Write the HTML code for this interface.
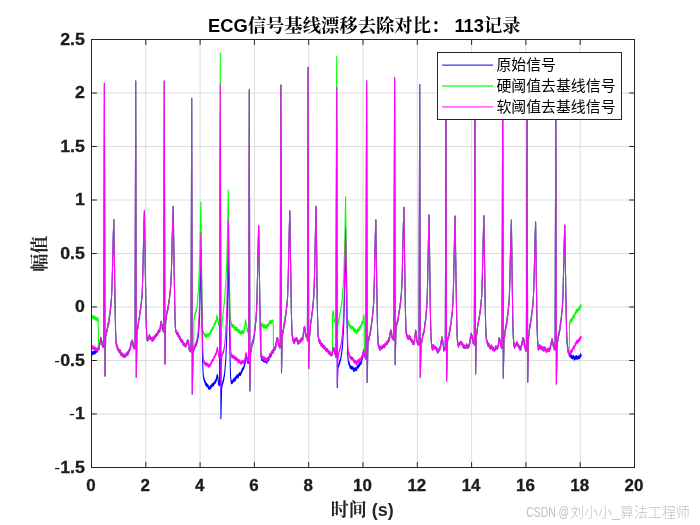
<!DOCTYPE html>
<html lang="zh"><head><meta charset="utf-8"><title>ECG信号基线漂移去除对比</title>
<style>
html,body{margin:0;padding:0;background:#fff;}
body{width:700px;height:525px;overflow:hidden;}
svg{display:block;}
.tick{font-family:"Liberation Sans",sans-serif;font-weight:bold;font-size:15.7px;fill:#1c1c1c;stroke:#1c1c1c;stroke-width:0.3px;}
.mn{font-weight:normal;stroke:none;}
.ttl{font-family:"Liberation Sans","Noto Serif CJK SC",serif;font-weight:bold;font-size:18.33px;fill:#000;}
.lab{font-family:"Liberation Sans","Noto Serif CJK SC",serif;font-weight:bold;font-size:18px;fill:#262626;}
.leg{font-family:"Liberation Sans","Noto Sans CJK SC",sans-serif;font-size:14.9px;fill:#000;}
.wm{font-family:"Liberation Sans","Noto Sans CJK SC",sans-serif;font-size:14px;fill:#c0c0c0;stroke:#fff;stroke-width:2px;paint-order:stroke fill;stroke-linejoin:round;}
.wmc{font-size:13.9px;font-weight:300;letter-spacing:0.08px;}
</style></head>
<body>
<svg width="700" height="525" viewBox="0 0 700 525">
<rect x="0" y="0" width="700" height="525" fill="#ffffff"/>
<g id="grid">
<line x1="145.80" y1="39.5" x2="145.80" y2="467.5" stroke="#dcdcdc" stroke-width="1" shape-rendering="auto"/>
<line x1="200.10" y1="39.5" x2="200.10" y2="467.5" stroke="#dcdcdc" stroke-width="1" shape-rendering="auto"/>
<line x1="254.40" y1="39.5" x2="254.40" y2="467.5" stroke="#dcdcdc" stroke-width="1" shape-rendering="auto"/>
<line x1="308.70" y1="39.5" x2="308.70" y2="467.5" stroke="#dcdcdc" stroke-width="1" shape-rendering="auto"/>
<line x1="363.00" y1="39.5" x2="363.00" y2="467.5" stroke="#dcdcdc" stroke-width="1" shape-rendering="auto"/>
<line x1="417.30" y1="39.5" x2="417.30" y2="467.5" stroke="#dcdcdc" stroke-width="1" shape-rendering="auto"/>
<line x1="471.60" y1="39.5" x2="471.60" y2="467.5" stroke="#dcdcdc" stroke-width="1" shape-rendering="auto"/>
<line x1="525.90" y1="39.5" x2="525.90" y2="467.5" stroke="#dcdcdc" stroke-width="1" shape-rendering="auto"/>
<line x1="580.20" y1="39.5" x2="580.20" y2="467.5" stroke="#dcdcdc" stroke-width="1" shape-rendering="auto"/>
<line x1="91.5" y1="93.00" x2="634.5" y2="93.00" stroke="#dcdcdc" stroke-width="1"/>
<line x1="91.5" y1="146.50" x2="634.5" y2="146.50" stroke="#dcdcdc" stroke-width="1"/>
<line x1="91.5" y1="200.00" x2="634.5" y2="200.00" stroke="#dcdcdc" stroke-width="1"/>
<line x1="91.5" y1="253.50" x2="634.5" y2="253.50" stroke="#dcdcdc" stroke-width="1"/>
<line x1="91.5" y1="307.00" x2="634.5" y2="307.00" stroke="#dcdcdc" stroke-width="1"/>
<line x1="91.5" y1="360.50" x2="634.5" y2="360.50" stroke="#dcdcdc" stroke-width="1"/>
<line x1="91.5" y1="414.00" x2="634.5" y2="414.00" stroke="#dcdcdc" stroke-width="1"/>
</g>
<clipPath id="axclip"><rect x="91.5" y="39.5" width="543.0" height="428.0"/></clipPath>
<g id="curves" clip-path="url(#axclip)">
<polyline points="91.00,355.5 91.08,353.0 91.16,355.5 91.24,353.3 91.32,354.2 91.40,352.0 91.48,353.6 91.56,352.0 91.64,354.9 91.72,352.8 91.80,354.5 91.88,353.0 91.96,354.5 92.04,353.3 92.12,354.8 92.20,352.8 92.28,355.3 92.36,352.5 92.44,354.5 92.52,351.9 92.60,354.1 92.68,352.8 92.76,354.0 92.84,352.1 92.92,353.1 93.00,351.9 93.08,353.5 93.16,351.3 93.24,353.9 93.32,351.6 93.40,353.2 93.48,351.5 93.56,352.9 93.64,352.2 93.72,354.1 93.80,352.4 93.88,353.7 93.96,352.2 94.04,354.3 94.12,352.3 94.20,353.8 94.28,352.1 94.36,353.9 94.44,351.1 94.52,353.3 94.60,351.0 94.68,352.7 94.76,351.1 94.84,352.7 94.92,350.6 95.00,352.5 95.08,350.4 95.16,352.4 95.24,351.2 95.32,353.2 95.40,351.6 95.48,353.3 95.56,351.3 95.64,353.5 95.72,350.5 95.80,352.6 95.88,350.2 95.96,352.0 96.04,350.6 96.12,351.5 96.20,350.0 96.28,351.5 96.36,350.4 96.44,352.2 96.52,350.2 96.60,351.7 96.68,349.9 96.76,352.0 96.84,349.4 96.92,351.3 97.00,349.4 97.08,352.2 97.16,349.0 97.24,351.3 97.32,350.0 97.40,351.4 97.48,349.6 97.56,351.8 97.64,349.9 97.72,351.4 97.80,348.8 97.88,350.3 97.96,348.2 98.04,349.8 98.12,348.1 98.20,348.7 98.28,346.9 98.36,349.4 98.44,347.6 98.52,349.5 98.60,347.5 98.68,349.2 98.76,348.3 98.84,349.1 98.92,348.0 99.00,349.7 99.08,346.6 99.16,347.8 99.24,345.7 99.32,347.7 99.40,345.0 99.48,346.6 99.56,343.8 99.64,345.3 99.72,343.3 99.80,345.1 99.88,342.0 99.96,343.6 100.04,341.1 100.12,342.2 100.20,339.9 100.28,341.9 100.36,339.4 100.44,340.6 100.52,337.7 100.60,339.1 100.68,337.4 100.76,339.7 100.84,337.5 100.92,339.8 101.00,338.3 101.08,339.9 101.16,338.6 101.24,339.8 101.32,339.1 101.40,341.6 101.48,339.5 101.56,341.5 101.64,340.6 101.72,342.9 101.80,341.1 101.88,343.7 101.96,341.6 102.04,344.1 102.12,342.1 102.20,345.2 102.28,343.5 102.36,346.0 102.44,343.8 102.52,346.4 102.60,344.1 102.68,346.2 102.76,345.0 102.84,347.0 102.92,344.9 103.00,346.6 103.08,344.6 103.16,346.9 103.24,344.7 103.32,346.8 103.40,344.3 103.48,346.8 103.56,345.5 103.64,347.5 103.72,338.8 103.80,309.9 103.88,277.7 103.96,250.0 104.04,218.0 104.12,189.4 104.20,157.3 104.28,129.2 104.36,97.1 104.40,83.3 104.44,100.8 104.52,142.0 104.60,178.9 104.68,220.3 104.76,257.7 104.84,297.6 104.92,335.2 105.00,375.9 105.00,374.8 105.08,371.1 105.16,365.0 105.24,362.5 105.32,355.1 105.40,353.3 105.48,346.3 105.56,344.1 105.64,338.3 105.72,336.1 105.80,335.2 105.88,336.1 105.96,334.3 106.04,335.6 106.12,333.6 106.20,334.2 106.28,332.5 106.36,333.8 106.44,331.5 106.52,332.4 106.60,330.8 106.68,332.5 106.76,329.9 106.84,331.7 106.92,329.2 107.00,331.7 107.08,329.6 107.16,331.0 107.24,329.1 107.32,330.6 107.40,327.6 107.48,329.9 107.56,327.5 107.64,328.0 107.72,326.0 107.80,326.1 107.88,324.3 107.96,326.0 108.04,323.9 108.12,325.9 108.20,323.2 108.28,324.7 108.36,322.5 108.44,325.2 108.52,323.0 108.60,324.5 108.68,321.8 108.76,324.0 108.84,321.5 108.92,322.3 109.00,319.1 109.08,320.9 109.16,318.0 109.24,319.2 109.32,316.6 109.40,318.6 109.48,315.4 109.56,316.8 109.64,315.0 109.72,316.0 109.80,314.1 109.88,314.9 109.96,311.6 110.04,313.4 110.12,311.2 110.20,311.9 110.28,309.3 110.36,310.0 110.44,308.5 110.52,308.9 110.60,306.5 110.68,308.7 110.76,306.1 110.84,306.4 110.92,304.1 111.00,305.0 111.08,302.5 111.16,303.3 111.24,300.2 111.32,301.0 111.40,298.0 111.48,299.0 111.56,295.8 111.64,295.6 111.72,292.1 111.80,292.0 111.88,289.2 111.96,288.0 112.04,284.7 112.12,283.7 112.20,279.1 112.28,277.2 112.36,272.0 112.44,271.2 112.52,266.3 112.60,264.3 112.68,258.1 112.76,256.5 112.84,251.7 112.92,249.9 113.00,245.0 113.08,244.4 113.16,238.7 113.24,238.3 113.32,233.3 113.40,232.1 113.48,228.7 113.56,228.6 113.64,224.2 113.72,223.4 113.80,219.6 113.80,219.9 113.88,225.1 113.96,232.0 114.04,236.4 114.12,243.4 114.20,246.1 114.28,253.8 114.36,256.6 114.44,265.0 114.52,267.7 114.60,275.5 114.68,278.5 114.76,285.5 114.84,288.7 114.92,295.8 115.00,298.8 115.08,306.2 115.16,308.5 115.24,314.6 115.32,316.9 115.40,322.3 115.48,324.6 115.56,330.7 115.64,331.8 115.72,335.8 115.80,335.6 115.88,339.4 115.96,338.9 116.04,342.8 116.12,341.8 116.20,343.7 116.28,342.4 116.36,345.3 116.44,343.8 116.52,345.8 116.60,343.5 116.68,346.4 116.76,344.9 116.84,346.0 116.92,344.5 117.00,347.0 117.08,345.9 117.16,347.5 117.24,345.7 117.32,348.4 117.40,347.3 117.48,349.4 117.56,347.3 117.64,349.5 117.72,347.8 117.80,349.3 117.88,348.3 117.96,349.7 118.04,348.5 118.12,350.6 118.20,348.4 118.28,350.0 118.36,348.3 118.44,351.3 118.52,348.8 118.60,351.1 118.68,349.6 118.76,351.5 118.84,350.7 118.92,351.4 119.00,349.7 119.08,351.3 119.16,350.5 119.24,352.6 119.32,350.2 119.40,351.6 119.48,350.1 119.56,351.7 119.64,349.8 119.72,351.6 119.80,350.2 119.88,352.5 119.96,350.2 120.04,351.9 120.12,349.8 120.20,352.9 120.28,351.2 120.36,352.6 120.44,351.9 120.52,354.1 120.60,351.3 120.68,353.6 120.76,351.9 120.84,354.4 120.92,353.3 121.00,355.1 121.08,352.9 121.16,354.7 121.24,353.6 121.32,355.5 121.40,354.3 121.48,355.2 121.56,353.5 121.64,355.4 121.72,352.8 121.80,355.5 121.88,353.0 121.96,355.8 122.04,353.5 122.12,355.9 122.20,353.5 122.28,355.3 122.36,354.5 122.44,356.6 122.52,354.7 122.60,356.2 122.68,353.9 122.76,355.9 122.84,353.5 122.92,355.7 123.00,354.4 123.08,355.9 123.16,353.9 123.24,356.5 123.32,354.2 123.40,356.4 123.48,354.5 123.56,356.8 123.64,354.6 123.72,357.3 123.80,354.9 123.88,356.6 123.96,354.5 124.04,356.9 124.12,355.1 124.20,357.3 124.28,355.3 124.36,357.1 124.44,355.0 124.52,356.6 124.60,354.9 124.68,356.8 124.76,355.3 124.84,357.4 124.92,355.5 125.00,357.2 125.08,355.1 125.16,357.2 125.24,355.5 125.32,356.7 125.40,354.5 125.48,356.8 125.56,354.3 125.64,355.9 125.72,353.8 125.80,355.8 125.88,354.4 125.96,356.0 126.04,354.1 126.12,355.4 126.20,353.8 126.28,355.5 126.36,354.1 126.44,355.8 126.52,353.6 126.60,355.7 126.68,353.4 126.76,355.2 126.84,353.2 126.92,355.4 127.00,352.4 127.08,354.8 127.16,352.9 127.24,355.2 127.32,353.0 127.40,354.9 127.48,352.5 127.56,354.4 127.64,352.0 127.72,354.4 127.80,353.1 127.88,355.0 127.96,352.9 128.04,354.3 128.12,351.7 128.20,353.6 128.28,351.6 128.36,352.9 128.44,351.6 128.52,353.7 128.60,351.0 128.68,352.8 128.76,350.3 128.84,352.5 128.92,350.2 129.00,352.6 129.08,350.8 129.16,351.9 129.24,350.3 129.32,351.7 129.40,349.1 129.48,351.2 129.56,349.1 129.64,350.7 129.72,348.9 129.80,350.8 129.88,348.0 129.96,349.8 130.04,347.8 130.12,349.6 130.20,347.0 130.28,348.8 130.36,347.2 130.44,348.8 130.52,346.2 130.60,347.6 130.68,345.6 130.76,346.4 130.84,344.1 130.92,346.2 131.00,343.4 131.08,345.3 131.16,342.7 131.24,344.0 131.32,342.1 131.40,343.2 131.48,341.2 131.56,343.1 131.64,340.5 131.72,342.0 131.80,340.2 131.88,342.4 131.96,340.4 132.04,341.7 132.12,340.0 132.20,341.8 132.28,340.4 132.36,342.6 132.44,340.8 132.52,342.5 132.60,341.3 132.68,343.2 132.76,341.6 132.84,343.8 132.92,342.3 133.00,345.0 133.08,343.8 133.16,345.7 133.24,344.8 133.32,346.9 133.40,344.9 133.48,347.7 133.56,346.0 133.64,347.4 133.72,345.9 133.80,348.3 133.88,346.8 133.96,348.8 134.04,346.3 134.12,348.2 134.20,346.0 134.28,348.5 134.36,346.4 134.44,347.8 134.52,346.7 134.60,348.1 134.68,346.2 134.76,347.9 134.84,346.3 134.92,348.8 135.00,348.4 135.08,319.1 135.16,287.0 135.24,258.5 135.32,226.2 135.40,196.6 135.48,164.7 135.56,135.8 135.64,103.8 135.70,81.0 135.72,89.9 135.80,130.7 135.88,168.6 135.96,210.0 136.04,247.7 136.12,289.1 136.20,326.9 136.28,368.1 136.30,377.2 136.36,375.0 136.44,367.0 136.52,364.2 136.60,357.5 136.68,353.4 136.76,345.6 136.84,342.7 136.92,336.1 137.00,333.2 137.08,329.5 137.16,330.8 137.24,329.0 137.32,329.9 137.40,327.7 137.48,330.3 137.56,327.4 137.64,329.5 137.72,326.8 137.80,328.7 137.88,326.3 137.96,328.3 138.04,325.3 138.12,326.5 138.20,324.2 138.28,324.7 138.36,322.4 138.44,324.1 138.52,321.4 138.60,322.9 138.68,320.0 138.76,321.2 138.84,319.7 138.92,319.9 139.00,318.3 139.08,319.6 139.16,317.7 139.24,319.8 139.32,317.2 139.40,318.7 139.48,315.5 139.56,317.3 139.64,314.4 139.72,315.5 139.80,313.1 139.88,314.6 139.96,312.5 140.04,313.7 140.12,310.6 140.20,312.0 140.28,310.0 140.36,311.7 140.44,309.2 140.52,310.2 140.60,308.2 140.68,309.3 140.76,307.0 140.84,307.9 140.92,306.1 141.00,306.8 141.08,304.4 141.16,305.1 141.24,303.1 141.32,304.1 141.40,300.9 141.48,301.5 141.56,299.7 141.64,300.7 141.72,297.8 141.80,299.1 141.88,295.7 141.96,297.3 142.04,294.2 142.12,295.2 142.20,291.8 142.28,292.7 142.36,288.0 142.44,287.0 142.52,282.7 142.60,282.8 142.68,278.3 142.76,277.2 142.84,271.9 142.92,270.3 143.00,264.9 143.08,263.6 143.16,258.6 143.24,256.1 143.32,250.8 143.40,248.4 143.48,243.6 143.56,241.7 143.64,237.3 143.72,235.3 143.80,230.6 143.88,229.0 143.96,223.4 144.04,222.9 144.12,218.7 144.20,218.4 144.28,214.2 144.36,212.4 144.40,210.7 144.44,213.8 144.52,217.4 144.60,224.0 144.68,228.2 144.76,235.7 144.84,238.3 144.92,244.5 145.00,248.7 145.08,255.5 145.16,258.9 145.24,265.8 145.32,269.7 145.40,277.3 145.48,279.6 145.56,286.4 145.64,288.9 145.72,296.2 145.80,299.7 145.88,305.4 145.96,308.2 146.04,313.2 146.12,315.5 146.20,321.7 146.28,322.4 146.36,327.4 146.44,328.1 146.52,332.1 146.60,331.4 146.68,335.5 146.76,334.4 146.84,337.5 146.92,336.9 147.00,339.3 147.08,338.1 147.16,339.6 147.24,338.2 147.32,340.8 147.40,339.3 147.48,340.5 147.56,338.3 147.64,341.0 147.72,339.3 147.80,340.5 147.88,338.4 147.96,340.5 148.04,338.4 148.12,339.6 148.20,337.6 148.28,340.3 148.36,338.4 148.44,338.9 148.52,337.6 148.60,339.1 148.68,336.3 148.76,338.0 148.84,336.3 148.92,337.4 149.00,335.8 149.08,337.9 149.16,335.6 149.24,336.7 149.32,335.1 149.40,336.7 149.48,334.8 149.56,337.3 149.64,336.3 149.72,337.5 149.80,335.8 149.88,338.6 149.96,337.3 150.04,339.0 150.12,337.1 150.20,339.6 150.28,338.0 150.36,339.5 150.44,337.3 150.52,339.0 150.60,337.0 150.68,339.5 150.76,337.9 150.84,339.2 150.92,338.0 151.00,338.8 151.08,337.9 151.16,339.3 151.24,337.8 151.32,339.5 151.40,337.9 151.48,339.4 151.56,338.7 151.64,339.9 151.72,338.0 151.80,340.1 151.88,338.5 151.96,340.3 152.04,338.6 152.12,341.1 152.20,337.9 152.28,340.2 152.36,338.2 152.44,340.0 152.52,338.8 152.60,340.0 152.68,338.3 152.76,341.0 152.84,338.7 152.92,339.9 153.00,338.1 153.08,339.3 153.16,337.1 153.24,339.9 153.32,338.4 153.40,340.0 153.48,338.1 153.56,338.7 153.64,337.8 153.72,340.3 153.80,338.0 153.88,339.8 153.96,337.1 154.04,338.4 154.12,336.6 154.20,338.4 154.28,336.0 154.36,338.4 154.44,336.0 154.52,338.2 154.60,336.1 154.68,338.2 154.76,336.2 154.84,338.3 154.92,335.4 155.00,338.2 155.08,336.2 155.16,337.4 155.24,335.1 155.32,338.0 155.40,336.0 155.48,337.6 155.56,334.8 155.64,336.2 155.72,334.3 155.80,336.4 155.88,334.4 155.96,336.2 156.04,334.2 156.12,335.8 156.20,334.6 156.28,336.2 156.36,334.0 156.44,336.5 156.52,333.8 156.60,335.7 156.68,334.3 156.76,335.6 156.84,334.1 156.92,335.5 157.00,333.4 157.08,335.2 157.16,333.4 157.24,334.9 157.32,334.0 157.40,335.4 157.48,332.9 157.56,334.8 157.64,332.7 157.72,334.2 157.80,332.5 157.88,334.0 157.96,331.9 158.04,332.9 158.12,330.9 158.20,332.8 158.28,331.1 158.36,332.5 158.44,330.8 158.52,332.8 158.60,330.9 158.68,332.1 158.76,330.7 158.84,332.8 158.92,330.3 159.00,332.0 159.08,329.3 159.16,332.2 159.24,330.6 159.32,331.6 159.40,329.5 159.48,331.4 159.56,330.0 159.64,331.7 159.72,330.5 159.80,331.2 159.88,329.4 159.96,330.5 160.04,328.7 160.12,329.6 160.20,327.8 160.28,328.0 160.36,325.2 160.44,326.7 160.52,324.1 160.60,325.2 160.68,323.5 160.76,324.0 160.84,321.5 160.92,323.8 161.00,321.4 161.08,322.8 161.16,321.3 161.24,322.4 161.32,322.4 161.40,323.5 161.48,322.5 161.56,324.6 161.64,323.5 161.72,325.5 161.80,323.6 161.88,326.0 161.96,325.1 162.04,326.9 162.12,325.2 162.20,328.3 162.28,326.5 162.36,328.7 162.44,327.4 162.52,328.6 162.60,327.4 162.68,330.2 162.76,327.5 162.84,330.0 162.92,328.2 163.00,329.9 163.08,328.6 163.16,331.1 163.24,330.0 163.32,331.6 163.40,329.0 163.48,332.2 163.56,330.7 163.64,317.8 163.72,288.0 163.80,260.6 163.88,229.3 163.96,202.5 164.04,172.0 164.12,145.9 164.20,115.9 164.28,89.1 164.30,80.9 164.36,110.4 164.44,146.7 164.52,186.1 164.60,221.8 164.68,262.1 164.76,297.3 164.84,336.7 164.90,363.6 164.92,364.1 165.00,357.0 165.08,353.8 165.16,348.0 165.24,345.2 165.32,338.0 165.40,334.3 165.48,328.1 165.56,325.5 165.64,321.1 165.72,323.1 165.80,319.6 165.88,320.8 165.96,319.0 166.04,319.7 166.12,316.9 166.20,318.9 166.28,316.0 166.36,317.4 166.44,315.3 166.52,316.6 166.60,314.2 166.68,315.0 166.76,313.1 166.84,314.4 166.92,311.2 167.00,313.2 167.08,311.4 167.16,312.7 167.24,310.1 167.32,311.4 167.40,310.5 167.48,311.4 167.56,309.8 167.64,310.7 167.72,309.0 167.80,310.2 167.88,307.6 167.96,308.7 168.04,306.6 168.12,309.1 168.20,306.1 168.28,307.5 168.36,304.4 168.44,306.3 168.52,303.5 168.60,305.0 168.68,302.9 168.76,304.1 168.84,301.7 168.92,303.5 169.00,301.2 169.08,302.8 169.16,299.8 169.24,301.0 169.32,298.6 169.40,298.9 169.48,297.4 169.56,298.3 169.64,295.7 169.72,296.6 169.80,293.1 169.88,294.9 169.96,291.5 170.04,293.7 170.12,291.4 170.20,293.0 170.28,290.2 170.36,291.3 170.44,287.9 170.52,289.4 170.60,286.4 170.68,287.1 170.76,284.3 170.84,284.8 170.92,281.9 171.00,281.6 171.08,278.1 171.16,279.0 171.24,274.9 171.32,273.8 171.40,270.2 171.48,268.6 171.56,265.1 171.64,263.4 171.72,258.8 171.80,257.3 171.88,252.2 171.96,250.7 172.04,245.3 172.12,242.9 172.20,237.9 172.28,237.2 172.36,232.2 172.44,231.2 172.52,226.6 172.60,226.1 172.68,221.4 172.76,220.7 172.84,216.2 172.92,216.6 173.00,212.7 173.08,211.5 173.16,207.2 173.20,206.2 173.24,208.6 173.32,215.8 173.40,219.1 173.48,224.9 173.56,228.9 173.64,235.5 173.72,239.3 173.80,246.5 173.88,250.1 173.96,256.3 174.04,259.9 174.12,267.6 174.20,270.5 174.28,277.3 174.36,280.3 174.44,287.1 174.52,290.0 174.60,296.9 174.68,299.3 174.76,305.5 174.84,308.1 174.92,313.1 175.00,314.3 175.08,319.4 175.16,320.8 175.24,325.5 175.32,324.7 175.40,327.8 175.48,327.0 175.56,330.4 175.64,329.1 175.72,331.5 175.80,329.5 175.88,332.3 175.96,330.0 176.04,332.3 176.12,330.5 176.20,332.6 176.28,330.7 176.36,332.9 176.44,331.3 176.52,333.6 176.60,331.1 176.68,334.1 176.76,332.3 176.84,334.4 176.92,332.1 177.00,333.8 177.08,332.8 177.16,334.1 177.24,332.8 177.32,334.3 177.40,333.4 177.48,334.6 177.56,333.0 177.64,335.2 177.72,332.5 177.80,334.6 177.88,332.5 177.96,334.4 178.04,333.4 178.12,336.2 178.20,334.2 178.28,336.3 178.36,334.1 178.44,335.8 178.52,334.2 178.60,336.2 178.68,334.5 178.76,336.3 178.84,335.4 178.92,337.3 179.00,335.6 179.08,337.2 179.16,336.0 179.24,337.8 179.32,336.3 179.40,338.5 179.48,336.1 179.56,338.2 179.64,336.7 179.72,339.0 179.80,336.6 179.88,339.0 179.96,337.5 180.04,339.6 180.12,337.1 180.20,340.0 180.28,337.4 180.36,339.8 180.44,338.5 180.52,340.4 180.60,338.8 180.68,340.2 180.76,338.5 180.84,340.5 180.92,338.8 181.00,341.6 181.08,340.4 181.16,341.4 181.24,339.9 181.32,342.2 181.40,339.8 181.48,341.9 181.56,340.0 181.64,342.3 181.72,340.4 181.80,341.5 181.88,339.8 181.96,342.1 182.04,339.8 182.12,341.3 182.20,340.1 182.28,342.2 182.36,340.4 182.44,342.8 182.52,340.5 182.60,342.6 182.68,341.2 182.76,343.6 182.84,341.4 182.92,344.0 183.00,342.4 183.08,344.4 183.16,342.4 183.24,345.0 183.32,342.8 183.40,344.4 183.48,342.5 183.56,344.6 183.64,342.4 183.72,345.0 183.80,343.2 183.88,344.9 183.96,343.0 184.04,344.8 184.12,343.1 184.20,345.7 184.28,343.8 184.36,345.0 184.44,343.4 184.52,345.4 184.60,343.8 184.68,345.4 184.76,344.0 184.84,345.4 184.92,343.8 185.00,346.4 185.08,344.1 185.16,346.3 185.24,344.5 185.32,346.7 185.40,344.4 185.48,346.4 185.56,344.9 185.64,347.3 185.72,344.7 185.80,346.4 185.88,344.7 185.96,345.9 186.04,343.9 186.12,345.6 186.20,344.3 186.28,345.3 186.36,343.6 186.44,345.4 186.52,343.2 186.60,345.2 186.68,342.2 186.76,344.4 186.84,343.0 186.92,343.8 187.00,341.3 187.08,343.7 187.16,341.8 187.24,343.3 187.32,340.5 187.40,343.6 187.48,340.6 187.56,342.5 187.64,340.0 187.72,342.2 187.80,341.0 187.88,342.4 187.96,340.9 188.04,342.0 188.12,340.1 188.20,342.5 188.28,340.7 188.36,343.8 188.44,342.0 188.52,344.7 188.60,341.9 188.68,345.0 188.76,344.0 188.84,346.1 188.92,344.7 189.00,347.8 189.08,347.7 189.16,349.8 189.24,347.6 189.32,350.1 189.40,348.6 189.48,350.3 189.56,349.4 189.64,351.0 189.72,349.7 189.80,351.2 189.88,348.5 189.96,350.6 190.04,348.8 190.12,350.3 190.20,349.0 190.28,351.2 190.36,349.3 190.44,350.8 190.52,349.4 190.60,351.1 190.68,349.3 190.76,351.0 190.84,349.0 190.92,351.9 191.00,349.6 191.08,323.1 191.16,292.2 191.24,264.5 191.32,234.1 191.40,208.0 191.48,177.0 191.56,150.1 191.64,119.5 191.70,98.2 191.72,107.5 191.80,148.9 191.88,186.1 191.96,228.1 192.04,265.6 192.12,306.9 192.20,344.6 192.28,385.5 192.30,394.0 192.36,392.0 192.44,385.1 192.52,381.7 192.60,375.8 192.68,372.5 192.76,366.1 192.84,363.4 192.92,356.1 193.00,353.7 193.08,351.5 193.16,353.3 193.24,351.2 193.32,352.5 193.40,349.7 193.48,351.3 193.56,348.4 193.64,350.3 193.72,347.8 193.80,350.5 193.88,347.9 193.96,350.1 194.04,346.9 194.12,348.9 194.20,347.2 194.28,349.1 194.36,347.2 194.44,348.9 194.52,347.3 194.60,347.8 194.68,346.0 194.76,348.2 194.84,345.9 194.92,347.5 195.00,345.5 195.08,346.5 195.16,344.7 195.24,346.9 195.32,344.5 195.40,346.4 195.48,344.6 195.56,346.0 195.64,343.7 195.72,345.9 195.80,343.8 195.88,345.1 195.96,343.7 196.04,345.6 196.12,342.8 196.20,345.5 196.28,343.7 196.36,345.7 196.44,343.7 196.52,345.1 196.60,342.9 196.68,344.2 196.76,342.3 196.84,344.1 196.92,341.8 197.00,343.6 197.08,341.1 197.16,342.7 197.24,340.1 197.32,341.7 197.40,339.2 197.48,341.2 197.56,339.1 197.64,340.3 197.72,338.6 197.80,339.6 197.88,337.5 197.96,338.2 198.04,336.3 198.12,338.3 198.20,336.1 198.28,336.5 198.36,333.9 198.44,334.2 198.52,331.6 198.60,332.6 198.68,330.4 198.76,331.4 198.84,329.2 198.92,329.3 199.00,326.6 199.08,327.1 199.16,323.0 199.24,323.9 199.32,320.1 199.40,319.9 199.48,316.0 199.56,315.1 199.64,310.7 199.72,309.8 199.80,304.5 199.88,303.1 199.96,299.3 200.04,298.7 200.12,292.6 200.20,291.4 200.28,284.9 200.36,283.9 200.44,277.0 200.52,275.1 200.60,269.1 200.68,266.2 200.76,259.8 200.84,256.5 200.90,253.0 200.92,254.5 201.00,259.5 201.08,266.4 201.16,269.4 201.24,277.1 201.32,280.5 201.40,287.9 201.48,291.0 201.56,298.8 201.64,302.7 201.72,309.4 201.80,312.6 201.88,319.7 201.96,323.7 202.04,330.0 202.12,333.1 202.20,339.7 202.28,341.8 202.36,348.6 202.44,349.9 202.52,356.1 202.60,358.3 202.68,363.0 202.76,363.3 202.84,368.2 202.92,367.9 203.00,372.2 203.08,371.7 203.16,374.4 203.24,373.4 203.32,376.2 203.40,375.1 203.48,377.0 203.56,376.2 203.64,378.3 203.72,377.4 203.80,379.7 203.88,377.4 203.96,380.1 204.04,377.8 204.12,380.1 204.20,378.9 204.28,380.8 204.36,379.5 204.44,381.7 204.52,379.9 204.60,382.3 204.68,379.7 204.76,382.3 204.84,380.2 204.92,382.5 205.00,381.3 205.08,383.2 205.16,382.0 205.24,383.4 205.32,382.3 205.40,384.3 205.48,382.6 205.56,384.2 205.64,382.1 205.72,384.4 205.80,382.4 205.88,385.4 205.96,383.0 206.04,385.0 206.12,383.7 206.20,385.2 206.28,384.3 206.36,385.5 206.44,384.2 206.52,386.4 206.60,383.9 206.68,386.2 206.76,383.4 206.84,385.6 206.92,383.7 207.00,385.2 207.08,384.5 207.16,386.3 207.24,384.3 207.32,385.8 207.40,384.8 207.48,386.7 207.56,384.9 207.64,386.2 207.72,384.7 207.80,386.6 207.88,384.5 207.96,387.3 208.04,385.6 208.12,387.4 208.20,385.6 208.28,388.3 208.36,385.7 208.44,387.7 208.52,386.8 208.60,388.5 208.68,387.6 208.76,388.5 208.84,387.0 208.92,389.5 209.00,386.8 209.08,389.2 209.16,386.7 209.24,388.6 209.32,387.1 209.40,388.9 209.48,387.2 209.56,388.9 209.64,386.9 209.72,388.6 209.80,387.6 209.88,389.1 209.96,387.1 210.04,389.1 210.12,386.4 210.20,388.3 210.28,387.5 210.36,388.3 210.44,386.8 210.52,388.4 210.60,385.6 210.68,388.3 210.76,386.7 210.84,387.9 210.92,386.0 211.00,388.3 211.08,385.5 211.16,387.5 211.24,385.9 211.32,387.6 211.40,384.9 211.48,386.9 211.56,385.4 211.64,386.4 211.72,385.1 211.80,386.8 211.88,384.2 211.96,386.8 212.04,384.6 212.12,386.0 212.20,383.9 212.28,386.0 212.36,384.5 212.44,385.4 212.52,383.6 212.60,385.8 212.68,384.0 212.76,385.4 212.84,383.7 212.92,386.0 213.00,383.7 213.08,386.0 213.16,384.5 213.24,385.9 213.32,384.9 213.40,385.8 213.48,384.4 213.56,385.7 213.64,383.8 213.72,385.1 213.80,382.6 213.88,384.2 213.96,383.3 214.04,384.8 214.12,382.0 214.20,383.9 214.28,381.9 214.36,383.8 214.44,382.1 214.52,383.8 214.60,381.6 214.68,383.5 214.76,382.2 214.84,383.8 214.92,381.7 215.00,383.5 215.08,381.0 215.16,383.4 215.24,380.6 215.32,382.7 215.40,379.8 215.48,382.3 215.56,380.7 215.64,381.9 215.72,380.5 215.80,382.2 215.88,379.7 215.96,381.0 216.04,379.7 216.12,381.2 216.20,379.5 216.28,381.0 216.36,377.9 216.44,380.8 216.52,377.4 216.60,379.2 216.68,376.9 216.76,378.0 216.84,376.6 216.92,377.7 217.00,375.3 217.08,376.3 217.16,374.7 217.24,375.9 217.32,374.5 217.40,376.0 217.48,375.4 217.56,377.7 217.64,375.1 217.72,378.1 217.80,376.6 217.88,378.8 217.96,377.1 218.04,380.5 218.12,378.3 218.20,380.7 218.28,380.1 218.36,382.1 218.44,381.5 218.52,383.2 218.60,382.3 218.68,384.4 218.76,383.3 218.84,385.0 218.92,383.6 219.00,385.0 219.08,383.3 219.16,385.5 219.24,383.6 219.32,385.4 219.40,383.3 219.48,385.7 219.56,384.1 219.64,370.9 219.72,337.2 219.80,308.6 219.88,274.9 219.96,246.0 220.04,213.4 220.12,183.7 220.20,150.8 220.28,120.7 220.30,111.8 220.36,143.3 220.44,183.0 220.52,225.2 220.60,264.0 220.68,307.5 220.76,346.6 220.84,389.4 220.90,418.3 220.92,418.8 221.00,414.6 221.08,412.7 221.16,407.9 221.24,406.1 221.32,400.9 221.40,399.2 221.48,393.7 221.56,392.4 221.64,387.8 221.72,388.5 221.80,386.1 221.88,387.7 221.96,384.6 222.04,385.9 222.12,383.8 222.20,385.8 222.28,384.0 222.36,384.7 222.44,383.0 222.52,384.7 222.60,382.5 222.68,383.6 222.76,381.8 222.84,383.6 222.92,381.0 223.00,382.0 223.08,380.2 223.16,381.8 223.24,380.3 223.32,382.2 223.40,379.8 223.48,381.2 223.56,378.8 223.64,379.6 223.72,377.3 223.80,379.9 223.88,377.8 223.96,378.6 224.04,376.3 224.12,377.0 224.20,375.1 224.28,376.9 224.36,374.1 224.44,376.0 224.52,374.0 224.60,374.3 224.68,371.8 224.76,373.4 224.84,370.9 224.92,371.7 225.00,368.3 225.08,369.1 225.16,367.0 225.24,367.1 225.32,364.2 225.40,365.4 225.48,363.3 225.56,363.6 225.64,360.5 225.72,360.7 225.80,357.3 225.88,358.0 225.96,354.9 226.04,354.9 226.12,351.0 226.20,351.2 226.28,347.7 226.36,347.9 226.44,343.8 226.52,342.9 226.60,338.9 226.68,338.3 226.76,333.7 226.84,333.0 226.92,328.1 227.00,326.4 227.08,320.6 227.16,318.8 227.24,313.1 227.32,310.6 227.40,305.4 227.48,302.8 227.56,297.4 227.64,295.2 227.72,288.1 227.80,283.9 227.88,276.4 227.96,272.4 228.04,265.1 228.12,260.8 228.20,253.5 228.28,248.5 228.30,246.7 228.36,251.0 228.44,254.2 228.52,260.8 228.60,265.0 228.68,271.9 228.76,275.3 228.84,282.6 228.92,286.8 229.00,294.0 229.08,297.5 229.16,304.7 229.24,307.9 229.32,315.8 229.40,318.6 229.48,325.3 229.56,328.5 229.64,335.1 229.72,338.4 229.80,345.1 229.88,346.3 229.96,353.5 230.04,354.8 230.12,360.5 230.20,363.1 230.28,367.8 230.36,369.4 230.44,373.5 230.52,374.1 230.60,376.9 230.68,377.0 230.76,378.9 230.84,378.7 230.92,381.1 231.00,379.7 231.08,382.1 231.16,380.2 231.24,382.9 231.32,380.2 231.40,382.2 231.48,380.9 231.56,383.7 231.64,381.1 231.72,382.7 231.80,380.7 231.88,383.5 231.96,381.3 232.04,382.6 232.12,381.2 232.20,383.8 232.28,381.9 232.36,383.3 232.44,381.0 232.52,383.1 232.60,380.8 232.68,382.4 232.76,381.0 232.84,382.0 232.92,379.7 233.00,381.7 233.08,379.6 233.16,382.2 233.24,380.7 233.32,381.7 233.40,379.1 233.48,380.4 233.56,378.8 233.64,381.5 233.72,379.6 233.80,381.1 233.88,379.5 233.96,381.4 234.04,379.2 234.12,380.4 234.20,379.2 234.28,380.6 234.36,379.3 234.44,381.1 234.52,378.0 234.60,380.5 234.68,378.2 234.76,380.3 234.84,378.9 234.92,380.6 235.00,377.9 235.08,380.2 235.16,378.4 235.24,380.9 235.32,378.4 235.40,379.8 235.48,378.1 235.56,379.6 235.64,377.1 235.72,379.2 235.80,376.9 235.88,379.4 235.96,376.2 236.04,377.8 236.12,376.4 236.20,378.0 236.28,377.0 236.36,378.3 236.44,376.1 236.52,378.3 236.60,375.8 236.68,377.3 236.76,375.5 236.84,376.9 236.92,374.7 237.00,377.3 237.08,374.8 237.16,376.7 237.24,374.7 237.32,377.0 237.40,375.7 237.48,377.8 237.56,375.2 237.64,377.6 237.72,375.6 237.80,377.5 237.88,375.2 237.96,377.6 238.04,376.0 238.12,377.9 238.20,375.4 238.28,377.4 238.36,375.6 238.44,377.5 238.52,374.1 238.60,376.2 238.68,373.9 238.76,376.1 238.84,374.3 238.92,375.9 239.00,373.8 239.08,375.7 239.16,373.2 239.24,375.0 239.32,373.8 239.40,375.3 239.48,372.9 239.56,375.3 239.64,373.3 239.72,375.1 239.80,372.4 239.88,374.7 239.96,373.3 240.04,375.4 240.12,374.1 240.20,374.9 240.28,373.6 240.36,375.1 240.44,373.2 240.52,375.4 240.60,373.4 240.68,374.6 240.76,372.9 240.84,374.8 240.92,372.2 241.00,374.4 241.08,372.1 241.16,373.8 241.24,371.1 241.32,373.0 241.40,371.4 241.48,373.6 241.56,371.4 241.64,373.1 241.72,370.7 241.80,371.8 241.88,369.8 241.96,371.8 242.04,369.3 242.12,371.8 242.20,369.4 242.28,370.7 242.36,368.7 242.44,371.1 242.52,368.2 242.60,370.5 242.68,368.4 242.76,370.4 242.84,368.1 242.92,370.2 243.00,367.5 243.08,369.8 243.16,367.2 243.24,368.8 243.32,367.3 243.40,369.2 243.48,367.0 243.56,368.6 243.64,366.9 243.72,369.0 243.80,367.0 243.88,368.0 243.96,366.1 244.04,367.9 244.12,365.6 244.20,367.6 244.28,365.3 244.36,366.3 244.44,364.3 244.52,365.9 244.60,363.6 244.68,366.0 244.76,363.6 244.84,365.2 244.92,362.6 245.00,363.7 245.08,361.1 245.16,363.5 245.24,360.4 245.32,362.5 245.40,359.4 245.48,359.8 245.56,357.2 245.64,358.5 245.72,356.4 245.80,357.6 245.88,356.2 245.96,357.4 246.04,354.9 246.12,356.7 246.20,355.4 246.28,357.2 246.36,355.0 246.44,358.3 246.52,355.9 246.60,358.3 246.68,356.5 246.76,358.6 246.84,357.7 246.92,359.1 247.00,358.6 247.08,360.8 247.16,360.1 247.24,361.7 247.32,360.2 247.40,362.5 247.48,360.1 247.56,362.9 247.64,360.1 247.72,362.4 247.80,359.7 247.88,361.5 247.96,359.1 248.04,361.2 248.12,358.8 248.20,361.4 248.28,359.6 248.36,362.0 248.44,360.4 248.52,363.3 248.60,362.9 248.68,332.9 248.76,300.4 248.84,270.0 248.92,236.9 249.00,207.6 249.08,175.5 249.16,145.9 249.24,112.7 249.30,90.4 249.32,99.9 249.40,141.3 249.48,179.9 249.56,222.1 249.64,261.2 249.72,302.5 249.80,340.6 249.88,383.1 249.90,391.1 249.96,388.9 250.04,382.3 250.12,380.1 250.20,373.3 250.28,371.1 250.36,365.7 250.44,362.4 250.52,356.6 250.60,354.5 250.68,352.0 250.76,353.1 250.84,350.8 250.92,352.8 251.00,350.2 251.08,351.7 251.16,349.2 251.24,351.1 251.32,347.9 251.40,349.9 251.48,347.7 251.56,348.9 251.64,346.8 251.72,347.3 251.80,345.9 251.88,347.1 251.96,345.0 252.04,346.4 252.12,344.2 252.20,344.8 252.28,342.6 252.36,344.6 252.44,342.4 252.52,344.0 252.60,342.5 252.68,343.6 252.76,341.5 252.84,343.0 252.92,340.9 253.00,343.4 253.08,341.0 253.16,342.6 253.24,341.2 253.32,341.7 253.40,339.9 253.48,342.0 253.56,339.7 253.64,341.1 253.72,338.5 253.80,339.6 253.88,338.1 253.96,339.1 254.04,336.2 254.12,337.5 254.20,335.2 254.28,336.3 254.36,334.2 254.44,335.0 254.52,332.5 254.60,333.4 254.68,331.4 254.76,332.5 254.84,329.6 254.92,331.2 255.00,327.8 255.08,329.3 255.16,326.9 255.24,327.8 255.32,325.4 255.40,326.1 255.48,324.1 255.56,324.8 255.64,322.9 255.72,323.7 255.80,320.4 255.88,321.7 255.96,319.2 256.04,319.6 256.12,317.0 256.20,317.6 256.28,314.3 256.36,314.8 256.44,311.7 256.52,313.2 256.60,309.5 256.68,309.7 256.76,304.9 256.84,305.0 256.92,301.3 257.00,300.5 257.08,294.6 257.16,293.3 257.24,288.8 257.32,286.2 257.40,280.6 257.48,279.0 257.56,273.5 257.64,271.4 257.72,264.6 257.80,262.5 257.88,257.1 257.96,255.9 258.04,250.1 258.12,248.5 258.20,242.8 258.28,242.4 258.36,237.4 258.44,235.8 258.52,232.1 258.60,231.2 258.68,226.9 258.70,226.6 258.76,230.4 258.84,237.3 258.92,240.4 259.00,248.2 259.08,251.4 259.16,258.7 259.24,262.4 259.32,270.3 259.40,273.9 259.48,280.2 259.56,284.5 259.64,291.0 259.72,294.4 259.80,302.0 259.88,304.8 259.96,311.7 260.04,315.0 260.12,320.7 260.20,323.2 260.28,329.9 260.36,332.4 260.44,338.4 260.52,340.8 260.60,345.2 260.68,345.9 260.76,349.9 260.84,350.5 260.92,354.3 261.00,353.8 261.08,356.5 261.16,355.6 261.24,358.2 261.32,356.4 261.40,358.8 261.48,357.0 261.56,359.9 261.64,358.0 261.72,360.0 261.80,358.0 261.88,360.1 261.96,357.7 262.04,360.4 262.12,357.5 262.20,360.1 262.28,357.9 262.36,360.0 262.44,358.1 262.52,360.2 262.60,357.4 262.68,359.5 262.76,358.9 262.84,360.7 262.92,359.1 263.00,360.9 263.08,358.8 263.16,361.1 263.24,358.9 263.32,361.7 263.40,359.3 263.48,360.8 263.56,359.3 263.64,360.0 263.72,358.3 263.80,360.5 263.88,357.9 263.96,360.3 264.04,358.3 264.12,360.4 264.20,358.5 264.28,361.5 264.36,359.5 264.44,361.9 264.52,359.1 264.60,361.6 264.68,358.8 264.76,361.1 264.84,359.1 264.92,360.9 265.00,359.1 265.08,361.9 265.16,359.8 265.24,361.5 265.32,360.2 265.40,361.4 265.48,360.6 265.56,362.0 265.64,360.4 265.72,361.6 265.80,360.3 265.88,361.4 265.96,359.5 266.04,361.0 266.12,359.8 266.20,362.0 266.28,360.8 266.36,362.4 266.44,360.0 266.52,363.1 266.60,360.7 266.68,363.1 266.76,361.3 266.84,363.2 266.92,361.6 267.00,362.9 267.08,360.1 267.16,362.6 267.24,360.4 267.32,361.1 267.40,359.0 267.48,361.4 267.56,359.2 267.64,361.1 267.72,359.3 267.80,361.4 267.88,359.3 267.96,360.5 268.04,359.0 268.12,360.8 268.20,359.7 268.28,361.0 268.36,358.6 268.44,359.9 268.52,358.3 268.60,360.8 268.68,358.5 268.76,360.3 268.84,358.6 268.92,360.2 269.00,357.5 269.08,359.3 269.16,356.9 269.24,359.3 269.32,356.0 269.40,358.1 269.48,356.0 269.56,357.8 269.64,355.1 269.72,357.7 269.80,355.1 269.88,357.1 269.96,354.7 270.04,356.8 270.12,355.1 270.20,356.4 270.28,355.2 270.36,357.2 270.44,355.6 270.52,356.3 270.60,354.8 270.68,356.9 270.76,354.9 270.84,355.9 270.92,353.8 271.00,356.2 271.08,353.8 271.16,356.2 271.24,354.4 271.32,355.9 271.40,353.3 271.48,355.2 271.56,352.6 271.64,353.9 271.72,352.8 271.80,354.2 271.88,351.8 271.96,353.4 272.04,352.2 272.12,353.5 272.20,351.6 272.28,353.2 272.36,351.3 272.44,353.2 272.52,351.2 272.60,352.6 272.68,351.1 272.76,352.8 272.84,350.3 272.92,351.7 273.00,350.0 273.08,352.7 273.16,350.9 273.24,352.9 273.32,350.9 273.40,352.9 273.48,350.5 273.56,352.3 273.64,350.4 273.72,351.7 273.80,349.4 273.88,350.6 273.96,348.3 274.04,349.6 274.12,348.1 274.20,349.2 274.28,347.3 274.36,349.1 274.44,347.4 274.52,349.1 274.60,347.6 274.68,349.9 274.76,347.4 274.84,349.6 274.92,347.8 275.00,349.9 275.08,347.9 275.16,348.7 275.24,347.3 275.32,348.5 275.40,347.3 275.48,348.7 275.56,346.2 275.64,347.5 275.72,345.7 275.80,347.1 275.88,344.9 275.96,346.4 276.04,343.6 276.12,346.0 276.20,342.6 276.28,344.6 276.36,341.6 276.44,343.0 276.52,340.4 276.60,341.3 276.68,338.6 276.76,339.7 276.84,338.8 276.92,340.1 277.00,338.2 277.08,340.0 277.16,337.5 277.24,339.8 277.32,337.7 277.40,340.4 277.48,338.4 277.56,340.6 277.64,337.9 277.72,340.3 277.80,339.2 277.88,341.3 277.96,340.3 278.04,342.1 278.12,340.1 278.20,342.5 278.28,341.9 278.36,344.6 278.44,343.0 278.52,344.2 278.60,343.0 278.68,345.5 278.76,343.8 278.84,345.3 278.92,344.5 279.00,346.4 279.08,343.9 279.16,345.3 279.24,343.6 279.32,345.8 279.40,343.7 279.48,346.1 279.56,345.0 279.64,346.4 279.72,345.8 279.80,347.8 279.88,344.7 279.96,347.8 280.04,346.0 280.12,347.9 280.20,346.7 280.28,318.3 280.36,285.3 280.44,257.7 280.52,225.4 280.60,198.3 280.68,165.6 280.76,137.7 280.84,105.9 280.90,85.0 280.92,93.4 281.00,133.9 281.08,170.6 281.16,210.1 281.24,246.9 281.32,288.1 281.40,324.0 281.48,364.2 281.50,372.8 281.56,371.4 281.64,364.9 281.72,363.1 281.80,357.6 281.88,355.1 281.96,348.1 282.04,346.3 282.12,339.1 282.20,337.4 282.28,335.4 282.36,336.9 282.44,333.6 282.52,335.2 282.60,332.6 282.68,333.8 282.76,332.0 282.84,333.7 282.92,330.9 283.00,332.5 283.08,330.2 283.16,331.8 283.24,329.8 283.32,331.5 283.40,329.1 283.48,329.9 283.56,328.3 283.64,329.2 283.72,326.9 283.80,327.7 283.88,325.3 283.96,326.6 284.04,324.5 284.12,326.1 284.20,324.0 284.28,324.9 284.36,322.6 284.44,324.4 284.52,321.9 284.60,324.2 284.68,322.1 284.76,323.5 284.84,320.7 284.92,322.3 285.00,320.0 285.08,320.7 285.16,317.7 285.24,319.3 285.32,316.2 285.40,317.5 285.48,315.0 285.56,316.8 285.64,314.1 285.72,315.9 285.80,313.2 285.88,315.1 285.96,311.7 286.04,313.7 286.12,310.8 286.20,311.6 286.28,309.5 286.36,310.7 286.44,307.4 286.52,308.8 286.60,306.3 286.68,307.8 286.76,305.8 286.84,306.7 286.92,304.0 287.00,305.5 287.08,303.3 287.16,303.9 287.24,300.9 287.32,301.6 287.40,298.8 287.48,299.2 287.56,296.3 287.64,297.1 287.72,292.3 287.80,292.0 287.88,288.0 287.96,286.9 288.04,282.5 288.12,282.4 288.20,276.6 288.28,276.1 288.36,270.0 288.44,268.5 288.52,262.9 288.60,261.0 288.68,255.3 288.76,252.8 288.84,247.6 288.92,245.7 289.00,241.3 289.08,239.1 289.16,233.9 289.24,232.3 289.32,226.9 289.40,225.9 289.48,220.9 289.56,220.7 289.64,215.8 289.72,214.5 289.80,210.7 289.80,211.1 289.88,216.0 289.96,220.7 290.04,223.7 290.12,232.2 290.20,235.1 290.28,242.5 290.36,245.9 290.44,253.7 290.52,257.3 290.60,263.8 290.68,267.3 290.76,275.0 290.84,278.6 290.92,285.4 291.00,288.4 291.08,295.7 291.16,298.0 291.24,305.0 291.32,306.6 291.40,313.2 291.48,315.9 291.56,319.6 291.64,320.9 291.72,326.0 291.80,325.8 291.88,330.4 291.96,330.5 292.04,333.6 292.12,332.1 292.20,335.6 292.28,333.9 292.36,337.0 292.44,335.5 292.52,338.2 292.60,336.2 292.68,338.9 292.76,337.7 292.84,339.0 292.92,338.8 293.00,341.1 293.08,339.3 293.16,340.9 293.24,339.8 293.32,341.6 293.40,340.0 293.48,342.2 293.56,339.7 293.64,342.6 293.72,340.0 293.80,342.2 293.88,341.4 293.96,343.5 294.04,341.7 294.12,343.1 294.20,341.5 294.28,343.6 294.36,341.5 294.44,342.8 294.52,340.6 294.60,342.4 294.68,339.3 294.76,340.8 294.84,338.9 294.92,340.5 295.00,338.5 295.08,340.9 295.16,338.3 295.24,341.0 295.32,338.8 295.40,340.4 295.48,338.7 295.56,340.6 295.64,339.2 295.72,341.1 295.80,338.8 295.88,340.9 295.96,338.3 296.04,340.4 296.12,338.1 296.20,341.0 296.28,338.5 296.36,340.7 296.44,337.9 296.52,339.8 296.60,338.4 296.68,340.1 296.76,338.0 296.84,340.0 296.92,338.1 297.00,339.6 297.08,338.2 297.16,339.7 297.24,339.5 297.32,341.1 297.40,339.4 297.48,341.4 297.56,339.5 297.64,342.3 297.72,340.4 297.80,343.3 297.88,341.0 297.96,343.0 298.04,341.8 298.12,344.0 298.20,341.8 298.28,343.8 298.36,341.9 298.44,342.9 298.52,341.1 298.60,343.2 298.68,341.2 298.76,343.3 298.84,341.3 298.92,343.7 299.00,341.5 299.08,343.1 299.16,341.9 299.24,343.5 299.32,341.3 299.40,343.3 299.48,341.5 299.56,342.8 299.64,341.5 299.72,342.9 299.80,340.4 299.88,342.4 299.96,340.3 300.04,342.0 300.12,340.2 300.20,341.5 300.28,339.3 300.36,341.1 300.44,339.1 300.52,341.6 300.60,339.8 300.68,340.8 300.76,339.8 300.84,341.3 300.92,340.1 301.00,341.8 301.08,339.8 301.16,341.5 301.24,339.7 301.32,340.3 301.40,338.6 301.48,340.1 301.56,338.3 301.64,340.2 301.72,338.1 301.80,339.4 301.88,337.8 301.96,339.8 302.04,337.7 302.12,340.2 302.20,338.8 302.28,339.9 302.36,337.8 302.44,340.2 302.52,338.7 302.60,340.5 302.68,338.0 302.76,340.1 302.84,338.0 302.92,338.9 303.00,336.8 303.08,337.2 303.16,334.5 303.24,336.1 303.32,334.1 303.40,335.3 303.48,331.5 303.56,333.9 303.64,331.2 303.72,331.8 303.80,330.0 303.88,331.0 303.96,328.2 304.04,330.9 304.12,327.2 304.20,329.0 304.28,327.1 304.36,327.9 304.44,326.5 304.52,327.4 304.60,326.5 304.68,328.1 304.76,327.1 304.84,328.8 304.92,328.4 305.00,330.3 305.08,330.1 305.16,332.2 305.24,330.3 305.32,333.4 305.40,331.8 305.48,334.7 305.56,333.3 305.64,335.7 305.72,334.3 305.80,335.4 305.88,334.0 305.96,336.2 306.04,335.2 306.12,336.8 306.20,335.0 306.28,337.2 306.36,334.8 306.44,336.7 306.52,334.5 306.60,336.9 306.68,334.7 306.76,336.5 306.84,334.2 306.92,337.1 307.00,335.2 307.08,338.0 307.16,335.6 307.24,338.7 307.32,337.7 307.40,340.9 307.48,307.7 307.56,278.2 307.64,245.3 307.72,215.9 307.80,182.5 307.88,153.8 307.96,120.0 308.04,91.2 308.10,67.2 308.12,77.7 308.20,115.6 308.28,157.8 308.36,196.0 308.44,238.0 308.52,276.9 308.60,317.9 308.68,356.7 308.70,368.6 308.76,363.1 308.84,362.1 308.92,356.6 309.00,353.7 309.08,349.4 309.16,347.5 309.24,341.8 309.32,340.1 309.40,334.6 309.48,335.6 309.56,333.9 309.64,335.4 309.72,333.7 309.80,335.2 309.88,332.0 309.96,333.3 310.04,331.6 310.12,332.3 310.20,328.5 310.28,328.8 310.36,326.2 310.44,326.8 310.52,323.5 310.60,325.0 310.68,321.9 310.76,323.6 310.84,321.0 310.92,322.4 311.00,320.2 311.08,322.0 311.16,319.4 311.24,320.5 311.32,318.0 311.40,319.9 311.48,317.4 311.56,318.9 311.64,315.3 311.72,317.0 311.80,314.9 311.88,315.7 311.96,312.9 312.04,314.0 312.12,312.0 312.20,313.4 312.28,311.5 312.36,311.6 312.44,310.0 312.52,311.5 312.60,308.5 312.68,309.4 312.76,307.6 312.84,308.7 312.92,305.6 313.00,306.3 313.08,303.2 313.16,305.1 313.24,301.4 313.32,302.9 313.40,300.0 313.48,300.0 313.56,297.7 313.64,298.9 313.72,296.0 313.80,296.4 313.88,292.9 313.96,293.3 314.04,289.9 314.12,289.6 314.20,286.1 314.28,284.6 314.36,279.6 314.44,278.7 314.52,273.4 314.60,272.4 314.68,266.8 314.76,265.1 314.84,258.9 314.92,256.8 315.00,251.2 315.08,249.9 315.16,244.7 315.24,242.7 315.32,237.1 315.40,235.1 315.48,229.7 315.56,227.4 315.64,223.2 315.72,221.8 315.80,215.9 315.88,216.0 315.96,210.8 316.04,208.8 316.10,206.3 316.12,208.3 316.20,214.3 316.28,223.4 316.36,227.6 316.44,236.4 316.52,241.0 316.60,249.7 316.68,254.6 316.76,263.8 316.84,267.4 316.92,276.9 317.00,279.6 317.08,287.1 317.16,291.4 317.24,299.2 317.32,302.4 317.40,309.4 317.48,312.3 317.56,317.5 317.64,319.7 317.72,324.1 317.80,325.7 317.88,329.9 317.96,330.1 318.04,333.8 318.12,333.9 318.20,337.0 318.28,335.3 318.36,337.1 318.44,336.5 318.52,338.5 318.60,337.6 318.68,339.2 318.76,337.8 318.84,340.3 318.92,339.0 319.00,341.4 319.08,339.3 319.16,341.5 319.24,340.8 319.32,342.7 319.40,340.6 319.48,342.5 319.56,341.2 319.64,342.4 319.72,340.9 319.80,342.8 319.88,341.6 319.96,343.5 320.04,340.4 320.12,342.0 320.20,340.2 320.28,342.5 320.36,340.8 320.44,343.0 320.52,341.8 320.60,344.2 320.68,342.2 320.76,344.7 320.84,343.3 320.92,344.8 321.00,343.5 321.08,345.0 321.16,343.0 321.24,346.1 321.32,344.2 321.40,345.5 321.48,343.2 321.56,345.0 321.64,343.2 321.72,346.2 321.80,344.5 321.88,346.4 321.96,344.4 322.04,345.4 322.12,343.9 322.20,345.7 322.28,344.9 322.36,346.1 322.44,343.7 322.52,345.5 322.60,344.1 322.68,347.3 322.76,344.3 322.84,347.1 322.92,345.1 323.00,347.0 323.08,345.3 323.16,347.8 323.24,346.2 323.32,348.0 323.40,346.5 323.48,347.3 323.56,346.1 323.64,348.3 323.72,345.7 323.80,347.5 323.88,345.5 323.96,347.2 324.04,345.4 324.12,348.0 324.20,346.3 324.28,348.3 324.36,346.3 324.44,348.0 324.52,347.6 324.60,348.9 324.68,347.3 324.76,348.9 324.84,347.3 324.92,348.9 325.00,346.9 325.08,349.3 325.16,347.7 325.24,349.0 325.32,347.0 325.40,349.4 325.48,347.4 325.56,350.3 325.64,348.6 325.72,350.6 325.80,348.2 325.88,349.8 325.96,348.5 326.04,350.6 326.12,348.5 326.20,351.1 326.28,349.4 326.36,351.2 326.44,349.0 326.52,351.2 326.60,349.3 326.68,351.3 326.76,348.5 326.84,350.4 326.92,349.0 327.00,350.2 327.08,348.9 327.16,350.4 327.24,348.4 327.32,350.8 327.40,349.2 327.48,351.6 327.56,350.2 327.64,351.5 327.72,349.3 327.80,351.4 327.88,350.3 327.96,351.8 328.04,350.4 328.12,352.2 328.20,351.2 328.28,353.0 328.36,350.9 328.44,353.3 328.52,351.6 328.60,353.3 328.68,352.4 328.76,353.8 328.84,351.6 328.92,353.6 329.00,351.2 329.08,352.9 329.16,351.2 329.24,353.8 329.32,351.4 329.40,353.9 329.48,351.9 329.56,353.8 329.64,352.2 329.72,354.1 329.80,351.6 329.88,354.6 329.96,352.6 330.04,353.9 330.12,352.5 330.20,354.7 330.28,353.1 330.36,355.0 330.44,352.2 330.52,354.8 330.60,352.7 330.68,354.3 330.76,352.7 330.84,355.6 330.92,353.6 331.00,355.4 331.08,353.5 331.16,355.0 331.24,353.6 331.32,355.6 331.40,353.9 331.48,355.7 331.56,353.9 331.64,355.2 331.72,353.9 331.80,355.7 331.88,353.9 331.96,355.1 332.04,352.8 332.12,355.0 332.20,353.0 332.28,354.3 332.36,351.7 332.44,353.5 332.52,351.2 332.60,353.0 332.68,351.2 332.76,351.9 332.84,349.6 332.92,351.3 333.00,348.5 333.08,350.6 333.16,348.1 333.24,349.8 333.32,347.4 333.40,349.4 333.48,347.8 333.56,349.0 333.64,347.2 333.72,350.0 333.80,348.0 333.88,349.9 333.96,347.9 334.04,350.6 334.12,349.3 334.20,351.5 334.28,350.1 334.36,351.7 334.44,350.7 334.52,352.9 334.60,350.6 334.68,352.9 334.76,351.2 334.84,354.1 334.92,352.4 335.00,353.7 335.08,351.9 335.16,354.1 335.24,352.5 335.32,354.7 335.40,353.0 335.48,354.8 335.56,353.2 335.64,355.4 335.72,353.2 335.80,355.7 335.88,354.4 335.96,357.4 336.04,340.6 336.12,311.9 336.20,279.0 336.28,251.0 336.36,217.5 336.44,189.1 336.52,156.9 336.60,127.8 336.68,94.3 336.70,87.5 336.76,116.9 336.84,157.1 336.92,195.0 337.00,236.5 337.08,276.3 337.16,317.6 337.24,355.6 337.30,387.6 337.32,384.8 337.40,385.3 337.48,380.9 337.56,380.5 337.64,376.0 337.72,375.8 337.80,371.4 337.88,370.1 337.96,366.5 338.04,367.3 338.12,365.9 338.20,367.7 338.28,365.4 338.36,366.8 338.44,365.1 338.52,367.0 338.60,365.5 338.68,366.5 338.76,364.2 338.84,365.3 338.92,363.2 339.00,365.8 339.08,363.3 339.16,365.4 339.24,363.1 339.32,364.0 339.40,361.9 339.48,364.0 339.56,362.3 339.64,363.8 339.72,360.9 339.80,362.8 339.88,361.1 339.96,361.8 340.04,360.8 340.12,361.8 340.20,360.6 340.28,361.5 340.36,359.4 340.44,360.6 340.52,358.9 340.60,360.7 340.68,358.2 340.76,360.2 340.84,357.2 340.92,358.7 341.00,356.3 341.08,357.6 341.16,355.4 341.24,356.9 341.32,354.2 341.40,355.2 341.48,352.7 341.56,353.7 341.64,351.9 341.72,353.7 341.80,350.9 341.88,351.7 341.96,349.1 342.04,350.6 342.12,348.9 342.20,350.0 342.28,347.1 342.36,348.8 342.44,345.0 342.52,346.4 342.60,343.3 342.68,343.4 342.76,340.6 342.84,341.9 342.92,338.4 343.00,338.8 343.08,336.1 343.16,335.5 343.24,333.1 343.32,333.6 343.40,330.1 343.48,330.4 343.56,327.6 343.64,326.7 343.72,323.7 343.80,322.1 343.88,317.4 343.96,317.3 344.04,312.8 344.12,311.2 344.20,305.9 344.28,305.2 344.36,299.3 344.44,297.7 344.52,292.4 344.60,291.3 344.68,285.8 344.76,284.9 344.84,278.9 344.92,277.0 345.00,270.1 345.08,267.8 345.16,261.8 345.24,259.3 345.32,253.7 345.40,251.3 345.48,244.8 345.56,242.1 345.60,239.6 345.64,242.4 345.72,246.3 345.80,253.5 345.88,256.4 345.96,262.4 346.04,265.7 346.12,272.4 346.20,274.1 346.28,280.5 346.36,283.3 346.44,290.8 346.52,293.6 346.60,299.6 346.68,302.5 346.76,308.9 346.84,311.1 346.92,317.9 347.00,320.7 347.08,326.8 347.16,329.3 347.24,334.9 347.32,337.8 347.40,342.7 347.48,344.7 347.56,348.9 347.64,349.5 347.72,354.4 347.80,354.1 347.88,357.7 347.96,356.5 348.04,359.7 348.12,358.7 348.20,360.9 348.28,359.9 348.36,361.9 348.44,361.4 348.52,362.9 348.60,361.0 348.68,363.8 348.76,361.9 348.84,364.5 348.92,361.6 349.00,364.2 349.08,362.2 349.16,364.3 349.24,363.3 349.32,365.3 349.40,363.7 349.48,365.4 349.56,363.9 349.64,365.8 349.72,364.7 349.80,366.7 349.88,364.7 349.96,366.9 350.04,365.0 350.12,367.9 350.20,365.9 350.28,368.1 350.36,366.2 350.44,367.7 350.52,365.8 350.60,368.2 350.68,366.5 350.76,368.4 350.84,366.5 350.92,367.3 351.00,366.0 351.08,367.6 351.16,366.3 351.24,368.4 351.32,366.8 351.40,369.1 351.48,366.2 351.56,368.6 351.64,367.2 351.72,369.3 351.80,367.7 351.88,369.2 351.96,367.1 352.04,368.4 352.12,366.8 352.20,369.2 352.28,367.1 352.36,368.7 352.44,367.2 352.52,368.5 352.60,366.7 352.68,369.1 352.76,366.7 352.84,368.9 352.92,366.8 353.00,368.7 353.08,367.9 353.16,369.4 353.24,367.4 353.32,369.8 353.40,368.1 353.48,370.9 353.56,369.3 353.64,371.5 353.72,369.2 353.80,370.4 353.88,368.4 353.96,370.5 354.04,367.9 354.12,369.7 354.20,368.4 354.28,369.8 354.36,368.1 354.44,369.5 354.52,368.2 354.60,370.2 354.68,369.0 354.76,370.3 354.84,369.2 354.92,371.2 355.00,369.2 355.08,370.6 355.16,368.4 355.24,370.6 355.32,367.7 355.40,369.3 355.48,367.8 355.56,370.4 355.64,367.5 355.72,369.7 355.80,368.1 355.88,369.0 355.96,367.8 356.04,370.1 356.12,368.3 356.20,369.5 356.28,367.9 356.36,369.7 356.44,368.3 356.52,370.3 356.60,367.8 356.68,370.5 356.76,367.9 356.84,369.9 356.92,366.7 357.00,368.0 357.08,366.6 357.16,368.0 357.24,365.8 357.32,367.5 357.40,365.3 357.48,367.3 357.56,365.2 357.64,367.3 357.72,365.1 357.80,368.0 357.88,365.9 357.96,367.8 358.04,366.1 358.12,367.0 358.20,365.6 358.28,368.1 358.36,365.5 358.44,367.4 358.52,365.1 358.60,367.4 358.68,365.0 358.76,366.7 358.84,364.2 358.92,366.3 359.00,363.8 359.08,366.5 359.16,364.0 359.24,366.6 359.32,363.4 359.40,366.2 359.48,363.3 359.56,364.8 359.64,363.1 359.72,365.7 359.80,362.9 359.88,364.1 359.96,362.9 360.04,363.9 360.12,362.0 360.20,364.5 360.28,362.9 360.36,364.6 360.44,362.5 360.52,363.6 360.60,362.9 360.68,364.1 360.76,362.2 360.84,364.6 360.92,362.3 361.00,364.2 361.08,361.8 361.16,363.6 361.24,361.4 361.32,363.2 361.40,360.4 361.48,363.1 361.56,359.4 361.64,361.0 361.72,359.5 361.80,361.2 361.88,358.1 361.96,359.7 362.04,357.9 362.12,359.5 362.20,357.7 362.28,358.7 362.36,358.0 362.44,359.2 362.52,356.5 362.60,358.3 362.68,355.6 362.76,357.0 362.84,355.0 362.92,356.9 363.00,353.5 363.08,355.5 363.16,352.4 363.24,353.6 363.32,351.4 363.40,353.1 363.48,350.7 363.56,352.7 363.64,349.7 363.72,352.1 363.80,349.8 363.88,352.2 363.96,350.5 364.04,352.9 364.12,351.6 364.20,354.4 364.28,352.5 364.36,355.5 364.44,354.6 364.52,355.8 364.60,354.4 364.68,357.4 364.76,355.4 364.84,357.4 364.92,355.9 365.00,357.3 365.08,355.3 365.16,357.0 365.24,354.8 365.32,357.9 365.40,356.2 365.48,358.3 365.56,356.5 365.64,358.0 365.72,357.1 365.80,359.5 365.88,357.9 365.96,336.9 366.04,303.5 366.12,272.2 366.20,238.8 366.28,209.2 366.36,175.3 366.44,145.8 366.52,111.5 366.60,81.9 366.60,80.8 366.68,122.0 366.76,160.6 366.84,202.7 366.92,241.6 367.00,283.5 367.08,321.4 367.16,363.5 367.20,382.5 367.24,381.6 367.32,375.5 367.40,373.2 367.48,366.8 367.56,364.0 367.64,357.8 367.72,354.7 367.80,348.9 367.88,345.6 367.96,342.6 368.04,344.3 368.12,341.8 368.20,342.5 368.28,340.1 368.36,341.5 368.44,340.2 368.52,341.3 368.60,339.1 368.68,340.3 368.76,338.0 368.84,340.3 368.92,336.8 369.00,339.0 369.08,336.7 369.16,338.9 369.24,336.1 369.32,338.3 369.40,335.9 369.48,337.3 369.56,335.0 369.64,335.9 369.72,334.4 369.80,336.0 369.88,333.4 369.96,334.9 370.04,332.6 370.12,333.4 370.20,331.7 370.28,333.4 370.36,331.2 370.44,332.9 370.52,330.3 370.60,331.7 370.68,329.0 370.76,330.5 370.84,328.5 370.92,329.6 371.00,327.4 371.08,327.8 371.16,325.7 371.24,327.1 371.32,325.2 371.40,325.9 371.48,323.3 371.56,324.7 371.64,322.9 371.72,323.0 371.80,321.1 371.88,322.4 371.96,320.2 372.04,321.7 372.12,319.2 372.20,320.3 372.28,317.6 372.36,318.2 372.44,315.6 372.52,316.8 372.60,314.4 372.68,315.2 372.76,312.7 372.84,312.7 372.92,310.8 373.00,312.3 373.08,309.2 373.16,309.7 373.24,307.1 373.32,308.4 373.40,305.3 373.48,306.2 373.56,302.4 373.64,303.3 373.72,300.1 373.80,300.1 373.88,296.3 373.96,295.4 374.04,291.7 374.12,289.9 374.20,284.3 374.28,284.0 374.36,278.0 374.44,276.6 374.52,271.0 374.60,269.4 374.68,262.6 374.76,261.5 374.84,255.6 374.92,254.6 375.00,249.2 375.08,246.8 375.16,242.6 375.24,241.0 375.32,234.3 375.40,234.3 375.48,230.2 375.56,228.8 375.64,224.5 375.72,224.0 375.80,219.7 375.80,219.9 375.88,225.2 375.96,233.0 376.04,236.8 376.12,243.4 376.20,247.4 376.28,254.3 376.36,257.9 376.44,264.9 376.52,268.0 376.60,275.2 376.68,278.6 376.76,285.8 376.84,288.4 376.92,295.6 377.00,298.5 377.08,304.5 377.16,307.8 377.24,314.7 377.32,316.8 377.40,323.1 377.48,325.3 377.56,330.9 377.64,331.9 377.72,336.2 377.80,336.1 377.88,340.6 377.96,339.4 378.04,342.7 378.12,341.9 378.20,345.0 378.28,343.0 378.36,345.4 378.44,344.5 378.52,347.1 378.60,344.8 378.68,347.2 378.76,345.4 378.84,347.5 378.92,345.1 379.00,347.8 379.08,346.1 379.16,348.4 379.24,345.8 379.32,348.0 379.40,346.9 379.48,349.0 379.56,347.0 379.64,349.9 379.72,348.3 379.80,349.5 379.88,347.7 379.96,350.3 380.04,348.7 380.12,350.1 380.20,348.0 380.28,350.0 380.36,347.6 380.44,348.6 380.52,346.8 380.60,348.4 380.68,346.5 380.76,347.9 380.84,346.7 380.92,348.3 381.00,347.2 381.08,349.2 381.16,347.6 381.24,349.2 381.32,346.6 381.40,348.9 381.48,347.3 381.56,349.1 381.64,347.3 381.72,348.0 381.80,346.1 381.88,348.0 381.96,346.2 382.04,347.8 382.12,345.8 382.20,347.8 382.28,346.3 382.36,348.2 382.44,346.1 382.52,347.8 382.60,346.3 382.68,347.7 382.76,345.7 382.84,348.1 382.92,345.4 383.00,347.7 383.08,345.5 383.16,347.5 383.24,345.5 383.32,347.4 383.40,345.2 383.48,347.1 383.56,344.9 383.64,347.2 383.72,344.8 383.80,347.4 383.88,345.9 383.96,347.3 384.04,345.3 384.12,346.5 384.20,344.9 384.28,347.7 384.36,345.7 384.44,346.4 384.52,345.2 384.60,346.7 384.68,345.0 384.76,346.4 384.84,344.1 384.92,346.5 385.00,344.3 385.08,345.2 385.16,344.1 385.24,346.4 385.32,344.0 385.40,346.3 385.48,343.8 385.56,345.5 385.64,343.1 385.72,344.9 385.80,343.7 385.88,345.3 385.96,343.6 386.04,344.5 386.12,343.4 386.20,344.6 386.28,342.9 386.36,344.3 386.44,342.9 386.52,344.1 386.60,342.2 386.68,343.3 386.76,341.6 386.84,344.3 386.92,342.1 387.00,343.8 387.08,342.9 387.16,344.0 387.24,341.9 387.32,344.2 387.40,342.1 387.48,344.3 387.56,342.6 387.64,343.4 387.72,341.3 387.80,343.0 387.88,340.8 387.96,342.3 388.04,340.2 388.12,342.0 388.20,339.7 388.28,341.6 388.36,339.7 388.44,341.5 388.52,339.5 388.60,340.8 388.68,339.0 388.76,340.0 388.84,337.8 388.92,340.5 389.00,339.0 389.08,341.4 389.16,338.5 389.24,340.2 389.32,337.6 389.40,339.2 389.48,337.5 389.56,339.0 389.64,337.2 389.72,338.1 389.80,335.2 389.88,336.1 389.96,333.5 390.04,335.3 390.12,333.0 390.20,333.5 390.28,331.7 390.36,332.9 390.44,331.3 390.52,333.1 390.60,330.5 390.68,332.8 390.76,329.8 390.84,332.9 390.92,330.8 391.00,333.4 391.08,330.7 391.16,333.0 391.24,331.0 391.32,333.3 391.40,331.8 391.48,334.3 391.56,332.6 391.64,335.3 391.72,333.0 391.80,335.7 391.88,335.5 391.96,336.9 392.04,335.7 392.12,337.7 392.20,337.3 392.28,338.5 392.36,336.8 392.44,338.7 392.52,337.2 392.60,339.2 392.68,336.7 392.76,339.0 392.84,337.0 392.92,338.8 393.00,337.3 393.08,338.9 393.16,337.4 393.24,339.1 393.32,337.8 393.40,339.3 393.48,338.1 393.56,340.0 393.64,338.0 393.72,339.5 393.80,338.5 393.88,340.2 393.96,316.3 394.04,287.9 394.12,256.0 394.20,227.2 394.28,195.8 394.36,168.7 394.44,136.9 394.52,109.2 394.60,77.8 394.60,79.3 394.68,116.2 394.76,156.0 394.84,192.7 394.92,233.3 395.00,269.5 395.08,308.1 395.16,344.8 395.20,364.6 395.24,361.6 395.32,360.5 395.40,354.8 395.48,353.0 395.56,346.6 395.64,344.1 395.72,338.1 395.80,336.6 395.88,330.1 395.96,329.9 396.04,327.8 396.12,328.4 396.20,326.7 396.28,327.7 396.36,324.9 396.44,326.5 396.52,325.2 396.60,326.4 396.68,323.9 396.76,325.0 396.84,323.0 396.92,323.9 397.00,322.1 397.08,323.5 397.16,321.8 397.24,323.3 397.32,321.3 397.40,322.7 397.48,321.4 397.56,322.2 397.64,320.9 397.72,321.9 397.80,320.3 397.88,321.6 397.96,318.8 398.04,320.6 398.12,317.7 398.20,319.4 398.28,317.0 398.36,319.0 398.44,315.7 398.52,316.9 398.60,315.3 398.68,315.6 398.76,313.9 398.84,314.9 398.92,312.7 399.00,313.7 399.08,311.1 399.16,312.5 399.24,310.7 399.32,312.2 399.40,309.6 399.48,311.1 399.56,308.7 399.64,309.8 399.72,308.4 399.80,308.3 399.88,306.4 399.96,307.4 400.04,305.8 400.12,306.4 400.20,303.8 400.28,305.4 400.36,302.6 400.44,303.4 400.52,300.6 400.60,302.9 400.68,299.8 400.76,300.6 400.84,298.4 400.92,300.0 401.00,297.1 401.08,298.3 401.16,295.4 401.24,296.6 401.32,294.0 401.40,294.7 401.48,290.6 401.56,291.3 401.64,288.8 401.72,288.2 401.80,285.2 401.88,284.8 401.96,281.6 402.04,281.4 402.12,277.8 402.20,276.2 402.28,271.2 402.36,269.4 402.44,264.6 402.52,262.6 402.60,257.2 402.68,254.6 402.76,249.3 402.84,246.8 402.92,241.6 403.00,239.5 403.08,235.6 403.16,234.8 403.24,228.7 403.32,227.5 403.40,222.3 403.48,222.2 403.56,217.9 403.64,216.2 403.72,212.2 403.80,211.5 403.88,207.7 403.90,207.2 403.96,211.2 404.04,218.9 404.12,222.4 404.20,229.6 404.28,233.8 404.36,241.0 404.44,245.0 404.52,253.5 404.60,257.3 404.68,264.0 404.76,268.1 404.84,274.5 404.92,278.3 405.00,286.1 405.08,289.4 405.16,296.0 405.24,298.1 405.32,305.0 405.40,307.2 405.48,314.0 405.56,315.4 405.64,320.4 405.72,321.9 405.80,325.4 405.88,325.3 405.96,329.8 406.04,329.9 406.12,332.2 406.20,331.3 406.28,334.0 406.36,332.0 406.44,334.8 406.52,332.4 406.60,334.6 406.68,333.7 406.76,336.0 406.84,334.0 406.92,336.4 407.00,335.3 407.08,336.9 407.16,336.0 407.24,337.5 407.32,336.4 407.40,338.0 407.48,336.6 407.56,338.6 407.64,335.5 407.72,337.7 407.80,336.7 407.88,338.8 407.96,337.0 408.04,338.8 408.12,337.2 408.20,338.5 408.28,337.0 408.36,339.5 408.44,337.5 408.52,338.7 408.60,336.6 408.68,338.3 408.76,336.1 408.84,338.3 408.92,337.0 409.00,338.6 409.08,336.3 409.16,338.1 409.24,336.2 409.32,337.2 409.40,335.4 409.48,337.7 409.56,335.8 409.64,337.4 409.72,336.1 409.80,338.5 409.88,336.4 409.96,337.8 410.04,336.9 410.12,339.4 410.20,337.5 410.28,338.9 410.36,336.6 410.44,339.5 410.52,337.2 410.60,339.9 410.68,338.0 410.76,340.5 410.84,338.4 410.92,339.9 411.00,338.7 411.08,340.3 411.16,339.4 411.24,341.1 411.32,339.0 411.40,340.8 411.48,339.2 411.56,341.4 411.64,339.6 411.72,341.1 411.80,340.0 411.88,342.3 411.96,339.9 412.04,341.7 412.12,339.9 412.20,341.9 412.28,339.9 412.36,342.1 412.44,341.2 412.52,342.5 412.60,341.1 412.68,343.3 412.76,342.4 412.84,344.1 412.92,342.6 413.00,344.5 413.08,342.6 413.16,343.7 413.24,342.5 413.32,344.2 413.40,342.7 413.48,344.0 413.56,341.9 413.64,344.1 413.72,341.9 413.80,343.7 413.88,342.2 413.96,344.4 414.04,341.8 414.12,343.6 414.20,340.3 414.28,342.1 414.36,340.6 414.44,341.5 414.52,339.6 414.60,341.7 414.68,338.7 414.76,339.2 414.84,336.4 414.92,337.6 415.00,335.4 415.08,336.7 415.16,334.3 415.24,334.8 415.32,332.4 415.40,333.1 415.48,330.8 415.56,331.4 415.64,330.0 415.72,332.2 415.80,330.7 415.88,332.2 415.96,331.4 416.04,332.8 416.12,332.6 416.20,335.0 416.28,333.9 416.36,336.7 416.44,335.9 416.52,338.9 416.60,337.2 416.68,339.9 416.76,338.8 416.84,340.8 416.92,339.9 417.00,342.5 417.08,341.2 417.16,342.4 417.24,340.9 417.32,343.0 417.40,341.5 417.48,343.1 417.56,342.7 417.64,344.2 417.72,342.9 417.80,343.8 417.88,341.8 417.96,344.0 418.04,342.0 418.12,344.3 418.20,342.7 418.28,344.5 418.36,342.1 418.44,344.9 418.52,343.1 418.60,344.7 418.68,342.4 418.76,344.0 418.84,342.5 418.92,344.7 419.00,343.6 419.08,315.9 419.16,283.9 419.24,256.2 419.32,224.0 419.40,196.9 419.48,165.0 419.56,138.2 419.64,106.9 419.70,84.5 419.72,93.6 419.80,133.2 419.88,171.3 419.96,212.2 420.04,249.4 420.12,290.5 420.20,327.5 420.28,368.2 420.30,377.3 420.36,375.8 420.44,370.5 420.52,368.6 420.60,363.3 420.68,361.2 420.76,355.1 420.84,353.8 420.92,348.1 421.00,345.2 421.08,343.4 421.16,344.6 421.24,342.7 421.32,343.5 421.40,341.5 421.48,343.0 421.56,340.7 421.64,342.8 421.72,340.2 421.80,342.7 421.88,339.7 421.96,341.4 422.04,339.2 422.12,339.9 422.20,338.3 422.28,338.7 422.36,337.3 422.44,338.0 422.52,336.5 422.60,337.8 422.68,335.5 422.76,336.4 422.84,334.5 422.92,336.0 423.00,333.6 423.08,335.4 423.16,333.2 423.24,334.5 423.32,332.7 423.40,334.7 423.48,332.5 423.56,333.8 423.64,331.8 423.72,332.8 423.80,332.0 423.88,333.2 423.96,331.2 424.04,332.3 424.12,330.2 424.20,331.8 424.28,329.1 424.36,330.1 424.44,327.6 424.52,329.4 424.60,327.0 424.68,327.5 424.76,325.0 424.84,326.2 424.92,323.9 425.00,324.6 425.08,322.4 425.16,324.4 425.24,322.0 425.32,322.2 425.40,320.2 425.48,321.1 425.56,318.9 425.64,320.8 425.72,318.0 425.80,319.3 425.88,316.3 425.96,316.5 426.04,314.5 426.12,315.2 426.20,312.3 426.28,313.9 426.36,310.0 426.44,311.4 426.52,309.3 426.60,309.6 426.68,306.4 426.76,306.8 426.84,303.5 426.92,303.6 427.00,300.5 427.08,300.8 427.16,296.5 427.24,296.9 427.32,292.7 427.40,291.2 427.48,286.3 427.56,284.2 427.64,279.8 427.72,277.2 427.80,271.8 427.88,269.0 427.96,263.3 428.04,261.5 428.12,255.7 428.20,253.8 428.28,247.7 428.36,245.6 428.44,239.7 428.52,238.5 428.60,232.9 428.68,231.4 428.76,226.1 428.84,224.7 428.92,220.6 429.00,219.2 429.08,215.4 429.10,214.9 429.16,219.3 429.24,227.2 429.32,231.0 429.40,239.5 429.48,244.4 429.56,252.5 429.64,256.7 429.72,264.6 429.80,269.8 429.88,277.5 429.96,281.1 430.04,288.6 430.12,292.0 430.20,300.1 430.28,304.2 430.36,310.1 430.44,313.7 430.52,319.2 430.60,321.0 430.68,326.9 430.76,328.0 430.84,332.7 430.92,333.0 431.00,336.3 431.08,336.4 431.16,340.0 431.24,339.1 431.32,341.9 431.40,341.5 431.48,344.2 431.56,343.5 431.64,345.5 431.72,344.0 431.80,346.2 431.88,345.1 431.96,348.3 432.04,347.0 432.12,348.9 432.20,347.4 432.28,348.6 432.36,347.1 432.44,349.4 432.52,347.8 432.60,350.2 432.68,347.5 432.76,348.9 432.84,347.1 432.92,348.9 433.00,345.8 433.08,348.0 433.16,345.4 433.24,346.8 433.32,344.7 433.40,346.9 433.48,345.9 433.56,347.7 433.64,345.3 433.72,347.8 433.80,346.0 433.88,346.9 433.96,345.9 434.04,348.0 434.12,346.1 434.20,348.2 434.28,345.6 434.36,348.0 434.44,346.5 434.52,347.6 434.60,346.6 434.68,348.7 434.76,346.5 434.84,348.6 434.92,347.0 435.00,349.2 435.08,346.8 435.16,348.7 435.24,347.5 435.32,349.4 435.40,346.9 435.48,349.4 435.56,347.4 435.64,349.0 435.72,347.4 435.80,348.8 435.88,346.7 435.96,348.6 436.04,347.1 436.12,348.8 436.20,348.3 436.28,349.4 436.36,348.0 436.44,349.8 436.52,347.8 436.60,350.3 436.68,347.8 436.76,350.7 436.84,349.8 436.92,350.6 437.00,349.0 437.08,350.6 437.16,349.5 437.24,351.7 437.32,348.9 437.40,352.1 437.48,350.6 437.56,352.8 437.64,350.0 437.72,352.3 437.80,351.0 437.88,352.0 437.96,351.0 438.04,353.0 438.12,351.5 438.20,352.8 438.28,350.5 438.36,352.6 438.44,350.3 438.52,352.1 438.60,350.2 438.68,351.8 438.76,349.5 438.84,351.8 438.92,348.9 439.00,350.5 439.08,349.2 439.16,350.3 439.24,349.1 439.32,349.8 439.40,347.7 439.48,349.1 439.56,347.8 439.64,349.6 439.72,347.3 439.80,350.1 439.88,347.3 439.96,348.3 440.04,346.2 440.12,348.4 440.20,346.6 440.28,348.1 440.36,347.1 440.44,348.1 440.52,344.9 440.60,346.6 440.68,344.6 440.76,345.9 440.84,344.1 440.92,344.4 441.00,342.5 441.08,343.9 441.16,341.6 441.24,342.4 441.32,340.6 441.40,341.8 441.48,339.4 441.56,341.3 441.64,337.9 441.72,339.1 441.80,337.0 441.88,338.6 441.96,337.0 442.04,338.3 442.12,337.8 442.20,338.9 442.28,338.5 442.36,340.4 442.44,339.1 442.52,341.7 442.60,339.5 442.68,341.5 442.76,340.3 442.84,343.2 442.92,342.0 443.00,343.8 443.08,342.8 443.16,344.8 443.24,344.3 443.32,345.8 443.40,345.6 443.48,347.9 443.56,347.1 443.64,350.3 443.72,348.2 443.80,350.2 443.88,348.0 443.96,350.9 444.04,348.9 444.12,350.7 444.20,348.3 444.28,350.0 444.36,348.0 444.44,349.5 444.52,348.1 444.60,349.9 444.68,347.2 444.76,349.7 444.84,347.5 444.92,348.9 445.00,347.9 445.08,349.8 445.16,348.5 445.24,349.9 445.32,341.3 445.40,312.0 445.48,279.4 445.56,251.6 445.64,219.1 445.72,190.3 445.80,158.8 445.88,130.0 445.96,97.8 446.00,82.2 446.04,101.8 446.12,143.2 446.20,181.9 446.28,223.0 446.36,260.2 446.44,301.7 446.52,339.6 446.60,381.3 446.60,379.6 446.68,376.9 446.76,371.8 446.84,369.4 446.92,363.6 447.00,361.0 447.08,354.2 447.16,351.8 447.24,346.1 447.32,344.5 447.40,341.7 447.48,342.7 447.56,340.8 447.64,341.1 447.72,339.5 447.80,340.1 447.88,337.8 447.96,339.8 448.04,337.1 448.12,338.9 448.20,336.9 448.28,339.3 448.36,337.1 448.44,339.0 448.52,336.6 448.60,337.4 448.68,335.6 448.76,336.6 448.84,335.1 448.92,336.4 449.00,333.9 449.08,334.9 449.16,333.1 449.24,333.8 449.32,331.6 449.40,333.1 449.48,331.0 449.56,332.6 449.64,330.8 449.72,332.2 449.80,329.7 449.88,331.4 449.96,328.6 450.04,329.9 450.12,327.2 450.20,329.2 450.28,326.1 450.36,328.0 450.44,325.8 450.52,327.1 450.60,324.9 450.68,326.0 450.76,323.2 450.84,324.9 450.92,322.9 451.00,323.5 451.08,321.2 451.16,322.7 451.24,319.7 451.32,321.1 451.40,317.8 451.48,319.2 451.56,316.9 451.64,318.5 451.72,316.3 451.80,316.9 451.88,314.7 451.96,316.3 452.04,313.2 452.12,315.0 452.20,312.1 452.28,313.1 452.36,310.2 452.44,311.3 452.52,308.3 452.60,308.7 452.68,304.8 452.76,306.1 452.84,302.7 452.92,302.0 453.00,298.8 453.08,299.5 453.16,294.8 453.24,295.1 453.32,290.7 453.40,290.2 453.48,285.1 453.56,283.7 453.64,278.0 453.72,276.9 453.80,270.3 453.88,268.9 453.96,262.9 454.04,261.0 454.12,255.0 454.20,253.1 454.28,247.5 454.36,246.6 454.44,240.1 454.52,239.1 454.60,233.2 454.68,232.5 454.76,227.6 454.84,226.4 454.92,222.8 455.00,221.4 455.08,216.5 455.10,216.1 455.16,219.9 455.24,227.2 455.32,230.8 455.40,238.1 455.48,241.0 455.56,249.1 455.64,252.4 455.72,259.1 455.80,262.9 455.88,269.5 455.96,272.9 456.04,280.8 456.12,282.8 456.20,289.6 456.28,292.6 456.36,300.1 456.44,302.9 456.52,310.2 456.60,311.7 456.68,318.6 456.76,321.1 456.84,326.5 456.92,326.7 457.00,331.7 457.08,332.2 457.16,335.7 457.24,335.8 457.32,339.4 457.40,338.5 457.48,342.4 457.56,340.5 457.64,342.2 457.72,341.3 457.80,343.4 457.88,343.1 457.96,345.0 458.04,343.1 458.12,345.5 458.20,343.2 458.28,345.6 458.36,343.7 458.44,346.9 458.52,344.0 458.60,346.2 458.68,344.5 458.76,346.3 458.84,343.9 458.92,345.9 459.00,343.5 459.08,345.5 459.16,343.8 459.24,345.1 459.32,342.9 459.40,344.5 459.48,343.2 459.56,343.7 459.64,343.0 459.72,344.6 459.80,343.4 459.88,344.2 459.96,343.0 460.04,344.0 460.12,342.6 460.20,343.6 460.28,342.1 460.36,344.4 460.44,341.7 460.52,343.6 460.60,341.8 460.68,342.9 460.76,341.3 460.84,343.5 460.92,341.5 461.00,343.6 461.08,341.6 461.16,344.0 461.24,342.2 461.32,343.5 461.40,342.5 461.48,343.8 461.56,341.7 461.64,343.4 461.72,342.6 461.80,343.9 461.88,342.2 461.96,343.7 462.04,342.4 462.12,344.9 462.20,343.1 462.28,345.1 462.36,343.3 462.44,345.0 462.52,343.8 462.60,345.2 462.68,343.7 462.76,346.1 462.84,344.6 462.92,346.8 463.00,344.0 463.08,346.4 463.16,345.3 463.24,347.6 463.32,346.1 463.40,347.6 463.48,346.0 463.56,347.7 463.64,346.1 463.72,347.8 463.80,345.8 463.88,347.5 463.96,346.1 464.04,347.9 464.12,345.0 464.20,346.9 464.28,345.7 464.36,347.9 464.44,345.9 464.52,348.1 464.60,346.0 464.68,347.9 464.76,346.0 464.84,347.8 464.92,345.9 465.00,348.0 465.08,346.3 465.16,347.8 465.24,346.0 465.32,347.5 465.40,346.7 465.48,348.6 465.56,346.6 465.64,348.3 465.72,346.8 465.80,348.4 465.88,345.2 465.96,347.2 466.04,345.4 466.12,346.5 466.20,345.2 466.28,346.2 466.36,345.2 466.44,346.1 466.52,344.1 466.60,346.0 466.68,344.8 466.76,346.8 466.84,345.8 466.92,347.7 467.00,345.6 467.08,346.6 467.16,344.7 467.24,347.0 467.32,345.7 467.40,348.0 467.48,345.7 467.56,347.4 467.64,345.5 467.72,347.5 467.80,345.8 467.88,347.5 467.96,345.3 468.04,347.9 468.12,345.9 468.20,347.7 468.28,346.3 468.36,347.7 468.44,346.2 468.52,347.7 468.60,345.3 468.68,347.4 468.76,345.0 468.84,346.8 468.92,345.5 469.00,346.2 469.08,344.7 469.16,346.8 469.24,344.4 469.32,345.9 469.40,343.1 469.48,345.7 469.56,342.6 469.64,344.5 469.72,342.4 469.80,343.5 469.88,340.4 469.96,342.3 470.04,340.5 470.12,341.9 470.20,339.6 470.28,340.8 470.36,337.6 470.44,339.1 470.52,336.6 470.60,338.7 470.68,336.6 470.76,337.6 470.84,335.4 470.92,336.5 471.00,334.7 471.08,335.9 471.16,333.6 471.24,335.5 471.32,333.5 471.40,335.0 471.48,333.2 471.56,336.0 471.64,334.3 471.72,335.9 471.80,334.7 471.88,337.5 471.96,335.7 472.04,338.0 472.12,336.1 472.20,338.3 472.28,336.7 472.36,338.9 472.44,337.2 472.52,339.8 472.60,337.9 472.68,340.6 472.76,338.9 472.84,341.8 472.92,340.3 473.00,342.7 473.08,341.2 473.16,343.3 473.24,340.7 473.32,343.5 473.40,341.1 473.48,342.9 473.56,340.6 473.64,342.7 473.72,340.2 473.80,343.3 473.88,340.5 473.96,343.2 474.04,341.6 474.12,343.7 474.20,343.3 474.28,345.1 474.36,320.6 474.44,292.8 474.52,260.9 474.60,232.6 474.68,201.8 474.76,173.1 474.84,141.0 474.92,112.6 475.00,80.6 475.00,82.1 475.08,119.7 475.16,160.9 475.24,197.6 475.32,238.6 475.40,275.3 475.48,317.0 475.56,353.5 475.60,374.1 475.64,371.1 475.72,368.6 475.80,361.9 475.88,359.5 475.96,352.9 476.04,350.9 476.12,345.2 476.20,342.0 476.28,335.7 476.36,336.4 476.44,334.1 476.52,336.2 476.60,333.3 476.68,335.1 476.76,333.0 476.84,334.0 476.92,331.0 477.00,332.5 477.08,329.7 477.16,331.0 477.24,329.4 477.32,330.1 477.40,327.8 477.48,328.9 477.56,325.9 477.64,327.0 477.72,325.5 477.80,326.6 477.88,324.9 477.96,325.9 478.04,324.3 478.12,324.6 478.20,322.8 478.28,323.9 478.36,321.4 478.44,322.8 478.52,320.4 478.60,321.4 478.68,319.7 478.76,320.7 478.84,318.1 478.92,320.2 479.00,318.3 479.08,319.4 479.16,317.4 479.24,319.4 479.32,316.3 479.40,318.1 479.48,315.7 479.56,316.7 479.64,314.3 479.72,315.1 479.80,312.5 479.88,314.4 479.96,312.0 480.04,313.1 480.12,310.6 480.20,312.6 480.28,309.5 480.36,310.2 480.44,308.9 480.52,309.9 480.60,306.8 480.68,307.3 480.76,305.1 480.84,305.9 480.92,303.4 481.00,304.5 481.08,302.7 481.16,303.5 481.24,299.9 481.32,301.9 481.40,299.2 481.48,299.6 481.56,296.4 481.64,297.5 481.72,293.4 481.80,293.6 481.88,290.9 481.96,290.7 482.04,286.1 482.12,285.5 482.20,280.3 482.28,280.1 482.36,274.5 482.44,273.6 482.52,268.6 482.60,266.2 482.68,261.5 482.76,259.4 482.84,253.6 482.92,252.9 483.00,246.8 483.08,245.9 483.16,241.2 483.24,239.2 483.32,234.2 483.40,233.6 483.48,227.9 483.56,227.8 483.64,223.6 483.72,222.8 483.80,217.4 483.88,216.6 483.90,215.7 483.96,220.1 484.04,224.7 484.12,232.3 484.20,235.8 484.28,242.8 484.36,247.1 484.44,253.5 484.52,258.4 484.60,265.5 484.68,268.8 484.76,275.8 484.84,279.0 484.92,285.7 485.00,289.3 485.08,296.6 485.16,300.0 485.24,306.7 485.32,308.4 485.40,314.5 485.48,316.8 485.56,322.8 485.64,324.9 485.72,329.8 485.80,328.8 485.88,332.7 485.96,332.8 486.04,336.0 486.12,335.4 486.20,338.2 486.28,336.7 486.36,338.9 486.44,338.1 486.52,340.8 486.60,339.2 486.68,341.5 486.76,339.5 486.84,341.7 486.92,340.9 487.00,342.3 487.08,341.0 487.16,343.1 487.24,341.0 487.32,343.7 487.40,341.7 487.48,343.5 487.56,342.6 487.64,344.7 487.72,342.4 487.80,345.0 487.88,343.3 487.96,345.2 488.04,343.4 488.12,345.9 488.20,344.9 488.28,346.3 488.36,344.2 488.44,346.1 488.52,343.9 488.60,345.8 488.68,343.3 488.76,345.4 488.84,343.9 488.92,346.0 489.00,344.0 489.08,346.2 489.16,344.9 489.24,347.1 489.32,344.3 489.40,347.5 489.48,345.7 489.56,348.0 489.64,345.5 489.72,348.3 489.80,345.6 489.88,348.1 489.96,346.9 490.04,347.9 490.12,347.1 490.20,348.7 490.28,346.7 490.36,348.8 490.44,346.5 490.52,348.9 490.60,347.2 490.68,348.9 490.76,346.5 490.84,348.8 490.92,347.0 491.00,348.5 491.08,346.6 491.16,348.2 491.24,345.6 491.32,347.6 491.40,345.9 491.48,347.6 491.56,345.1 491.64,348.5 491.72,346.5 491.80,348.4 491.88,346.3 491.96,348.4 492.04,346.8 492.12,348.5 492.20,347.4 492.28,348.9 492.36,347.7 492.44,350.0 492.52,348.1 492.60,349.8 492.68,347.6 492.76,349.6 492.84,346.8 492.92,349.9 493.00,347.5 493.08,349.7 493.16,347.7 493.24,349.2 493.32,347.6 493.40,349.8 493.48,348.2 493.56,350.3 493.64,348.3 493.72,350.2 493.80,349.1 493.88,350.5 493.96,348.5 494.04,351.0 494.12,349.0 494.20,350.7 494.28,349.2 494.36,350.9 494.44,348.8 494.52,350.8 494.60,348.5 494.68,350.8 494.76,348.9 494.84,350.4 494.92,349.6 495.00,350.5 495.08,348.8 495.16,350.4 495.24,348.0 495.32,349.9 495.40,346.8 495.48,349.0 495.56,346.3 495.64,348.5 495.72,346.1 495.80,347.9 495.88,346.0 495.96,348.2 496.04,347.0 496.12,348.7 496.20,347.4 496.28,349.1 496.36,347.6 496.44,348.9 496.52,347.3 496.60,348.8 496.68,347.3 496.76,348.8 496.84,346.8 496.92,348.3 497.00,346.3 497.08,348.4 497.16,346.9 497.24,348.9 497.32,346.7 497.40,348.3 497.48,347.2 497.56,348.7 497.64,347.5 497.72,348.2 497.80,346.3 497.88,347.5 497.96,345.5 498.04,346.7 498.12,345.4 498.20,345.7 498.28,344.4 498.36,344.9 498.44,342.8 498.52,344.9 498.60,341.8 498.68,342.9 498.76,340.0 498.84,341.9 498.92,339.0 499.00,341.1 499.08,337.9 499.16,339.9 499.24,337.8 499.32,340.0 499.40,337.6 499.48,339.0 499.56,337.7 499.64,339.9 499.72,338.9 499.80,341.3 499.88,339.5 499.96,341.6 500.04,340.0 500.12,342.3 500.20,341.7 500.28,343.7 500.36,342.4 500.44,344.3 500.52,342.8 500.60,344.8 500.68,344.3 500.76,345.8 500.84,344.9 500.92,346.8 501.00,344.1 501.08,347.1 501.16,345.0 501.24,346.8 501.32,345.3 501.40,346.6 501.48,344.6 501.56,346.9 501.64,346.5 501.72,348.3 501.80,346.2 501.88,348.6 501.96,347.2 502.04,333.8 502.12,301.5 502.20,272.8 502.28,241.8 502.36,212.1 502.44,180.5 502.52,151.8 502.60,120.2 502.68,92.3 502.70,82.0 502.76,114.0 502.84,151.9 502.92,193.2 503.00,230.0 503.08,271.6 503.16,309.2 503.24,349.6 503.30,377.4 503.32,378.1 503.40,371.8 503.48,369.4 503.56,363.0 503.64,360.9 503.72,353.8 503.80,351.0 503.88,344.9 503.96,342.8 504.04,338.8 504.12,339.3 504.20,337.0 504.28,339.1 504.36,335.9 504.44,337.9 504.52,335.2 504.60,336.9 504.68,335.4 504.76,336.2 504.84,334.0 504.92,334.7 505.00,332.2 505.08,332.4 505.16,330.1 505.24,331.6 505.32,329.3 505.40,329.9 505.48,327.8 505.56,329.1 505.64,327.3 505.72,329.4 505.80,327.1 505.88,327.7 505.96,326.0 506.04,326.4 506.12,325.0 506.20,326.9 506.28,323.9 506.36,326.0 506.44,323.1 506.52,324.4 506.60,322.6 506.68,324.7 506.76,321.5 506.84,323.3 506.92,320.1 507.00,321.8 507.08,319.0 507.16,319.9 507.24,317.2 507.32,319.5 507.40,316.0 507.48,317.2 507.56,315.1 507.64,315.7 507.72,314.1 507.80,315.8 507.88,313.1 507.96,314.3 508.04,312.0 508.12,313.1 508.20,309.7 508.28,311.0 508.36,307.8 508.44,309.2 508.52,306.6 508.60,306.7 508.68,305.1 508.76,306.6 508.84,302.9 508.92,304.8 509.00,301.5 509.08,301.9 509.16,299.3 509.24,300.2 509.32,296.3 509.40,296.6 509.48,292.4 509.56,291.5 509.64,286.9 509.72,286.2 509.80,281.4 509.88,280.2 509.96,274.1 510.04,273.3 510.12,268.0 510.20,266.3 510.28,260.5 510.36,258.3 510.44,252.9 510.52,252.2 510.60,247.4 510.68,246.4 510.76,240.8 510.84,239.2 510.92,235.1 511.00,234.5 511.08,229.2 511.16,228.4 511.24,224.0 511.32,223.4 511.40,220.0 511.40,220.2 511.48,226.1 511.56,233.5 511.64,236.9 511.72,245.0 511.80,248.9 511.88,257.4 511.96,261.9 512.04,269.2 512.12,273.8 512.20,281.1 512.28,284.9 512.36,292.0 512.44,295.2 512.52,303.1 512.60,306.5 512.68,313.7 512.76,315.5 512.84,321.7 512.92,322.5 513.00,328.3 513.08,329.2 513.16,333.9 513.24,333.9 513.32,338.1 513.40,337.0 513.48,339.8 513.56,339.4 513.64,342.8 513.72,341.1 513.80,343.9 513.88,342.7 513.96,345.0 514.04,343.4 514.12,346.5 514.20,344.6 514.28,347.1 514.36,345.6 514.44,347.9 514.52,345.1 514.60,348.1 514.68,346.1 514.76,347.5 514.84,344.9 514.92,346.9 515.00,344.8 515.08,347.0 515.16,344.5 515.24,346.0 515.32,345.0 515.40,345.6 515.48,344.3 515.56,345.7 515.64,343.8 515.72,346.5 515.80,344.4 515.88,345.7 515.96,343.3 516.04,345.3 516.12,343.4 516.20,345.3 516.28,343.2 516.36,344.3 516.44,342.3 516.52,343.5 516.60,341.8 516.68,343.4 516.76,341.8 516.84,344.3 516.92,342.0 517.00,344.4 517.08,342.0 517.16,344.7 517.24,343.1 517.32,345.3 517.40,343.7 517.48,345.5 517.56,344.0 517.64,345.5 517.72,344.0 517.80,345.6 517.88,344.1 517.96,346.0 518.04,345.0 518.12,345.9 518.20,343.9 518.28,346.6 518.36,345.1 518.44,346.0 518.52,344.2 518.60,345.9 518.68,345.1 518.76,346.8 518.84,345.2 518.92,347.7 519.00,345.8 519.08,347.0 519.16,346.2 519.24,348.4 519.32,347.0 519.40,348.6 519.48,346.5 519.56,349.1 519.64,347.0 519.72,348.2 519.80,346.8 519.88,348.8 519.96,347.7 520.04,349.4 520.12,348.0 520.20,350.2 520.28,347.2 520.36,349.2 520.44,347.4 520.52,349.3 520.60,348.4 520.68,350.0 520.76,346.6 520.84,348.7 520.92,346.6 521.00,348.2 521.08,345.7 521.16,347.5 521.24,346.0 521.32,347.0 521.40,345.2 521.48,346.9 521.56,344.1 521.64,345.8 521.72,343.5 521.80,345.8 521.88,342.7 521.96,344.2 522.04,342.4 522.12,342.8 522.20,341.1 522.28,343.0 522.36,340.9 522.44,341.8 522.52,340.2 522.60,341.4 522.68,339.4 522.76,340.5 522.84,337.8 522.92,339.5 523.00,337.5 523.08,339.3 523.16,337.7 523.24,339.7 523.32,338.0 523.40,339.7 523.48,337.9 523.56,340.7 523.64,338.6 523.72,341.2 523.80,339.1 523.88,341.3 523.96,339.9 524.04,342.2 524.12,341.3 524.20,344.6 524.28,343.1 524.36,346.0 524.44,343.8 524.52,346.4 524.60,345.1 524.68,347.0 524.76,345.3 524.84,347.1 524.92,345.6 525.00,347.5 525.08,346.7 525.16,349.0 525.24,347.0 525.32,349.3 525.40,347.7 525.48,349.5 525.56,348.2 525.64,350.3 525.72,348.8 525.80,351.3 525.88,348.4 525.96,350.9 526.04,349.1 526.12,351.1 526.20,349.2 526.28,350.8 526.36,349.2 526.44,335.0 526.52,303.4 526.60,274.5 526.68,242.0 526.76,212.6 526.84,180.4 526.92,151.5 527.00,118.5 527.08,90.0 527.10,81.8 527.16,112.9 527.24,150.1 527.32,192.4 527.40,230.5 527.48,273.6 527.56,311.3 527.64,353.1 527.70,382.0 527.72,381.3 527.80,374.9 527.88,372.4 527.96,364.9 528.04,361.3 528.12,355.1 528.20,351.6 528.28,344.0 528.36,340.9 528.44,337.7 528.52,338.7 528.60,336.1 528.68,336.7 528.76,335.4 528.84,336.2 528.92,334.8 529.00,335.2 529.08,333.6 529.16,333.8 529.24,330.4 529.32,331.8 529.40,329.1 529.48,330.3 529.56,328.2 529.64,328.8 529.72,327.1 529.80,328.6 529.88,325.5 529.96,327.4 530.04,324.7 530.12,326.9 530.20,323.9 530.28,325.4 530.36,323.0 530.44,324.7 530.52,322.6 530.60,323.4 530.68,321.7 530.76,322.5 530.84,319.7 530.92,321.2 531.00,319.3 531.08,319.6 531.16,317.7 531.24,318.5 531.32,317.0 531.40,318.0 531.48,315.3 531.56,316.7 531.64,314.6 531.72,316.1 531.80,312.3 531.88,313.4 531.96,311.3 532.04,312.5 532.12,310.2 532.20,311.4 532.28,309.3 532.36,310.4 532.44,308.1 532.52,309.0 532.60,306.4 532.68,307.7 532.76,305.5 532.84,306.1 532.92,303.6 533.00,303.9 533.08,301.5 533.16,302.1 533.24,298.7 533.32,299.3 533.40,296.5 533.48,297.2 533.56,293.1 533.64,292.4 533.72,288.5 533.80,287.8 533.88,282.9 533.96,282.0 534.04,278.1 534.12,277.0 534.20,272.2 534.28,271.0 534.36,266.1 534.44,264.4 534.52,258.4 534.60,258.0 534.68,253.4 534.76,251.4 534.84,247.2 534.92,245.1 535.00,239.9 535.08,239.5 535.16,235.2 535.24,233.9 535.32,229.8 535.40,229.5 535.48,225.3 535.56,223.3 535.60,221.9 535.64,225.2 535.72,231.0 535.80,239.3 535.88,243.3 535.96,251.6 536.04,255.7 536.12,263.6 536.20,267.5 536.28,276.0 536.36,278.9 536.44,286.5 536.52,290.7 536.60,297.4 536.68,300.8 536.76,308.0 536.84,311.2 536.92,317.5 537.00,319.9 537.08,325.6 537.16,327.7 537.24,332.0 537.32,332.8 537.40,337.0 537.48,337.2 537.56,340.6 537.64,340.8 537.72,343.4 537.80,342.4 537.88,345.4 537.96,344.7 538.04,346.9 538.12,346.3 538.20,348.2 538.28,346.4 538.36,349.8 538.44,347.5 538.52,350.0 538.60,348.4 538.68,349.9 538.76,348.2 538.84,349.5 538.92,347.8 539.00,349.1 539.08,346.5 539.16,348.4 539.24,347.3 539.32,348.1 539.40,346.4 539.48,348.1 539.56,346.4 539.64,347.3 539.72,344.9 539.80,347.4 539.88,346.2 539.96,347.7 540.04,346.0 540.12,347.8 540.20,345.3 540.28,347.9 540.36,346.1 540.44,348.5 540.52,346.1 540.60,348.1 540.68,345.9 540.76,348.8 540.84,346.2 540.92,348.0 541.00,345.9 541.08,347.6 541.16,346.7 541.24,348.7 541.32,347.0 541.40,349.3 541.48,346.8 541.56,349.1 541.64,346.7 541.72,349.1 541.80,347.3 541.88,349.5 541.96,347.7 542.04,349.8 542.12,348.1 542.20,349.8 542.28,347.1 542.36,349.8 542.44,347.7 542.52,349.4 542.60,347.7 542.68,349.2 542.76,348.0 542.84,350.0 542.92,347.1 543.00,349.6 543.08,347.1 543.16,349.2 543.24,347.5 543.32,350.5 543.40,348.0 543.48,350.7 543.56,348.2 543.64,350.7 543.72,348.6 543.80,350.1 543.88,349.2 543.96,350.9 544.04,348.9 544.12,350.5 544.20,348.4 544.28,349.9 544.36,347.1 544.44,349.7 544.52,348.5 544.60,349.9 544.68,347.6 544.76,350.0 544.84,348.1 544.92,349.6 545.00,347.7 545.08,350.5 545.16,347.5 545.24,349.6 545.32,347.4 545.40,349.8 545.48,347.8 545.56,349.6 545.64,348.7 545.72,349.7 545.80,349.0 545.88,350.2 545.96,349.2 546.04,351.4 546.12,349.3 546.20,351.6 546.28,350.2 546.36,352.4 546.44,349.5 546.52,352.5 546.60,350.7 546.68,351.8 546.76,349.4 546.84,351.4 546.92,349.7 547.00,352.0 547.08,349.3 547.16,350.1 547.24,349.2 547.32,350.9 547.40,349.0 547.48,350.7 547.56,349.4 547.64,350.7 547.72,349.2 547.80,350.3 547.88,348.3 547.96,350.9 548.04,348.6 548.12,351.2 548.20,349.5 548.28,350.7 548.36,349.0 548.44,350.3 548.52,348.3 548.60,350.6 548.68,349.1 548.76,350.3 548.84,349.5 548.92,351.0 549.00,348.6 549.08,351.2 549.16,349.4 549.24,351.1 549.32,349.4 549.40,351.1 549.48,348.7 549.56,350.8 549.64,348.7 549.72,349.9 549.80,347.6 549.88,349.3 549.96,347.7 550.04,349.2 550.12,347.8 550.20,349.5 550.28,346.5 550.36,348.3 550.44,345.6 550.52,347.1 550.60,345.7 550.68,346.1 550.76,344.5 550.84,345.1 550.92,343.9 551.00,344.9 551.08,342.9 551.16,344.7 551.24,343.1 551.32,344.5 551.40,341.3 551.48,343.4 551.56,340.7 551.64,341.9 551.72,339.9 551.80,341.5 551.88,339.7 551.96,341.2 552.04,338.8 552.12,341.5 552.20,340.0 552.28,342.3 552.36,340.5 552.44,343.2 552.52,341.5 552.60,343.0 552.68,341.1 552.76,343.7 552.84,342.2 552.92,343.5 553.00,342.4 553.08,345.3 553.16,343.0 553.24,346.1 553.32,344.5 553.40,346.8 553.48,345.8 553.56,347.2 553.64,345.6 553.72,348.6 553.80,346.5 553.88,347.9 553.96,345.4 554.04,346.9 554.12,345.5 554.20,347.0 554.28,345.8 554.36,347.3 554.44,345.9 554.52,348.2 554.60,346.8 554.68,348.2 554.76,346.5 554.84,349.2 554.92,348.4 555.00,350.4 555.08,348.6 555.16,328.2 555.24,295.4 555.32,266.6 555.40,233.6 555.48,204.8 555.56,173.0 555.64,143.6 555.72,112.1 555.80,83.0 555.80,81.9 555.88,123.5 555.96,161.7 556.04,203.5 556.12,241.8 556.20,284.0 556.28,322.5 556.36,364.9 556.40,384.0 556.44,381.7 556.52,374.8 556.60,372.1 556.68,366.4 556.76,363.9 556.84,356.7 556.92,355.1 557.00,348.3 557.08,345.7 557.16,342.9 557.24,343.8 557.32,342.5 557.40,343.0 557.48,341.3 557.56,342.1 557.64,340.6 557.72,341.7 557.80,338.7 557.88,340.2 557.96,337.4 558.04,339.0 558.12,336.9 558.20,338.2 558.28,336.1 558.36,337.7 558.44,334.6 558.52,336.0 558.60,334.4 558.68,335.6 558.76,333.5 558.84,335.4 558.92,332.6 559.00,334.0 559.08,332.2 559.16,334.0 559.24,331.4 559.32,333.4 559.40,330.4 559.48,332.3 559.56,330.1 559.64,331.5 559.72,329.1 559.80,330.8 559.88,328.8 559.96,329.4 560.04,326.7 560.12,327.6 560.20,326.0 560.28,325.6 560.36,323.5 560.44,324.3 560.52,322.6 560.60,324.4 560.68,321.9 560.76,323.1 560.84,320.9 560.92,322.3 561.00,320.1 561.08,321.3 561.16,318.4 561.24,320.2 561.32,317.2 561.40,317.7 561.48,315.3 561.56,317.0 561.64,312.9 561.72,314.0 561.80,311.7 561.88,313.1 561.96,311.1 562.04,311.7 562.12,309.6 562.20,310.7 562.28,307.7 562.36,308.7 562.44,304.9 562.52,305.8 562.60,303.4 562.68,302.4 562.76,299.4 562.84,298.8 562.92,295.2 563.00,294.4 563.08,290.1 563.16,288.7 563.24,284.1 563.32,283.7 563.40,277.5 563.48,276.0 563.56,270.3 563.64,268.5 563.72,262.5 563.80,261.1 563.88,255.5 563.96,254.8 564.04,248.9 564.12,247.9 564.20,243.4 564.28,242.7 564.36,238.4 564.44,237.4 564.52,233.9 564.60,232.2 564.68,228.7 564.76,226.6 564.80,225.0 564.84,228.0 564.92,232.9 565.00,240.0 565.08,243.1 565.16,250.1 565.24,254.3 565.32,261.3 565.40,264.7 565.48,272.2 565.56,275.0 565.64,282.1 565.72,285.3 565.80,291.9 565.88,294.5 565.96,301.3 566.04,303.5 566.12,310.1 566.20,312.5 566.28,318.5 566.36,320.7 566.44,325.6 566.52,327.4 566.60,331.7 566.68,331.9 566.76,336.3 566.84,336.3 566.92,339.5 567.00,339.6 567.08,342.2 567.16,341.3 567.24,343.7 567.32,343.8 567.40,346.6 567.48,344.7 567.56,347.8 567.64,346.8 567.72,348.7 567.80,347.2 567.88,351.0 567.96,349.3 568.04,351.3 568.12,349.2 568.20,352.4 568.28,350.0 568.36,352.9 568.44,350.7 568.52,353.2 568.60,351.9 568.68,353.5 568.76,352.4 568.84,354.6 568.92,352.3 569.00,354.3 569.08,353.3 569.16,354.8 569.24,353.3 569.32,355.2 569.40,353.8 569.48,355.9 569.56,354.2 569.64,356.6 569.72,353.9 569.80,356.7 569.88,354.1 569.96,356.3 570.04,354.7 570.12,356.1 570.20,353.7 570.28,356.0 570.36,353.6 570.44,355.9 570.52,353.8 570.60,356.0 570.68,354.2 570.76,356.5 570.84,354.6 570.92,357.7 571.00,354.9 571.08,357.3 571.16,355.4 571.24,357.3 571.32,355.5 571.40,357.9 571.48,355.3 571.56,358.2 571.64,355.6 571.72,357.8 571.80,355.4 571.88,357.8 571.96,355.9 572.04,357.1 572.12,355.7 572.20,358.6 572.28,355.7 572.36,358.1 572.44,356.1 572.52,358.9 572.60,356.6 572.68,358.7 572.76,357.0 572.84,358.7 572.92,356.7 573.00,358.6 573.08,357.4 573.16,358.3 573.24,356.2 573.32,357.4 573.40,355.4 573.48,357.4 573.56,355.8 573.64,358.2 573.72,356.2 573.80,358.2 573.88,357.2 573.96,358.9 574.04,356.9 574.12,359.3 574.20,358.0 574.28,360.2 574.36,358.3 574.44,359.1 574.52,357.2 574.60,358.8 574.68,357.5 574.76,359.6 574.84,357.7 574.92,359.3 575.00,356.5 575.08,358.5 575.16,356.1 575.24,357.9 575.32,356.4 575.40,358.5 575.48,357.1 575.56,359.0 575.64,357.1 575.72,359.2 575.80,357.0 575.88,358.6 575.96,356.7 576.04,358.5 576.12,355.7 576.20,358.1 576.28,356.1 576.36,357.4 576.44,355.5 576.52,357.8 576.60,356.4 576.68,358.3 576.76,356.1 576.84,359.2 576.92,357.7 577.00,358.9 577.08,356.9 577.16,359.1 577.24,357.5 577.32,358.3 577.40,357.3 577.48,359.2 577.56,356.6 577.64,358.7 577.72,356.5 577.80,358.9 577.88,357.3 577.96,358.6 578.04,357.3 578.12,358.9 578.20,356.8 578.28,358.5 578.36,357.4 578.44,358.5 578.52,355.9 578.60,358.7 578.68,356.8 578.76,358.5 578.84,356.6 578.92,357.6 579.00,355.7 579.08,358.8 579.16,356.6 579.24,357.8 579.32,356.2 579.40,357.3 579.48,356.3 579.56,357.4 579.64,355.9 579.72,358.1 579.80,356.0 579.88,358.2 579.96,355.7 580.04,357.7 580.12,356.0 580.20,357.2 580.28,354.4 580.36,357.1 580.44,354.9 580.52,355.8 580.60,353.8 580.68,356.3 580.76,354.6 580.84,356.0 580.92,354.7 581.00,356.4 581.08,354.4 581.16,356.0" fill="none" stroke="#0000ff" stroke-width="1.05" stroke-linejoin="round"/>
<polyline points="91.00,317.9 91.08,315.4 91.16,317.9 91.24,315.9 91.32,316.8 91.40,314.8 91.48,316.3 91.56,314.8 91.64,317.9 91.72,315.8 91.80,317.6 91.88,316.1 91.96,317.7 92.04,316.5 92.12,318.1 92.20,316.1 92.28,318.7 92.36,316.0 92.44,318.0 92.52,315.5 92.60,317.8 92.68,316.5 92.76,317.8 92.84,316.0 92.92,317.1 93.00,315.9 93.08,317.5 93.16,315.4 93.24,318.1 93.32,315.9 93.40,317.6 93.48,315.9 93.56,317.4 93.64,316.7 93.72,318.7 93.80,317.0 93.88,318.4 93.96,317.0 94.04,319.1 94.12,317.2 94.20,318.8 94.28,317.2 94.36,319.2 94.44,316.4 94.52,318.7 94.60,316.5 94.68,318.3 94.76,316.8 94.84,318.5 94.92,316.6 95.00,318.6 95.08,316.5 95.16,318.6 95.24,317.5 95.32,319.6 95.40,318.1 95.48,319.9 95.56,318.0 95.64,320.3 95.72,317.5 95.80,319.6 95.88,317.3 95.96,319.3 96.04,317.9 96.12,318.9 96.20,317.6 96.28,319.2 96.36,318.2 96.44,320.1 96.52,318.2 96.60,319.7 96.68,318.0 96.76,320.3 96.84,317.8 96.92,319.8 97.00,317.9 97.08,320.9 97.16,317.8 97.24,320.2 97.32,319.0 97.40,320.5 97.48,318.9 97.56,321.2 97.64,319.4 97.72,321.0 97.80,318.6 97.88,320.3 97.96,318.4 98.04,320.2 98.12,318.6 98.20,319.4 98.28,325.7 98.36,336.1 98.44,342.4 98.52,349.5 98.60,347.5 98.68,349.2 98.76,348.3 98.84,349.1 98.92,348.0 99.00,349.7 99.08,346.6 99.16,347.8 99.24,345.7 99.32,347.7 99.40,345.0 99.48,346.6 99.56,343.8 99.64,345.3 99.72,343.3 99.80,345.1 99.88,342.0 99.96,343.6 100.04,341.1 100.12,342.2 100.20,339.9 100.28,341.9 100.36,339.4 100.44,340.6 100.52,337.7 100.60,339.1 100.68,337.4 100.76,339.7 100.84,337.5 100.92,339.8 101.00,338.3 101.08,339.9 101.16,338.6 101.24,339.8 101.32,339.1 101.40,341.6 101.48,339.5 101.56,341.5 101.64,340.6 101.72,342.9 101.80,341.1 101.88,343.7 101.96,341.6 102.04,344.1 102.12,342.1 102.20,345.2 102.28,343.5 102.36,346.0 102.44,343.8 102.52,346.4 102.60,344.1 102.68,346.2 102.76,345.0 102.84,347.0 102.92,344.9 103.00,346.6 103.08,344.6 103.16,346.9 103.24,344.7 103.32,346.8 103.40,344.3 103.48,346.8 103.56,345.5 103.64,347.5 103.72,338.8 103.80,309.9 103.88,277.7 103.96,250.0 104.04,218.0 104.12,189.4 104.20,157.3 104.28,129.2 104.36,97.1 104.40,83.3 104.44,100.8 104.52,142.0 104.60,178.9 104.68,220.3 104.76,257.7 104.84,297.6 104.92,335.2 105.00,375.9 105.00,374.8 105.08,371.1 105.16,365.0 105.24,362.5 105.32,355.1 105.40,353.3 105.48,346.3 105.56,344.1 105.64,338.3 105.72,336.1 105.80,335.2 105.88,336.1 105.96,334.3 106.04,335.6 106.12,333.6 106.20,334.2 106.28,332.5 106.36,333.8 106.44,331.5 106.52,332.4 106.60,330.8 106.68,332.5 106.76,329.9 106.84,331.7 106.92,329.2 107.00,331.7 107.08,329.6 107.16,331.0 107.24,329.1 107.32,330.6 107.40,327.6 107.48,329.9 107.56,327.5 107.64,328.0 107.72,326.0 107.80,326.1 107.88,324.3 107.96,326.0 108.04,323.9 108.12,325.9 108.20,323.2 108.28,324.7 108.36,322.5 108.44,325.2 108.52,323.0 108.60,324.5 108.68,321.8 108.76,324.0 108.84,321.5 108.92,322.3 109.00,319.1 109.08,320.9 109.16,318.0 109.24,319.2 109.32,316.6 109.40,318.6 109.48,315.4 109.56,316.8 109.64,315.0 109.72,316.0 109.80,314.1 109.88,314.9 109.96,311.6 110.04,313.4 110.12,311.2 110.20,311.9 110.28,309.3 110.36,310.0 110.44,308.5 110.52,308.9 110.60,306.5 110.68,308.7 110.76,306.1 110.84,306.4 110.92,304.1 111.00,305.0 111.08,302.5 111.16,303.3 111.24,300.2 111.32,301.0 111.40,298.0 111.48,299.0 111.56,295.8 111.64,295.6 111.72,292.1 111.80,292.0 111.88,289.2 111.96,288.0 112.04,284.7 112.12,283.7 112.20,279.1 112.28,277.2 112.36,272.0 112.44,271.2 112.52,266.3 112.60,264.3 112.68,258.1 112.76,256.5 112.84,251.7 112.92,249.9 113.00,245.0 113.08,244.4 113.16,238.7 113.24,238.3 113.32,233.3 113.40,232.1 113.48,228.7 113.56,228.6 113.64,224.2 113.72,223.4 113.80,219.6 113.80,219.9 113.88,225.1 113.96,232.0 114.04,236.4 114.12,243.4 114.20,246.1 114.28,253.8 114.36,256.6 114.44,265.0 114.52,267.7 114.60,275.5 114.68,278.5 114.76,285.5 114.84,288.7 114.92,295.8 115.00,298.8 115.08,306.2 115.16,308.5 115.24,314.6 115.32,316.9 115.40,322.3 115.48,324.6 115.56,330.7 115.64,331.8 115.72,335.8 115.80,335.6 115.88,339.4 115.96,338.9 116.04,342.8 116.12,341.8 116.20,343.7 116.28,342.4 116.36,345.3 116.44,343.8 116.52,345.8 116.60,343.5 116.68,346.4 116.76,344.9 116.84,346.0 116.92,344.5 117.00,347.0 117.08,345.9 117.16,347.5 117.24,345.7 117.32,348.4 117.40,347.3 117.48,349.4 117.56,347.3 117.64,349.5 117.72,347.8 117.80,349.3 117.88,348.3 117.96,349.7 118.04,348.5 118.12,350.6 118.20,348.4 118.28,350.0 118.36,348.3 118.44,351.3 118.52,348.8 118.60,351.1 118.68,349.6 118.76,351.5 118.84,350.7 118.92,351.4 119.00,349.7 119.08,351.3 119.16,350.5 119.24,352.6 119.32,350.2 119.40,351.6 119.48,350.1 119.56,351.7 119.64,349.8 119.72,351.6 119.80,350.2 119.88,352.5 119.96,350.2 120.04,351.9 120.12,349.8 120.20,352.9 120.28,351.2 120.36,352.6 120.44,351.9 120.52,354.1 120.60,351.3 120.68,353.6 120.76,351.9 120.84,354.4 120.92,353.3 121.00,355.1 121.08,352.9 121.16,354.7 121.24,353.6 121.32,355.5 121.40,354.3 121.48,355.2 121.56,353.5 121.64,355.4 121.72,352.8 121.80,355.5 121.88,353.0 121.96,355.8 122.04,353.5 122.12,355.9 122.20,353.5 122.28,355.3 122.36,354.5 122.44,356.6 122.52,354.7 122.60,356.2 122.68,353.9 122.76,355.9 122.84,353.5 122.92,355.7 123.00,354.4 123.08,355.9 123.16,353.9 123.24,356.5 123.32,354.2 123.40,356.4 123.48,354.5 123.56,356.8 123.64,354.6 123.72,357.3 123.80,354.9 123.88,356.6 123.96,354.5 124.04,356.9 124.12,355.1 124.20,357.3 124.28,355.3 124.36,357.1 124.44,355.0 124.52,356.6 124.60,354.9 124.68,356.8 124.76,355.3 124.84,357.4 124.92,355.5 125.00,357.2 125.08,355.1 125.16,357.2 125.24,355.5 125.32,356.7 125.40,354.5 125.48,356.8 125.56,354.3 125.64,355.9 125.72,353.8 125.80,355.8 125.88,354.4 125.96,356.0 126.04,354.1 126.12,355.4 126.20,353.8 126.28,355.5 126.36,354.1 126.44,355.8 126.52,353.6 126.60,355.7 126.68,353.4 126.76,355.2 126.84,353.2 126.92,355.4 127.00,352.4 127.08,354.8 127.16,352.9 127.24,355.2 127.32,353.0 127.40,354.9 127.48,352.5 127.56,354.4 127.64,352.0 127.72,354.4 127.80,353.1 127.88,355.0 127.96,352.9 128.04,354.3 128.12,351.7 128.20,353.6 128.28,351.6 128.36,352.9 128.44,351.6 128.52,353.7 128.60,351.0 128.68,352.8 128.76,350.3 128.84,352.5 128.92,350.2 129.00,352.6 129.08,350.8 129.16,351.9 129.24,350.3 129.32,351.7 129.40,349.1 129.48,351.2 129.56,349.1 129.64,350.7 129.72,348.9 129.80,350.8 129.88,348.0 129.96,349.8 130.04,347.8 130.12,349.6 130.20,347.0 130.28,348.8 130.36,347.2 130.44,348.8 130.52,346.2 130.60,347.6 130.68,345.6 130.76,346.4 130.84,344.1 130.92,346.2 131.00,343.4 131.08,345.3 131.16,342.7 131.24,344.0 131.32,342.1 131.40,343.2 131.48,341.2 131.56,343.1 131.64,340.5 131.72,342.0 131.80,340.2 131.88,342.4 131.96,340.4 132.04,341.7 132.12,340.0 132.20,341.8 132.28,340.4 132.36,342.6 132.44,340.8 132.52,342.5 132.60,341.3 132.68,343.2 132.76,341.6 132.84,343.8 132.92,342.3 133.00,345.0 133.08,343.8 133.16,345.7 133.24,344.8 133.32,346.9 133.40,344.9 133.48,347.7 133.56,346.0 133.64,347.4 133.72,345.9 133.80,348.3 133.88,346.8 133.96,348.8 134.04,346.3 134.12,348.2 134.20,346.0 134.28,348.5 134.36,346.4 134.44,347.8 134.52,346.7 134.60,348.1 134.68,346.2 134.76,347.9 134.84,346.3 134.92,348.8 135.00,348.4 135.08,319.1 135.16,287.0 135.24,258.5 135.32,226.2 135.40,196.6 135.48,164.7 135.56,135.8 135.64,103.8 135.70,81.0 135.72,89.9 135.80,130.7 135.88,168.6 135.96,210.0 136.04,247.7 136.12,289.1 136.20,326.9 136.28,368.1 136.30,377.2 136.36,375.0 136.44,367.0 136.52,364.2 136.60,357.5 136.68,353.4 136.76,345.6 136.84,342.7 136.92,336.1 137.00,333.2 137.08,329.5 137.16,330.8 137.24,329.0 137.32,329.9 137.40,327.7 137.48,330.3 137.56,327.4 137.64,329.5 137.72,326.8 137.80,328.7 137.88,326.3 137.96,328.3 138.04,325.3 138.12,326.5 138.20,324.2 138.28,324.7 138.36,322.4 138.44,324.1 138.52,321.4 138.60,322.9 138.68,320.0 138.76,321.2 138.84,319.7 138.92,319.9 139.00,318.3 139.08,319.6 139.16,317.7 139.24,319.8 139.32,317.2 139.40,318.7 139.48,315.5 139.56,317.3 139.64,314.4 139.72,315.5 139.80,313.1 139.88,314.6 139.96,312.5 140.04,313.7 140.12,310.6 140.20,312.0 140.28,310.0 140.36,311.7 140.44,309.2 140.52,310.2 140.60,308.2 140.68,309.3 140.76,307.0 140.84,307.9 140.92,306.1 141.00,306.8 141.08,304.4 141.16,305.1 141.24,303.1 141.32,304.1 141.40,300.9 141.48,301.5 141.56,299.7 141.64,300.7 141.72,297.8 141.80,299.1 141.88,295.7 141.96,297.3 142.04,294.2 142.12,295.2 142.20,291.8 142.28,292.7 142.36,288.0 142.44,287.0 142.52,282.7 142.60,282.8 142.68,278.3 142.76,277.2 142.84,271.9 142.92,270.3 143.00,264.9 143.08,263.6 143.16,258.6 143.24,256.1 143.32,250.8 143.40,248.4 143.48,243.6 143.56,241.7 143.64,237.3 143.72,235.3 143.80,230.6 143.88,229.0 143.96,223.4 144.04,222.9 144.12,218.7 144.20,218.4 144.28,214.2 144.36,212.4 144.40,210.7 144.44,213.8 144.52,217.4 144.60,224.0 144.68,228.2 144.76,235.7 144.84,238.3 144.92,244.5 145.00,248.7 145.08,255.5 145.16,258.9 145.24,265.8 145.32,269.7 145.40,277.3 145.48,279.6 145.56,286.4 145.64,288.9 145.72,296.2 145.80,299.7 145.88,305.4 145.96,308.2 146.04,313.2 146.12,315.5 146.20,321.7 146.28,322.4 146.36,327.4 146.44,328.1 146.52,332.1 146.60,331.4 146.68,335.5 146.76,334.4 146.84,337.5 146.92,336.9 147.00,339.3 147.08,338.1 147.16,339.6 147.24,338.2 147.32,340.8 147.40,339.3 147.48,340.5 147.56,338.3 147.64,341.0 147.72,339.3 147.80,340.5 147.88,338.4 147.96,340.5 148.04,338.4 148.12,339.6 148.20,337.6 148.28,340.3 148.36,338.4 148.44,338.9 148.52,337.6 148.60,339.1 148.68,336.3 148.76,338.0 148.84,336.3 148.92,337.4 149.00,335.8 149.08,337.9 149.16,335.6 149.24,336.7 149.32,335.1 149.40,336.7 149.48,334.8 149.56,337.3 149.64,336.3 149.72,337.5 149.80,335.8 149.88,338.6 149.96,337.3 150.04,339.0 150.12,337.1 150.20,339.6 150.28,338.0 150.36,339.5 150.44,337.3 150.52,339.0 150.60,337.0 150.68,339.5 150.76,337.9 150.84,339.2 150.92,338.0 151.00,338.8 151.08,337.9 151.16,339.3 151.24,337.8 151.32,339.5 151.40,337.9 151.48,339.4 151.56,338.7 151.64,339.9 151.72,338.0 151.80,340.1 151.88,338.5 151.96,340.3 152.04,338.6 152.12,341.1 152.20,337.9 152.28,340.2 152.36,338.2 152.44,340.0 152.52,338.8 152.60,340.0 152.68,338.3 152.76,341.0 152.84,338.7 152.92,339.9 153.00,338.1 153.08,339.3 153.16,337.1 153.24,339.9 153.32,338.4 153.40,340.0 153.48,338.1 153.56,338.7 153.64,337.8 153.72,340.3 153.80,338.0 153.88,339.8 153.96,337.1 154.04,338.4 154.12,336.6 154.20,338.4 154.28,336.0 154.36,338.4 154.44,336.0 154.52,338.2 154.60,336.1 154.68,338.2 154.76,336.2 154.84,338.3 154.92,335.4 155.00,338.2 155.08,336.2 155.16,337.4 155.24,335.1 155.32,338.0 155.40,336.0 155.48,337.6 155.56,334.8 155.64,336.2 155.72,334.3 155.80,336.4 155.88,334.4 155.96,336.2 156.04,334.2 156.12,335.8 156.20,334.6 156.28,336.2 156.36,334.0 156.44,336.5 156.52,333.8 156.60,335.7 156.68,334.3 156.76,335.6 156.84,334.1 156.92,335.5 157.00,333.4 157.08,335.2 157.16,333.4 157.24,334.9 157.32,334.0 157.40,335.4 157.48,332.9 157.56,334.8 157.64,332.7 157.72,334.2 157.80,332.5 157.88,334.0 157.96,331.9 158.04,332.9 158.12,330.9 158.20,332.8 158.28,331.1 158.36,332.5 158.44,330.8 158.52,332.8 158.60,330.9 158.68,332.1 158.76,330.7 158.84,332.8 158.92,330.3 159.00,332.0 159.08,329.3 159.16,332.2 159.24,330.6 159.32,331.6 159.40,329.5 159.48,331.4 159.56,330.0 159.64,331.7 159.72,330.5 159.80,331.2 159.88,329.4 159.96,330.5 160.04,328.7 160.12,329.6 160.20,327.8 160.28,328.0 160.36,325.2 160.44,326.7 160.52,324.1 160.60,325.2 160.68,323.5 160.76,324.0 160.84,321.5 160.92,323.8 161.00,321.4 161.08,322.8 161.16,321.3 161.24,322.4 161.32,322.4 161.40,323.5 161.48,322.5 161.56,324.6 161.64,323.5 161.72,325.5 161.80,323.6 161.88,326.0 161.96,325.1 162.04,326.9 162.12,325.2 162.20,328.3 162.28,326.5 162.36,328.7 162.44,327.4 162.52,328.6 162.60,327.4 162.68,330.2 162.76,327.5 162.84,330.0 162.92,328.2 163.00,329.9 163.08,328.6 163.16,331.1 163.24,330.0 163.32,331.6 163.40,329.0 163.48,332.2 163.56,330.7 163.64,317.8 163.72,288.0 163.80,260.6 163.88,229.3 163.96,202.5 164.04,172.0 164.12,145.9 164.20,115.9 164.28,89.1 164.30,80.9 164.36,110.4 164.44,146.7 164.52,186.1 164.60,221.8 164.68,262.1 164.76,297.3 164.84,336.7 164.90,363.6 164.92,364.1 165.00,357.0 165.08,353.8 165.16,348.0 165.24,345.2 165.32,338.0 165.40,334.3 165.48,328.1 165.56,325.5 165.64,321.1 165.72,323.1 165.80,319.6 165.88,320.8 165.96,319.0 166.04,319.7 166.12,316.9 166.20,318.9 166.28,316.0 166.36,317.4 166.44,315.3 166.52,316.6 166.60,314.2 166.68,315.0 166.76,313.1 166.84,314.4 166.92,311.2 167.00,313.2 167.08,311.4 167.16,312.7 167.24,310.1 167.32,311.4 167.40,310.5 167.48,311.4 167.56,309.8 167.64,310.7 167.72,309.0 167.80,310.2 167.88,307.6 167.96,308.7 168.04,306.6 168.12,309.1 168.20,306.1 168.28,307.5 168.36,304.4 168.44,306.3 168.52,303.5 168.60,305.0 168.68,302.9 168.76,304.1 168.84,301.7 168.92,303.5 169.00,301.2 169.08,302.8 169.16,299.8 169.24,301.0 169.32,298.6 169.40,298.9 169.48,297.4 169.56,298.3 169.64,295.7 169.72,296.6 169.80,293.1 169.88,294.9 169.96,291.5 170.04,293.7 170.12,291.4 170.20,293.0 170.28,290.2 170.36,291.3 170.44,287.9 170.52,289.4 170.60,286.4 170.68,287.1 170.76,284.3 170.84,284.8 170.92,281.9 171.00,281.6 171.08,278.1 171.16,279.0 171.24,274.9 171.32,273.8 171.40,270.2 171.48,268.6 171.56,265.1 171.64,263.4 171.72,258.8 171.80,257.3 171.88,252.2 171.96,250.7 172.04,245.3 172.12,242.9 172.20,237.9 172.28,237.2 172.36,232.2 172.44,231.2 172.52,226.6 172.60,226.1 172.68,221.4 172.76,220.7 172.84,216.2 172.92,216.6 173.00,212.7 173.08,211.5 173.16,207.2 173.20,206.2 173.24,208.6 173.32,215.8 173.40,219.1 173.48,224.9 173.56,228.9 173.64,235.5 173.72,239.3 173.80,246.5 173.88,250.1 173.96,256.3 174.04,259.9 174.12,267.6 174.20,270.5 174.28,277.3 174.36,280.3 174.44,287.1 174.52,290.0 174.60,296.9 174.68,299.3 174.76,305.5 174.84,308.1 174.92,313.1 175.00,314.3 175.08,319.4 175.16,320.8 175.24,325.5 175.32,324.7 175.40,327.8 175.48,327.0 175.56,330.4 175.64,329.1 175.72,331.5 175.80,329.5 175.88,332.3 175.96,330.0 176.04,332.3 176.12,330.5 176.20,332.6 176.28,330.7 176.36,332.9 176.44,331.3 176.52,333.6 176.60,331.1 176.68,334.1 176.76,332.3 176.84,334.4 176.92,332.1 177.00,333.8 177.08,332.8 177.16,334.1 177.24,332.8 177.32,334.3 177.40,333.4 177.48,334.6 177.56,333.0 177.64,335.2 177.72,332.5 177.80,334.6 177.88,332.5 177.96,334.4 178.04,333.4 178.12,336.2 178.20,334.2 178.28,336.3 178.36,334.1 178.44,335.8 178.52,334.2 178.60,336.2 178.68,334.5 178.76,336.3 178.84,335.4 178.92,337.3 179.00,335.6 179.08,337.2 179.16,336.0 179.24,337.8 179.32,336.3 179.40,338.5 179.48,336.1 179.56,338.2 179.64,336.7 179.72,339.0 179.80,336.6 179.88,339.0 179.96,337.5 180.04,339.6 180.12,337.1 180.20,340.0 180.28,337.4 180.36,339.8 180.44,338.5 180.52,340.4 180.60,338.8 180.68,340.2 180.76,338.5 180.84,340.5 180.92,338.8 181.00,341.6 181.08,340.4 181.16,341.4 181.24,339.9 181.32,342.2 181.40,339.8 181.48,341.9 181.56,340.0 181.64,342.3 181.72,340.4 181.80,341.5 181.88,339.8 181.96,342.1 182.04,339.8 182.12,341.3 182.20,340.1 182.28,342.2 182.36,340.4 182.44,342.8 182.52,340.5 182.60,342.6 182.68,341.2 182.76,343.6 182.84,341.4 182.92,344.0 183.00,342.4 183.08,344.4 183.16,342.4 183.24,345.0 183.32,342.8 183.40,344.4 183.48,342.5 183.56,344.6 183.64,342.4 183.72,345.0 183.80,343.2 183.88,344.9 183.96,343.0 184.04,344.8 184.12,343.1 184.20,345.7 184.28,343.8 184.36,345.0 184.44,343.4 184.52,345.4 184.60,343.8 184.68,345.4 184.76,344.0 184.84,345.4 184.92,343.8 185.00,346.4 185.08,344.1 185.16,346.3 185.24,344.5 185.32,346.7 185.40,344.4 185.48,346.4 185.56,344.9 185.64,347.3 185.72,344.7 185.80,346.4 185.88,344.7 185.96,345.9 186.04,343.9 186.12,345.6 186.20,344.3 186.28,345.3 186.36,343.6 186.44,345.4 186.52,343.2 186.60,345.2 186.68,342.2 186.76,344.4 186.84,343.0 186.92,343.8 187.00,341.3 187.08,343.7 187.16,341.8 187.24,343.3 187.32,340.5 187.40,343.6 187.48,340.6 187.56,342.5 187.64,340.0 187.72,342.2 187.80,341.0 187.88,342.4 187.96,340.9 188.04,342.0 188.12,340.1 188.20,342.5 188.28,340.7 188.36,343.8 188.44,342.0 188.52,344.7 188.60,341.9 188.68,345.0 188.76,344.0 188.84,346.1 188.92,344.7 189.00,347.8 189.08,347.7 189.16,349.8 189.24,347.6 189.32,350.1 189.40,348.6 189.48,350.3 189.56,349.4 189.64,351.0 189.72,349.7 189.80,351.2 189.88,348.5 189.96,350.6 190.04,348.8 190.12,350.3 190.20,349.0 190.28,351.2 190.36,349.3 190.44,350.8 190.52,349.4 190.60,351.1 190.68,349.3 190.76,351.0 190.84,349.0 190.92,351.9 191.00,349.6 191.08,323.1 191.16,292.2 191.24,264.5 191.32,234.1 191.40,208.0 191.48,177.0 191.56,150.1 191.64,119.5 191.70,98.2 191.72,107.5 191.80,148.9 191.88,186.1 191.96,228.1 192.04,265.6 192.12,306.9 192.20,344.6 192.28,385.5 192.30,394.0 192.36,392.0 192.44,385.1 192.52,381.7 192.60,375.8 192.68,372.5 192.76,366.1 192.84,363.4 192.92,356.1 193.00,353.7 193.08,351.5 193.16,353.3 193.24,351.2 193.32,352.5 193.40,349.7 193.48,351.3 193.56,348.4 193.64,350.3 193.72,344.3 193.80,336.3 193.88,323.1 193.96,322.3 194.04,318.5 194.12,320.1 194.20,317.8 194.28,319.2 194.36,317.1 194.44,318.6 194.52,316.9 194.60,317.2 194.68,315.3 194.76,317.3 194.84,314.8 194.92,316.2 195.00,314.0 195.08,315.0 195.16,313.0 195.24,315.0 195.32,312.4 195.40,314.2 195.48,312.3 195.56,313.6 195.64,311.2 195.72,313.2 195.80,311.0 195.88,312.1 195.96,310.5 196.04,312.2 196.12,309.2 196.20,311.8 196.28,309.9 196.36,311.7 196.44,309.6 196.52,310.9 196.60,308.5 196.68,309.7 196.76,307.6 196.84,309.3 196.92,306.9 197.00,308.6 197.08,305.9 197.16,306.9 197.24,303.4 197.32,304.3 197.40,301.0 197.48,302.3 197.56,299.5 197.64,299.9 197.72,297.6 197.80,298.1 197.88,295.5 197.96,295.8 198.04,293.5 198.12,295.0 198.20,292.4 198.28,292.4 198.36,289.5 198.44,289.6 198.52,286.8 198.60,287.8 198.68,284.0 198.76,283.5 198.84,280.0 198.92,278.7 199.00,274.8 199.08,274.3 199.16,269.3 199.24,269.5 199.32,265.0 199.40,264.4 199.48,260.1 199.56,259.1 199.64,254.7 199.72,254.0 199.80,248.9 199.88,246.8 199.96,242.3 200.04,241.0 200.12,234.4 200.20,233.6 200.28,227.7 200.36,227.4 200.44,221.3 200.52,220.2 200.60,215.0 200.68,212.9 200.76,207.3 200.84,204.8 200.90,201.9 200.92,203.8 201.00,210.2 201.08,218.4 201.16,222.9 201.24,232.0 201.32,236.8 201.40,245.6 201.48,250.0 201.56,259.3 201.64,264.7 201.72,272.5 201.80,276.0 201.88,283.4 201.96,287.9 202.04,294.8 202.12,298.5 202.20,305.8 202.28,308.7 202.36,316.5 202.44,319.2 202.52,326.9 202.60,330.9 202.68,332.5 202.76,330.0 202.84,332.5 202.92,330.2 203.00,332.8 203.08,330.9 203.16,332.6 203.24,330.8 203.32,332.9 203.40,331.3 203.48,332.9 203.56,331.9 203.64,333.7 203.72,332.6 203.80,334.6 203.88,332.2 203.96,334.7 204.04,332.2 204.12,334.5 204.20,333.2 204.28,335.0 204.36,333.6 204.44,335.8 204.52,333.8 204.60,336.1 204.68,333.4 204.76,335.9 204.84,333.7 204.92,335.8 205.00,334.6 205.08,336.3 205.16,335.0 205.24,336.3 205.32,335.1 205.40,337.0 205.48,335.1 205.56,336.6 205.64,334.4 205.72,336.5 205.80,334.5 205.88,337.3 205.96,334.9 206.04,336.7 206.12,335.4 206.20,336.8 206.28,335.9 206.36,337.1 206.44,335.7 206.52,337.8 206.60,335.2 206.68,337.3 206.76,334.4 206.84,336.4 206.92,334.4 207.00,335.7 207.08,334.9 207.16,336.5 207.24,334.4 207.32,335.7 207.40,334.6 207.48,336.3 207.56,334.4 207.64,335.6 207.72,333.9 207.80,335.6 207.88,333.4 207.96,336.1 208.04,334.2 208.12,335.9 208.20,333.9 208.28,336.4 208.36,333.7 208.44,335.5 208.52,334.5 208.60,336.1 208.68,335.0 208.76,335.8 208.84,334.2 208.92,336.5 209.00,333.7 209.08,336.0 209.16,333.2 209.24,335.0 209.32,333.3 209.40,335.0 209.48,333.2 209.56,334.7 209.64,332.7 209.72,334.3 209.80,333.2 209.88,334.6 209.96,332.6 210.04,334.5 210.12,331.8 210.20,333.6 210.28,332.7 210.36,333.4 210.44,331.9 210.52,333.5 210.60,330.6 210.68,333.3 210.76,331.6 210.84,332.7 210.92,330.8 211.00,333.0 211.08,330.2 211.16,332.2 211.24,330.5 211.32,332.1 211.40,329.4 211.48,331.3 211.56,329.8 211.64,330.7 211.72,329.4 211.80,331.0 211.88,328.4 211.96,330.9 212.04,328.6 212.12,329.9 212.20,327.8 212.28,329.8 212.36,328.3 212.44,329.1 212.52,327.3 212.60,329.4 212.68,327.5 212.76,328.9 212.84,327.1 212.92,329.3 213.00,326.9 213.08,329.1 213.16,327.5 213.24,328.9 213.32,327.7 213.40,328.5 213.48,327.0 213.56,328.2 213.64,326.2 213.72,327.4 213.80,324.8 213.88,326.3 213.96,325.3 214.04,326.7 214.12,323.8 214.20,325.6 214.28,323.5 214.36,325.3 214.44,323.5 214.52,325.2 214.60,323.0 214.68,324.8 214.76,323.4 214.84,325.0 214.92,322.9 215.00,324.6 215.08,322.1 215.16,324.4 215.24,321.6 215.32,323.7 215.40,320.9 215.48,323.3 215.56,321.7 215.64,322.9 215.72,321.6 215.80,323.3 215.88,320.8 215.96,322.2 216.04,320.7 216.12,322.1 216.20,320.2 216.28,321.5 216.36,318.3 216.44,321.1 216.52,317.5 216.60,319.3 216.68,316.9 216.76,317.9 216.84,316.4 216.92,317.4 217.00,314.8 217.08,316.5 217.16,315.5 217.24,317.2 217.32,316.2 217.40,318.1 217.48,317.8 217.56,320.2 217.64,317.7 217.72,320.7 217.80,319.1 217.88,321.1 217.96,319.3 218.04,322.5 218.12,320.1 218.20,322.4 218.28,321.6 218.36,323.3 218.44,322.5 218.52,324.1 218.60,323.1 218.68,325.1 218.76,324.1 218.84,325.8 218.92,324.5 219.00,325.9 219.08,324.0 219.16,326.2 219.24,324.3 219.32,326.2 219.40,324.1 219.48,326.0 219.56,303.5 219.64,278.4 219.72,248.8 219.80,224.3 219.88,194.6 219.96,169.8 220.04,141.2 220.12,115.6 220.20,86.8 220.28,60.8 220.30,52.9 220.36,79.4 220.44,112.4 220.52,147.9 220.60,180.0 220.68,216.8 220.76,249.2 220.84,285.3 220.90,309.2 220.92,319.0 221.00,352.0 221.08,350.4 221.16,345.9 221.24,344.5 221.32,339.6 221.40,338.3 221.48,333.1 221.56,332.2 221.64,327.7 221.72,328.3 221.80,325.8 221.88,327.2 221.96,324.1 222.04,325.0 222.12,322.3 222.20,323.7 222.28,321.2 222.36,321.3 222.44,319.0 222.52,320.1 222.60,317.3 222.68,317.9 222.76,315.4 222.84,316.6 222.92,313.5 223.00,314.1 223.08,311.9 223.16,313.1 223.24,311.2 223.32,312.8 223.40,310.0 223.48,311.0 223.56,308.4 223.64,308.7 223.72,306.2 223.80,308.5 223.88,306.1 223.96,306.6 224.04,304.1 224.12,304.6 224.20,302.5 224.28,304.2 224.36,301.2 224.44,303.0 224.52,300.9 224.60,301.1 224.68,298.1 224.76,299.2 224.84,296.2 224.92,296.5 225.00,292.7 225.08,293.1 225.16,290.5 225.24,290.3 225.32,287.2 225.40,288.1 225.48,286.0 225.56,286.2 225.64,283.3 225.72,283.7 225.80,280.7 225.88,281.9 225.96,279.3 226.04,279.5 226.12,275.5 226.20,275.6 226.28,272.2 226.36,272.5 226.44,268.6 226.52,268.0 226.60,264.5 226.68,264.5 226.76,260.8 226.84,261.0 226.92,256.7 227.00,254.8 227.08,249.0 227.16,247.3 227.24,241.9 227.32,239.8 227.40,235.0 227.48,232.9 227.56,227.9 227.64,226.6 227.72,221.3 227.80,218.4 227.88,212.3 227.96,209.7 228.04,203.8 228.12,201.0 228.20,195.0 228.28,191.5 228.30,190.0 228.36,195.2 228.44,199.5 228.52,207.1 228.60,212.4 228.68,220.3 228.76,224.8 228.84,233.1 228.92,238.2 229.00,246.5 229.08,251.1 229.16,259.4 229.24,262.8 229.32,270.0 229.40,272.3 229.48,278.5 229.56,281.2 229.64,287.4 229.72,290.4 229.80,296.9 229.88,298.1 229.96,305.4 230.04,307.2 230.12,313.5 230.20,317.0 230.28,319.0 230.36,318.2 230.44,320.3 230.52,319.2 230.60,320.7 230.68,319.8 230.76,321.0 230.84,320.4 230.92,322.6 231.00,321.2 231.08,323.7 231.16,321.9 231.24,324.9 231.32,322.4 231.40,324.7 231.48,323.4 231.56,326.3 231.64,323.7 231.72,325.4 231.80,323.6 231.88,326.5 231.96,324.4 232.04,325.8 232.12,324.5 232.20,327.3 232.28,325.5 232.36,327.1 232.44,324.9 232.52,327.1 232.60,325.1 232.68,326.8 232.76,325.5 232.84,326.7 232.92,324.5 233.00,326.6 233.08,324.6 233.16,327.4 233.24,326.0 233.32,327.2 233.40,324.7 233.48,326.2 233.56,324.8 233.64,327.6 233.72,325.8 233.80,327.5 233.88,326.0 233.96,328.0 234.04,326.0 234.12,327.4 234.20,326.4 234.28,328.0 234.36,326.8 234.44,328.8 234.52,325.9 234.60,328.6 234.68,326.4 234.76,328.8 234.84,327.5 234.92,329.4 235.00,326.9 235.08,329.4 235.16,327.7 235.24,330.4 235.32,328.0 235.40,329.6 235.48,328.1 235.56,329.7 235.64,327.3 235.72,329.7 235.80,327.5 235.88,330.2 235.96,327.1 236.04,328.9 236.12,327.6 236.20,329.4 236.28,328.6 236.36,330.0 236.44,328.0 236.52,330.3 236.60,328.0 236.68,329.7 236.76,328.0 236.84,329.5 236.92,327.5 237.00,330.3 237.08,328.0 237.16,330.0 237.24,328.1 237.32,330.5 237.40,329.4 237.48,331.6 237.56,329.1 237.64,331.6 237.72,329.8 237.80,331.8 237.88,329.7 237.96,332.2 238.04,330.6 238.12,332.8 238.20,330.3 238.28,332.4 238.36,330.8 238.44,332.8 238.52,329.6 238.60,331.8 238.68,329.6 238.76,331.9 238.84,330.3 238.92,332.0 239.00,330.0 239.08,332.1 239.16,329.8 239.24,331.6 239.32,330.6 239.40,332.2 239.48,329.9 239.56,332.4 239.64,330.7 239.72,332.5 239.80,330.0 239.88,332.5 239.96,331.3 240.04,333.5 240.12,332.2 240.20,333.1 240.28,332.0 240.36,333.6 240.44,331.8 240.52,334.2 240.60,332.2 240.68,333.6 240.76,332.0 240.84,334.0 240.92,331.6 241.00,333.9 241.08,331.8 241.16,333.5 241.24,331.0 241.32,333.1 241.40,331.6 241.48,334.0 241.56,331.9 241.64,333.7 241.72,331.5 241.80,332.7 241.88,330.9 241.96,333.0 242.04,330.7 242.12,333.3 242.20,331.1 242.28,332.6 242.36,330.7 242.44,333.2 242.52,330.5 242.60,332.9 242.68,330.9 242.76,333.1 242.84,330.9 242.92,333.2 243.00,330.6 243.08,333.1 243.16,330.6 243.24,332.3 243.32,331.1 243.40,333.1 243.48,331.0 243.56,332.7 243.64,331.2 243.72,333.4 243.80,331.6 243.88,332.8 243.96,330.9 244.04,332.7 244.12,330.1 244.20,331.8 244.28,329.2 244.36,329.9 244.44,327.6 244.52,328.9 244.60,326.3 244.68,328.4 244.76,325.9 244.84,327.4 244.92,324.6 245.00,325.7 245.08,323.1 245.16,325.5 245.24,322.6 245.32,324.8 245.40,321.8 245.48,322.4 245.56,320.1 245.64,321.4 245.72,319.7 245.80,321.8 245.88,321.2 245.96,323.2 246.04,321.4 246.12,323.7 246.20,322.8 246.28,325.0 246.36,323.1 246.44,326.6 246.52,324.3 246.60,326.9 246.68,325.2 246.76,327.4 246.84,326.6 246.92,328.1 247.00,327.8 247.08,330.1 247.16,329.4 247.24,331.1 247.32,329.5 247.40,331.7 247.48,329.3 247.56,332.1 247.64,329.4 247.72,331.7 247.80,329.1 247.88,331.0 247.96,328.8 248.04,330.8 248.12,328.3 248.20,331.0 248.28,329.3 248.36,331.8 248.44,333.5 248.52,343.0 248.60,349.2 248.68,357.5 248.76,299.2 248.84,268.8 248.92,235.7 249.00,206.3 249.08,174.3 249.16,144.7 249.24,111.5 249.30,89.2 249.32,98.7 249.40,140.1 249.48,178.6 249.56,220.9 249.64,260.0 249.72,301.2 249.80,339.4 249.88,381.9 249.90,389.8 249.96,387.6 250.04,381.0 250.12,378.9 250.20,372.0 250.28,369.9 250.36,364.4 250.44,361.1 250.52,355.3 250.60,353.2 250.68,350.8 250.76,351.8 250.84,349.5 250.92,351.6 251.00,349.0 251.08,350.5 251.16,347.9 251.24,349.8 251.32,346.7 251.40,348.6 251.48,346.5 251.56,347.6 251.64,345.5 251.72,346.0 251.80,344.6 251.88,345.8 251.96,343.7 252.04,345.1 252.12,343.0 252.20,343.5 252.28,341.4 252.36,343.3 252.44,341.1 252.52,342.7 252.60,341.2 252.68,342.3 252.76,340.2 252.84,341.7 252.92,339.6 253.00,342.1 253.08,339.7 253.16,341.3 253.24,339.9 253.32,340.4 253.40,338.6 253.48,340.7 253.56,338.4 253.64,339.8 253.72,337.2 253.80,338.3 253.88,336.8 253.96,337.8 254.04,334.9 254.12,336.2 254.20,333.9 254.28,335.0 254.36,332.9 254.44,333.7 254.52,331.2 254.60,332.1 254.68,330.1 254.76,331.2 254.84,328.3 254.92,329.9 255.00,326.5 255.08,328.0 255.16,325.6 255.24,326.4 255.32,324.1 255.40,324.8 255.48,322.8 255.56,323.4 255.64,321.6 255.72,322.4 255.80,319.0 255.88,320.3 255.96,317.9 256.04,318.3 256.12,315.7 256.20,316.3 256.28,312.9 256.36,313.4 256.44,310.4 256.52,311.8 256.60,308.2 256.68,308.4 256.76,303.6 256.84,303.6 256.92,300.0 257.00,299.1 257.08,293.3 257.16,292.0 257.24,287.4 257.32,284.8 257.40,279.3 257.48,277.7 257.56,272.2 257.64,270.0 257.72,263.3 257.80,261.2 257.88,255.8 257.96,254.6 258.04,248.8 258.12,247.1 258.20,241.4 258.28,241.0 258.36,236.0 258.44,234.5 258.52,230.8 258.60,229.9 258.68,225.6 258.70,225.2 258.76,229.0 258.84,235.9 258.92,239.0 259.00,246.8 259.08,250.0 259.16,257.4 259.24,261.0 259.32,268.9 259.40,272.6 259.48,278.9 259.56,283.1 259.64,289.7 259.72,293.0 259.80,300.6 259.88,303.4 259.96,310.3 260.04,313.6 260.12,319.3 260.20,321.8 260.28,328.5 260.36,331.0 260.44,337.0 260.52,339.4 260.60,343.8 260.68,344.5 260.76,348.5 260.84,349.1 260.92,352.9 261.00,352.4 261.08,355.1 261.16,349.1 261.24,342.5 261.32,331.7 261.40,325.1 261.48,323.1 261.56,325.9 261.64,323.9 261.72,325.8 261.80,323.8 261.88,325.9 261.96,323.5 262.04,326.2 262.12,323.4 262.20,326.0 262.28,323.8 262.36,326.0 262.44,324.0 262.52,326.2 262.60,323.4 262.68,325.5 262.76,324.9 262.84,326.8 262.92,325.2 263.00,327.1 263.08,325.0 263.16,327.3 263.24,325.2 263.32,327.9 263.40,325.6 263.48,327.1 263.56,325.7 263.64,326.4 263.72,324.7 263.80,326.9 263.88,324.4 263.96,326.7 264.04,324.8 264.12,326.8 264.20,324.9 264.28,327.8 264.36,325.9 264.44,328.1 264.52,325.3 264.60,327.8 264.68,325.0 264.76,327.3 264.84,325.2 264.92,326.9 265.00,325.1 265.08,327.8 265.16,325.7 265.24,327.3 265.32,326.0 265.40,327.2 265.48,326.3 265.56,327.6 265.64,326.1 265.72,327.2 265.80,325.8 265.88,326.9 265.96,324.9 266.04,326.5 266.12,325.2 266.20,327.3 266.28,326.1 266.36,327.7 266.44,325.3 266.52,328.4 266.60,325.9 266.68,328.3 266.76,326.4 266.84,328.4 266.92,326.8 267.00,328.1 267.08,325.2 267.16,327.7 267.24,325.5 267.32,326.2 267.40,324.0 267.48,326.4 267.56,324.2 267.64,326.1 267.72,324.3 267.80,326.4 267.88,324.3 267.96,325.6 268.04,324.1 268.12,325.9 268.20,324.8 268.28,326.1 268.36,323.8 268.44,325.1 268.52,323.5 268.60,326.1 268.68,323.8 268.76,325.6 268.84,323.9 268.92,325.5 269.00,322.9 269.08,324.7 269.16,322.4 269.24,324.8 269.32,321.5 269.40,323.6 269.48,321.5 269.56,323.4 269.64,320.7 269.72,323.3 269.80,320.8 269.88,322.8 269.96,320.5 270.04,322.6 270.12,321.1 270.20,322.5 270.28,321.4 270.36,323.4 270.44,321.9 270.52,322.7 270.60,321.4 270.68,323.6 270.76,321.7 270.84,322.8 270.92,320.8 271.00,323.3 271.08,321.0 271.16,323.5 271.24,321.8 271.32,323.4 271.40,320.9 271.48,322.9 271.56,320.4 271.64,321.9 271.72,320.9 271.80,322.4 271.88,320.1 271.96,321.8 272.04,320.7 272.12,322.1 272.20,320.3 272.28,322.0 272.36,320.3 272.44,322.3 272.52,320.4 272.60,321.9 272.68,320.4 272.76,322.2 272.84,319.8 272.92,321.4 273.00,320.1 273.08,323.2 273.16,321.8 273.24,324.2 273.32,325.3 273.40,338.7 273.48,347.6 273.56,351.7 273.64,349.8 273.72,351.1 273.80,348.8 273.88,350.1 273.96,347.7 274.04,349.1 274.12,347.6 274.20,348.7 274.28,346.9 274.36,348.7 274.44,347.0 274.52,348.7 274.60,347.3 274.68,349.5 274.76,347.1 274.84,349.2 274.92,347.6 275.00,349.7 275.08,347.6 275.16,348.5 275.24,347.1 275.32,348.3 275.40,347.1 275.48,348.6 275.56,346.1 275.64,347.4 275.72,345.6 275.80,347.1 275.88,344.9 275.96,346.4 276.04,343.6 276.12,346.0 276.20,342.6 276.28,344.6 276.36,341.6 276.44,343.0 276.52,340.4 276.60,341.3 276.68,338.6 276.76,339.7 276.84,338.8 276.92,340.1 277.00,338.2 277.08,340.0 277.16,337.5 277.24,339.8 277.32,337.7 277.40,340.4 277.48,338.4 277.56,340.6 277.64,337.9 277.72,340.3 277.80,339.2 277.88,341.3 277.96,340.3 278.04,342.1 278.12,340.1 278.20,342.5 278.28,341.9 278.36,344.6 278.44,343.0 278.52,344.2 278.60,343.0 278.68,345.5 278.76,343.8 278.84,345.3 278.92,344.5 279.00,346.4 279.08,343.9 279.16,345.3 279.24,343.6 279.32,345.8 279.40,343.7 279.48,346.1 279.56,345.0 279.64,346.4 279.72,345.8 279.80,347.8 279.88,344.7 279.96,347.8 280.04,346.0 280.12,347.9 280.20,346.7 280.28,318.3 280.36,285.3 280.44,257.7 280.52,225.4 280.60,198.3 280.68,165.6 280.76,137.7 280.84,105.9 280.90,85.0 280.92,93.4 281.00,133.9 281.08,170.6 281.16,210.1 281.24,246.9 281.32,288.1 281.40,324.0 281.48,364.2 281.50,372.8 281.56,371.4 281.64,364.9 281.72,363.1 281.80,357.6 281.88,355.1 281.96,348.1 282.04,346.3 282.12,339.1 282.20,337.4 282.28,335.4 282.36,336.9 282.44,333.6 282.52,335.2 282.60,332.6 282.68,333.8 282.76,332.0 282.84,333.7 282.92,330.9 283.00,332.5 283.08,330.2 283.16,331.8 283.24,329.8 283.32,331.5 283.40,329.1 283.48,329.9 283.56,328.3 283.64,329.2 283.72,326.9 283.80,327.7 283.88,325.3 283.96,326.6 284.04,324.5 284.12,326.1 284.20,324.0 284.28,324.9 284.36,322.6 284.44,324.4 284.52,321.9 284.60,324.2 284.68,322.1 284.76,323.5 284.84,320.7 284.92,322.3 285.00,320.0 285.08,320.7 285.16,317.7 285.24,319.3 285.32,316.2 285.40,317.5 285.48,315.0 285.56,316.8 285.64,314.1 285.72,315.9 285.80,313.2 285.88,315.1 285.96,311.7 286.04,313.7 286.12,310.8 286.20,311.6 286.28,309.5 286.36,310.7 286.44,307.4 286.52,308.8 286.60,306.3 286.68,307.8 286.76,305.8 286.84,306.7 286.92,304.0 287.00,305.5 287.08,303.3 287.16,303.9 287.24,300.9 287.32,301.6 287.40,298.8 287.48,299.2 287.56,296.3 287.64,297.1 287.72,292.3 287.80,292.0 287.88,288.0 287.96,286.9 288.04,282.5 288.12,282.4 288.20,276.6 288.28,276.1 288.36,270.0 288.44,268.5 288.52,262.9 288.60,261.0 288.68,255.3 288.76,252.8 288.84,247.6 288.92,245.7 289.00,241.3 289.08,239.1 289.16,233.9 289.24,232.3 289.32,226.9 289.40,225.9 289.48,220.9 289.56,220.7 289.64,215.8 289.72,214.5 289.80,210.7 289.80,211.1 289.88,216.0 289.96,220.7 290.04,223.7 290.12,232.2 290.20,235.1 290.28,242.5 290.36,245.9 290.44,253.7 290.52,257.3 290.60,263.8 290.68,267.3 290.76,275.0 290.84,278.6 290.92,285.4 291.00,288.4 291.08,295.7 291.16,298.0 291.24,305.0 291.32,306.6 291.40,313.2 291.48,315.9 291.56,319.6 291.64,320.9 291.72,326.0 291.80,325.8 291.88,330.4 291.96,330.5 292.04,333.6 292.12,332.1 292.20,335.6 292.28,333.9 292.36,337.0 292.44,335.5 292.52,338.2 292.60,336.2 292.68,338.9 292.76,337.7 292.84,339.0 292.92,338.8 293.00,341.1 293.08,339.3 293.16,340.9 293.24,339.8 293.32,341.6 293.40,340.0 293.48,342.2 293.56,339.7 293.64,342.6 293.72,340.0 293.80,342.2 293.88,341.4 293.96,343.5 294.04,341.7 294.12,343.1 294.20,341.5 294.28,343.6 294.36,341.5 294.44,342.8 294.52,340.6 294.60,342.4 294.68,339.3 294.76,340.8 294.84,338.9 294.92,340.5 295.00,338.5 295.08,340.9 295.16,338.3 295.24,341.0 295.32,338.8 295.40,340.4 295.48,338.7 295.56,340.6 295.64,339.2 295.72,341.1 295.80,338.8 295.88,340.9 295.96,338.3 296.04,340.4 296.12,338.1 296.20,341.0 296.28,338.5 296.36,340.7 296.44,337.9 296.52,339.8 296.60,338.4 296.68,340.1 296.76,338.0 296.84,340.0 296.92,338.1 297.00,339.6 297.08,338.2 297.16,339.7 297.24,339.5 297.32,341.1 297.40,339.4 297.48,341.4 297.56,339.5 297.64,342.3 297.72,340.4 297.80,343.3 297.88,341.0 297.96,343.0 298.04,341.8 298.12,344.0 298.20,341.8 298.28,343.8 298.36,341.9 298.44,342.9 298.52,341.1 298.60,343.2 298.68,341.2 298.76,343.3 298.84,341.3 298.92,343.7 299.00,341.5 299.08,343.1 299.16,341.9 299.24,343.5 299.32,341.3 299.40,343.3 299.48,341.5 299.56,342.8 299.64,341.5 299.72,342.9 299.80,340.4 299.88,342.4 299.96,340.3 300.04,342.0 300.12,340.2 300.20,341.5 300.28,339.3 300.36,341.1 300.44,339.1 300.52,341.6 300.60,339.8 300.68,340.8 300.76,339.8 300.84,341.3 300.92,340.1 301.00,341.8 301.08,339.8 301.16,341.5 301.24,339.7 301.32,340.3 301.40,338.6 301.48,340.1 301.56,338.3 301.64,340.2 301.72,338.1 301.80,339.4 301.88,337.8 301.96,339.8 302.04,337.7 302.12,340.2 302.20,338.8 302.28,339.9 302.36,337.8 302.44,340.2 302.52,338.7 302.60,340.5 302.68,338.0 302.76,340.1 302.84,338.0 302.92,338.9 303.00,336.8 303.08,337.2 303.16,334.5 303.24,336.1 303.32,334.1 303.40,335.3 303.48,331.5 303.56,333.9 303.64,331.2 303.72,331.8 303.80,330.0 303.88,331.0 303.96,328.2 304.04,330.9 304.12,327.2 304.20,329.0 304.28,327.1 304.36,327.9 304.44,326.5 304.52,327.4 304.60,326.5 304.68,328.1 304.76,327.1 304.84,328.8 304.92,328.4 305.00,330.3 305.08,330.1 305.16,332.2 305.24,330.3 305.32,333.4 305.40,331.8 305.48,334.7 305.56,333.3 305.64,335.7 305.72,334.3 305.80,335.4 305.88,334.0 305.96,336.2 306.04,335.2 306.12,336.8 306.20,335.0 306.28,337.2 306.36,334.8 306.44,336.7 306.52,334.5 306.60,336.9 306.68,334.7 306.76,336.5 306.84,334.2 306.92,337.1 307.00,335.2 307.08,338.0 307.16,335.6 307.24,338.7 307.32,337.7 307.40,340.9 307.48,307.7 307.56,278.2 307.64,245.3 307.72,215.9 307.80,182.5 307.88,153.8 307.96,120.0 308.04,91.2 308.10,67.2 308.12,77.7 308.20,115.6 308.28,157.8 308.36,196.0 308.44,238.0 308.52,276.9 308.60,317.9 308.68,356.7 308.70,368.6 308.76,363.1 308.84,362.1 308.92,356.6 309.00,353.7 309.08,349.4 309.16,347.5 309.24,341.8 309.32,340.1 309.40,334.6 309.48,335.6 309.56,333.9 309.64,335.4 309.72,333.7 309.80,335.2 309.88,332.0 309.96,333.3 310.04,331.6 310.12,332.3 310.20,328.5 310.28,328.8 310.36,326.2 310.44,326.8 310.52,323.5 310.60,325.0 310.68,321.9 310.76,323.6 310.84,321.0 310.92,322.4 311.00,320.2 311.08,322.0 311.16,319.4 311.24,320.5 311.32,318.0 311.40,319.9 311.48,317.4 311.56,318.9 311.64,315.3 311.72,317.0 311.80,314.9 311.88,315.7 311.96,312.9 312.04,314.0 312.12,312.0 312.20,313.4 312.28,311.5 312.36,311.6 312.44,310.0 312.52,311.5 312.60,308.5 312.68,309.4 312.76,307.6 312.84,308.7 312.92,305.6 313.00,306.3 313.08,303.2 313.16,305.1 313.24,301.4 313.32,302.9 313.40,300.0 313.48,300.0 313.56,297.7 313.64,298.9 313.72,296.0 313.80,296.4 313.88,292.9 313.96,293.3 314.04,289.9 314.12,289.6 314.20,286.1 314.28,284.6 314.36,279.6 314.44,278.7 314.52,273.4 314.60,272.4 314.68,266.8 314.76,265.1 314.84,258.9 314.92,256.8 315.00,251.2 315.08,249.9 315.16,244.7 315.24,242.7 315.32,237.1 315.40,235.1 315.48,229.7 315.56,227.4 315.64,223.2 315.72,221.8 315.80,215.9 315.88,216.0 315.96,210.8 316.04,208.8 316.10,206.3 316.12,208.3 316.20,214.3 316.28,223.4 316.36,227.6 316.44,236.4 316.52,241.0 316.60,249.7 316.68,254.6 316.76,263.8 316.84,267.4 316.92,276.9 317.00,279.6 317.08,287.1 317.16,291.4 317.24,299.2 317.32,302.4 317.40,309.4 317.48,312.3 317.56,317.5 317.64,319.7 317.72,324.1 317.80,325.7 317.88,329.9 317.96,330.1 318.04,333.8 318.12,333.9 318.20,337.0 318.28,335.3 318.36,337.1 318.44,336.5 318.52,338.5 318.60,337.6 318.68,339.2 318.76,337.8 318.84,340.3 318.92,339.0 319.00,341.4 319.08,339.3 319.16,341.5 319.24,340.8 319.32,342.7 319.40,340.6 319.48,342.5 319.56,341.2 319.64,342.4 319.72,340.9 319.80,342.8 319.88,341.6 319.96,343.5 320.04,340.4 320.12,342.0 320.20,340.2 320.28,342.5 320.36,340.8 320.44,343.0 320.52,341.8 320.60,344.2 320.68,342.2 320.76,344.7 320.84,343.3 320.92,344.8 321.00,343.5 321.08,345.0 321.16,343.0 321.24,346.1 321.32,344.2 321.40,345.5 321.48,343.2 321.56,345.0 321.64,343.2 321.72,346.2 321.80,344.5 321.88,346.4 321.96,344.4 322.04,345.4 322.12,343.9 322.20,345.7 322.28,344.9 322.36,346.1 322.44,343.7 322.52,345.5 322.60,344.1 322.68,347.3 322.76,344.3 322.84,347.1 322.92,345.1 323.00,347.0 323.08,345.3 323.16,347.8 323.24,346.2 323.32,348.0 323.40,346.5 323.48,347.3 323.56,346.1 323.64,348.3 323.72,345.7 323.80,347.5 323.88,345.5 323.96,347.2 324.04,345.4 324.12,348.0 324.20,346.3 324.28,348.3 324.36,346.3 324.44,348.0 324.52,347.6 324.60,348.9 324.68,347.3 324.76,348.9 324.84,347.3 324.92,348.9 325.00,346.9 325.08,349.3 325.16,347.7 325.24,349.0 325.32,347.0 325.40,349.4 325.48,347.4 325.56,350.3 325.64,348.6 325.72,350.6 325.80,348.2 325.88,349.8 325.96,348.5 326.04,350.6 326.12,348.5 326.20,351.1 326.28,349.4 326.36,351.2 326.44,349.0 326.52,351.2 326.60,349.3 326.68,351.3 326.76,348.5 326.84,350.4 326.92,349.0 327.00,350.2 327.08,348.9 327.16,350.4 327.24,348.4 327.32,350.8 327.40,349.2 327.48,351.6 327.56,350.2 327.64,351.5 327.72,349.3 327.80,351.4 327.88,350.3 327.96,351.8 328.04,350.4 328.12,352.2 328.20,351.2 328.28,353.0 328.36,350.9 328.44,353.3 328.52,351.6 328.60,353.3 328.68,352.4 328.76,353.8 328.84,351.6 328.92,353.6 329.00,351.2 329.08,352.9 329.16,351.2 329.24,353.8 329.32,351.4 329.40,353.9 329.48,351.9 329.56,353.8 329.64,352.2 329.72,354.1 329.80,351.6 329.88,354.6 329.96,352.6 330.04,353.9 330.12,352.5 330.20,354.7 330.28,353.1 330.36,355.0 330.44,352.2 330.52,354.8 330.60,352.7 330.68,354.3 330.76,352.7 330.84,355.6 330.92,353.6 331.00,355.4 331.08,353.5 331.16,355.0 331.24,353.6 331.32,355.6 331.40,353.9 331.48,355.7 331.56,353.9 331.64,355.2 331.72,353.9 331.80,355.7 331.88,353.9 331.96,355.1 332.04,352.8 332.12,355.0 332.20,353.0 332.28,354.3 332.36,340.5 332.44,326.9 332.52,313.0 332.60,314.9 332.68,313.2 332.76,314.0 332.84,311.8 332.92,313.7 333.00,311.1 333.08,313.3 333.16,310.9 333.24,312.7 333.32,310.6 333.40,313.5 333.48,312.8 333.56,314.8 333.64,313.7 333.72,317.2 333.80,315.8 333.88,318.2 333.96,316.7 334.04,319.8 334.12,318.9 334.20,321.4 334.28,320.4 334.36,321.7 334.44,320.4 334.52,322.2 334.60,319.6 334.68,321.4 334.76,319.4 334.84,322.1 334.92,320.2 335.00,321.4 335.08,319.5 335.16,321.7 335.24,320.1 335.32,322.3 335.40,320.5 335.48,322.2 335.56,320.5 335.64,312.9 335.72,291.3 335.80,274.4 335.88,253.2 335.96,236.3 336.04,215.3 336.12,198.0 336.20,176.5 336.28,160.0 336.36,138.0 336.44,121.0 336.52,100.2 336.60,82.6 336.68,60.6 336.70,56.6 336.76,85.9 336.84,126.1 336.92,163.8 337.00,204.6 337.08,243.6 337.16,284.2 337.24,321.5 337.30,353.0 337.32,349.7 337.40,348.2 337.48,341.8 337.56,339.5 337.64,333.3 337.72,331.2 337.80,325.0 337.88,325.7 337.96,324.1 338.04,325.7 338.12,323.8 338.20,325.1 338.28,322.5 338.36,323.4 338.44,321.2 338.52,322.7 338.60,320.7 338.68,321.5 338.76,319.0 338.84,319.9 338.92,317.6 339.00,320.0 339.08,317.3 339.16,319.2 339.24,316.8 339.32,317.4 339.40,315.2 339.48,317.0 339.56,315.1 339.64,316.4 339.72,313.3 339.80,315.0 339.88,313.2 339.96,313.7 340.04,312.5 340.12,313.3 340.20,312.0 340.28,312.7 340.36,310.5 340.44,311.5 340.52,309.8 340.60,311.5 340.68,308.9 340.76,310.9 340.84,307.8 340.92,309.3 341.00,306.9 341.08,308.2 341.16,306.0 341.24,307.5 341.32,304.8 341.40,305.8 341.48,303.3 341.56,304.4 341.64,302.6 341.72,304.4 341.80,301.6 341.88,302.5 341.96,300.0 342.04,301.4 342.12,299.2 342.20,299.9 342.28,296.8 342.36,298.3 342.44,294.3 342.52,295.6 342.60,292.5 342.68,292.6 342.76,289.9 342.84,291.4 342.92,288.1 343.00,288.6 343.08,286.2 343.16,286.0 343.24,283.9 343.32,284.9 343.40,281.9 343.48,282.8 343.56,280.8 343.64,280.0 343.72,276.6 343.80,274.7 343.88,269.9 343.96,269.9 344.04,265.7 344.12,264.4 344.20,259.7 344.28,259.7 344.36,254.4 344.44,253.7 344.52,249.3 344.60,249.0 344.68,244.4 344.76,243.1 344.84,236.6 344.92,234.4 345.00,227.4 345.08,225.0 345.16,219.0 345.24,216.5 345.32,210.9 345.40,208.5 345.48,202.0 345.56,199.2 345.60,196.7 345.64,200.2 345.72,205.4 345.80,214.0 345.88,218.2 345.96,225.5 346.04,230.2 346.12,238.3 346.20,241.3 346.28,249.1 346.36,253.2 346.44,262.1 346.52,265.9 346.60,271.5 346.68,274.1 346.76,280.4 346.84,282.5 346.92,289.3 347.00,292.0 347.08,298.1 347.16,300.8 347.24,306.6 347.32,309.9 347.40,315.4 347.48,318.2 347.56,320.7 347.64,318.9 347.72,321.8 347.80,319.7 347.88,321.9 347.96,319.7 348.04,322.0 348.12,320.5 348.20,322.4 348.28,321.1 348.36,323.2 348.44,322.8 348.52,324.4 348.60,322.7 348.68,325.3 348.76,323.2 348.84,325.6 348.92,322.7 349.00,325.1 349.08,322.9 349.16,324.9 349.24,323.8 349.32,325.7 349.40,324.1 349.48,325.7 349.56,324.1 349.64,325.9 349.72,324.8 349.80,326.7 349.88,324.8 349.96,326.9 350.04,324.9 350.12,327.9 350.20,325.8 350.28,328.0 350.36,326.0 350.44,327.5 350.52,325.6 350.60,328.0 350.68,326.3 350.76,328.1 350.84,326.2 350.92,326.9 351.00,325.7 351.08,327.3 351.16,326.0 351.24,328.0 351.32,326.5 351.40,328.8 351.48,325.9 351.56,328.3 351.64,326.9 351.72,329.0 351.80,327.4 351.88,328.9 351.96,326.8 352.04,328.2 352.12,326.5 352.20,328.9 352.28,326.8 352.36,328.4 352.44,326.9 352.52,328.2 352.60,326.4 352.68,328.8 352.76,326.4 352.84,328.7 352.92,326.5 353.00,328.4 353.08,327.7 353.16,329.2 353.24,327.1 353.32,329.6 353.40,327.8 353.48,330.7 353.56,329.1 353.64,331.4 353.72,329.1 353.80,330.3 353.88,328.5 353.96,330.6 354.04,328.1 354.12,330.0 354.20,328.7 354.28,330.2 354.36,328.6 354.44,330.1 354.52,328.8 354.60,330.9 354.68,329.7 354.76,331.1 354.84,330.1 354.92,332.2 355.00,330.2 355.08,331.7 355.16,329.6 355.24,331.9 355.32,329.1 355.40,330.8 355.48,329.4 355.56,332.1 355.64,329.3 355.72,331.6 355.80,330.1 355.88,331.1 355.96,330.0 356.04,332.5 356.12,330.9 356.20,332.2 356.28,330.7 356.36,332.7 356.44,331.4 356.52,333.6 356.60,331.2 356.68,334.1 356.76,331.7 356.84,333.9 356.92,330.8 357.00,332.3 357.08,330.8 357.16,332.2 357.24,330.0 357.32,331.6 357.40,329.4 357.48,331.4 357.56,329.3 357.64,331.4 357.72,329.1 357.80,332.0 357.88,329.9 357.96,331.7 358.04,330.0 358.12,330.9 358.20,329.4 358.28,331.9 358.36,329.3 358.44,331.1 358.52,328.8 358.60,331.1 358.68,328.7 358.76,330.4 358.84,327.8 358.92,330.0 359.00,327.4 359.08,330.1 359.16,327.7 359.24,330.2 359.32,327.0 359.40,329.9 359.48,327.0 359.56,328.5 359.64,326.8 359.72,329.5 359.80,326.7 359.88,327.9 359.96,326.8 360.04,327.7 360.12,325.8 360.20,328.2 360.28,326.5 360.36,328.1 360.44,326.0 360.52,327.1 360.60,326.3 360.68,327.4 360.76,325.5 360.84,327.8 360.92,325.5 361.00,327.2 361.08,324.8 361.16,326.5 361.24,324.3 361.32,326.1 361.40,323.3 361.48,326.1 361.56,322.5 361.64,324.2 361.72,322.8 361.80,324.6 361.88,321.6 361.96,323.4 362.04,321.8 362.12,323.5 362.20,321.9 362.28,323.0 362.36,322.6 362.44,323.9 362.52,321.6 362.60,323.6 362.68,321.2 362.76,322.9 362.84,321.2 362.92,323.4 363.00,319.9 363.08,321.9 363.16,318.7 363.24,319.8 363.32,317.5 363.40,319.0 363.48,316.3 363.56,317.9 363.64,314.9 363.72,317.5 363.80,315.4 363.88,317.9 363.96,316.3 364.04,318.6 364.12,317.2 364.20,319.9 364.28,331.0 364.36,347.0 364.44,354.6 364.52,355.8 364.60,354.4 364.68,357.4 364.76,355.4 364.84,357.4 364.92,355.9 365.00,357.3 365.08,355.3 365.16,357.0 365.24,354.8 365.32,357.9 365.40,356.2 365.48,358.3 365.56,356.5 365.64,358.0 365.72,357.1 365.80,359.5 365.88,357.9 365.96,336.9 366.04,303.5 366.12,272.2 366.20,238.8 366.28,209.2 366.36,175.3 366.44,145.8 366.52,111.5 366.60,81.9 366.60,80.8 366.68,122.0 366.76,160.6 366.84,202.7 366.92,241.6 367.00,283.5 367.08,321.4 367.16,363.5 367.20,382.5 367.24,381.6 367.32,375.5 367.40,373.2 367.48,366.8 367.56,364.0 367.64,357.8 367.72,354.7 367.80,348.9 367.88,345.6 367.96,342.6 368.04,344.3 368.12,341.8 368.20,342.5 368.28,340.1 368.36,341.5 368.44,340.2 368.52,341.3 368.60,339.1 368.68,340.3 368.76,338.0 368.84,340.3 368.92,336.8 369.00,339.0 369.08,336.7 369.16,338.9 369.24,336.1 369.32,338.3 369.40,335.9 369.48,337.3 369.56,335.0 369.64,335.9 369.72,334.4 369.80,336.0 369.88,333.4 369.96,334.9 370.04,332.6 370.12,333.4 370.20,331.7 370.28,333.4 370.36,331.2 370.44,332.9 370.52,330.3 370.60,331.7 370.68,329.0 370.76,330.5 370.84,328.5 370.92,329.6 371.00,327.4 371.08,327.8 371.16,325.7 371.24,327.1 371.32,325.2 371.40,325.9 371.48,323.3 371.56,324.7 371.64,322.9 371.72,323.0 371.80,321.1 371.88,322.4 371.96,320.2 372.04,321.7 372.12,319.2 372.20,320.3 372.28,317.6 372.36,318.2 372.44,315.6 372.52,316.8 372.60,314.4 372.68,315.2 372.76,312.7 372.84,312.7 372.92,310.8 373.00,312.3 373.08,309.2 373.16,309.7 373.24,307.1 373.32,308.4 373.40,305.3 373.48,306.2 373.56,302.4 373.64,303.3 373.72,300.1 373.80,300.1 373.88,296.3 373.96,295.4 374.04,291.7 374.12,289.9 374.20,284.3 374.28,284.0 374.36,278.0 374.44,276.6 374.52,271.0 374.60,269.4 374.68,262.6 374.76,261.5 374.84,255.6 374.92,254.6 375.00,249.2 375.08,246.8 375.16,242.6 375.24,241.0 375.32,234.3 375.40,234.3 375.48,230.2 375.56,228.8 375.64,224.5 375.72,224.0 375.80,219.7 375.80,219.9 375.88,225.2 375.96,233.0 376.04,236.8 376.12,243.4 376.20,247.4 376.28,254.3 376.36,257.9 376.44,264.9 376.52,268.0 376.60,275.2 376.68,278.6 376.76,285.8 376.84,288.4 376.92,295.6 377.00,298.5 377.08,304.5 377.16,307.8 377.24,314.7 377.32,316.8 377.40,323.1 377.48,325.3 377.56,330.9 377.64,331.9 377.72,336.2 377.80,336.1 377.88,340.6 377.96,339.4 378.04,342.7 378.12,341.9 378.20,345.0 378.28,343.0 378.36,345.4 378.44,344.5 378.52,347.1 378.60,344.8 378.68,347.2 378.76,345.4 378.84,347.5 378.92,345.1 379.00,347.8 379.08,346.1 379.16,348.4 379.24,345.8 379.32,348.0 379.40,346.9 379.48,349.0 379.56,347.0 379.64,349.9 379.72,348.3 379.80,349.5 379.88,347.7 379.96,350.3 380.04,348.7 380.12,350.1 380.20,348.0 380.28,350.0 380.36,347.6 380.44,348.6 380.52,346.8 380.60,348.4 380.68,346.5 380.76,347.9 380.84,346.7 380.92,348.3 381.00,347.2 381.08,349.2 381.16,347.6 381.24,349.2 381.32,346.6 381.40,348.9 381.48,347.3 381.56,349.1 381.64,347.3 381.72,348.0 381.80,346.1 381.88,348.0 381.96,346.2 382.04,347.8 382.12,345.8 382.20,347.8 382.28,346.3 382.36,348.2 382.44,346.1 382.52,347.8 382.60,346.3 382.68,347.7 382.76,345.7 382.84,348.1 382.92,345.4 383.00,347.7 383.08,345.5 383.16,347.5 383.24,345.5 383.32,347.4 383.40,345.2 383.48,347.1 383.56,344.9 383.64,347.2 383.72,344.8 383.80,347.4 383.88,345.9 383.96,347.3 384.04,345.3 384.12,346.5 384.20,344.9 384.28,347.7 384.36,345.7 384.44,346.4 384.52,345.2 384.60,346.7 384.68,345.0 384.76,346.4 384.84,344.1 384.92,346.5 385.00,344.3 385.08,345.2 385.16,344.1 385.24,346.4 385.32,344.0 385.40,346.3 385.48,343.8 385.56,345.5 385.64,343.1 385.72,344.9 385.80,343.7 385.88,345.3 385.96,343.6 386.04,344.5 386.12,343.4 386.20,344.6 386.28,342.9 386.36,344.3 386.44,342.9 386.52,344.1 386.60,342.2 386.68,343.3 386.76,341.6 386.84,344.3 386.92,342.1 387.00,343.8 387.08,342.9 387.16,344.0 387.24,341.9 387.32,344.2 387.40,342.1 387.48,344.3 387.56,342.6 387.64,343.4 387.72,341.3 387.80,343.0 387.88,340.8 387.96,342.3 388.04,340.2 388.12,342.0 388.20,339.7 388.28,341.6 388.36,339.7 388.44,341.5 388.52,339.5 388.60,340.8 388.68,339.0 388.76,340.0 388.84,337.8 388.92,340.5 389.00,339.0 389.08,341.4 389.16,338.5 389.24,340.2 389.32,337.6 389.40,339.2 389.48,337.5 389.56,339.0 389.64,337.2 389.72,338.1 389.80,335.2 389.88,336.1 389.96,333.5 390.04,335.3 390.12,333.0 390.20,333.5 390.28,331.7 390.36,332.9 390.44,331.3 390.52,333.1 390.60,330.5 390.68,332.8 390.76,329.8 390.84,332.9 390.92,330.8 391.00,333.4 391.08,330.7 391.16,333.0 391.24,331.0 391.32,333.3 391.40,331.8 391.48,334.3 391.56,332.6 391.64,335.3 391.72,333.0 391.80,335.7 391.88,335.5 391.96,336.9 392.04,335.7 392.12,337.7 392.20,337.3 392.28,338.5 392.36,336.8 392.44,338.7 392.52,337.2 392.60,339.2 392.68,336.7 392.76,339.0 392.84,337.0 392.92,338.8 393.00,337.3 393.08,338.9 393.16,337.4 393.24,339.1 393.32,337.8 393.40,339.3 393.48,338.1 393.56,340.0 393.64,338.0 393.72,339.5 393.80,338.5 393.88,340.2 393.96,316.3 394.04,287.9 394.12,256.0 394.20,227.2 394.28,195.8 394.36,168.7 394.44,136.9 394.52,109.2 394.60,77.8 394.60,79.3 394.68,116.2 394.76,156.0 394.84,192.7 394.92,233.3 395.00,269.5 395.08,308.1 395.16,344.8 395.20,364.6 395.24,361.6 395.32,360.5 395.40,354.8 395.48,353.0 395.56,346.6 395.64,344.1 395.72,338.1 395.80,336.6 395.88,330.1 395.96,329.9 396.04,327.8 396.12,328.4 396.20,326.7 396.28,327.7 396.36,324.9 396.44,326.5 396.52,325.2 396.60,326.4 396.68,323.9 396.76,325.0 396.84,323.0 396.92,323.9 397.00,322.1 397.08,323.5 397.16,321.8 397.24,323.3 397.32,321.3 397.40,322.7 397.48,321.4 397.56,322.2 397.64,320.9 397.72,321.9 397.80,320.3 397.88,321.6 397.96,318.8 398.04,320.6 398.12,317.7 398.20,319.4 398.28,317.0 398.36,319.0 398.44,315.7 398.52,316.9 398.60,315.3 398.68,315.6 398.76,313.9 398.84,314.9 398.92,312.7 399.00,313.7 399.08,311.1 399.16,312.5 399.24,310.7 399.32,312.2 399.40,309.6 399.48,311.1 399.56,308.7 399.64,309.8 399.72,308.4 399.80,308.3 399.88,306.4 399.96,307.4 400.04,305.8 400.12,306.4 400.20,303.8 400.28,305.4 400.36,302.6 400.44,303.4 400.52,300.6 400.60,302.9 400.68,299.8 400.76,300.6 400.84,298.4 400.92,300.0 401.00,297.1 401.08,298.3 401.16,295.4 401.24,296.6 401.32,294.0 401.40,294.7 401.48,290.6 401.56,291.3 401.64,288.8 401.72,288.2 401.80,285.2 401.88,284.8 401.96,281.6 402.04,281.4 402.12,277.8 402.20,276.2 402.28,271.2 402.36,269.4 402.44,264.6 402.52,262.6 402.60,257.2 402.68,254.6 402.76,249.3 402.84,246.8 402.92,241.6 403.00,239.5 403.08,235.6 403.16,234.8 403.24,228.7 403.32,227.5 403.40,222.3 403.48,222.2 403.56,217.9 403.64,216.2 403.72,212.2 403.80,211.5 403.88,207.7 403.90,207.2 403.96,211.2 404.04,218.9 404.12,222.4 404.20,229.6 404.28,233.8 404.36,241.0 404.44,245.0 404.52,253.5 404.60,257.3 404.68,264.0 404.76,268.1 404.84,274.5 404.92,278.3 405.00,286.1 405.08,289.4 405.16,296.0 405.24,298.1 405.32,305.0 405.40,307.2 405.48,314.0 405.56,315.4 405.64,320.4 405.72,321.9 405.80,325.4 405.88,325.3 405.96,329.8 406.04,329.9 406.12,332.2 406.20,331.3 406.28,334.0 406.36,332.0 406.44,334.8 406.52,332.4 406.60,334.6 406.68,333.7 406.76,336.0 406.84,334.0 406.92,336.4 407.00,335.3 407.08,336.9 407.16,336.0 407.24,337.5 407.32,336.4 407.40,338.0 407.48,336.6 407.56,338.6 407.64,335.5 407.72,337.7 407.80,336.7 407.88,338.8 407.96,337.0 408.04,338.8 408.12,337.2 408.20,338.5 408.28,337.0 408.36,339.5 408.44,337.5 408.52,338.7 408.60,336.6 408.68,338.3 408.76,336.1 408.84,338.3 408.92,337.0 409.00,338.6 409.08,336.3 409.16,338.1 409.24,336.2 409.32,337.2 409.40,335.4 409.48,337.7 409.56,335.8 409.64,337.4 409.72,336.1 409.80,338.5 409.88,336.4 409.96,337.8 410.04,336.9 410.12,339.4 410.20,337.5 410.28,338.9 410.36,336.6 410.44,339.5 410.52,337.2 410.60,339.9 410.68,338.0 410.76,340.5 410.84,338.4 410.92,339.9 411.00,338.7 411.08,340.3 411.16,339.4 411.24,341.1 411.32,339.0 411.40,340.8 411.48,339.2 411.56,341.4 411.64,339.6 411.72,341.1 411.80,340.0 411.88,342.3 411.96,339.9 412.04,341.7 412.12,339.9 412.20,341.9 412.28,339.9 412.36,342.1 412.44,341.2 412.52,342.5 412.60,341.1 412.68,343.3 412.76,342.4 412.84,344.1 412.92,342.6 413.00,344.5 413.08,342.6 413.16,343.7 413.24,342.5 413.32,344.2 413.40,342.7 413.48,344.0 413.56,341.9 413.64,344.1 413.72,341.9 413.80,343.7 413.88,342.2 413.96,344.4 414.04,341.8 414.12,343.6 414.20,340.3 414.28,342.1 414.36,340.6 414.44,341.5 414.52,339.6 414.60,341.7 414.68,338.7 414.76,339.2 414.84,336.4 414.92,337.6 415.00,335.4 415.08,336.7 415.16,334.3 415.24,334.8 415.32,332.4 415.40,333.1 415.48,330.8 415.56,331.4 415.64,330.0 415.72,332.2 415.80,330.7 415.88,332.2 415.96,331.4 416.04,332.8 416.12,332.6 416.20,335.0 416.28,333.9 416.36,336.7 416.44,335.9 416.52,338.9 416.60,337.2 416.68,339.9 416.76,338.8 416.84,340.8 416.92,339.9 417.00,342.5 417.08,341.2 417.16,342.4 417.24,340.9 417.32,343.0 417.40,341.5 417.48,343.1 417.56,342.7 417.64,344.2 417.72,342.9 417.80,343.8 417.88,341.8 417.96,344.0 418.04,342.0 418.12,344.3 418.20,342.7 418.28,344.5 418.36,342.1 418.44,344.9 418.52,343.1 418.60,344.7 418.68,342.4 418.76,344.0 418.84,342.5 418.92,344.7 419.00,343.6 419.08,315.9 419.16,283.9 419.24,256.2 419.32,224.0 419.40,196.9 419.48,165.0 419.56,138.2 419.64,106.9 419.70,84.5 419.72,93.6 419.80,133.2 419.88,171.3 419.96,212.2 420.04,249.4 420.12,290.5 420.20,327.5 420.28,368.2 420.30,377.3 420.36,375.8 420.44,370.5 420.52,368.6 420.60,363.3 420.68,361.2 420.76,355.1 420.84,353.8 420.92,348.1 421.00,345.2 421.08,343.4 421.16,344.6 421.24,342.7 421.32,343.5 421.40,341.5 421.48,343.0 421.56,340.7 421.64,342.8 421.72,340.2 421.80,342.7 421.88,339.7 421.96,341.4 422.04,339.2 422.12,339.9 422.20,338.3 422.28,338.7 422.36,337.3 422.44,338.0 422.52,336.5 422.60,337.8 422.68,335.5 422.76,336.4 422.84,334.5 422.92,336.0 423.00,333.6 423.08,335.4 423.16,333.2 423.24,334.5 423.32,332.7 423.40,334.7 423.48,332.5 423.56,333.8 423.64,331.8 423.72,332.8 423.80,332.0 423.88,333.2 423.96,331.2 424.04,332.3 424.12,330.2 424.20,331.8 424.28,329.1 424.36,330.1 424.44,327.6 424.52,329.4 424.60,327.0 424.68,327.5 424.76,325.0 424.84,326.2 424.92,323.9 425.00,324.6 425.08,322.4 425.16,324.4 425.24,322.0 425.32,322.2 425.40,320.2 425.48,321.1 425.56,318.9 425.64,320.8 425.72,318.0 425.80,319.3 425.88,316.3 425.96,316.5 426.04,314.5 426.12,315.2 426.20,312.3 426.28,313.9 426.36,310.0 426.44,311.4 426.52,309.3 426.60,309.6 426.68,306.4 426.76,306.8 426.84,303.5 426.92,303.6 427.00,300.5 427.08,300.8 427.16,296.5 427.24,296.9 427.32,292.7 427.40,291.2 427.48,286.3 427.56,284.2 427.64,279.8 427.72,277.2 427.80,271.8 427.88,269.0 427.96,263.3 428.04,261.5 428.12,255.7 428.20,253.8 428.28,247.7 428.36,245.6 428.44,239.7 428.52,238.5 428.60,232.9 428.68,231.4 428.76,226.1 428.84,224.7 428.92,220.6 429.00,219.2 429.08,215.4 429.10,214.9 429.16,219.3 429.24,227.2 429.32,231.0 429.40,239.5 429.48,244.4 429.56,252.5 429.64,256.7 429.72,264.6 429.80,269.8 429.88,277.5 429.96,281.1 430.04,288.6 430.12,292.0 430.20,300.1 430.28,304.2 430.36,310.1 430.44,313.7 430.52,319.2 430.60,321.0 430.68,326.9 430.76,328.0 430.84,332.7 430.92,333.0 431.00,336.3 431.08,336.4 431.16,340.0 431.24,339.1 431.32,341.9 431.40,341.5 431.48,344.2 431.56,343.5 431.64,345.5 431.72,344.0 431.80,346.2 431.88,345.1 431.96,348.3 432.04,347.0 432.12,348.9 432.20,347.4 432.28,348.6 432.36,347.1 432.44,349.4 432.52,347.8 432.60,350.2 432.68,347.5 432.76,348.9 432.84,347.1 432.92,348.9 433.00,345.8 433.08,348.0 433.16,345.4 433.24,346.8 433.32,344.7 433.40,346.9 433.48,345.9 433.56,347.7 433.64,345.3 433.72,347.8 433.80,346.0 433.88,346.9 433.96,345.9 434.04,348.0 434.12,346.1 434.20,348.2 434.28,345.6 434.36,348.0 434.44,346.5 434.52,347.6 434.60,346.6 434.68,348.7 434.76,346.5 434.84,348.6 434.92,347.0 435.00,349.2 435.08,346.8 435.16,348.7 435.24,347.5 435.32,349.4 435.40,346.9 435.48,349.4 435.56,347.4 435.64,349.0 435.72,347.4 435.80,348.8 435.88,346.7 435.96,348.6 436.04,347.1 436.12,348.8 436.20,348.3 436.28,349.4 436.36,348.0 436.44,349.8 436.52,347.8 436.60,350.3 436.68,347.8 436.76,350.7 436.84,349.8 436.92,350.6 437.00,349.0 437.08,350.6 437.16,349.5 437.24,351.7 437.32,348.9 437.40,352.1 437.48,350.6 437.56,352.8 437.64,350.0 437.72,352.3 437.80,351.0 437.88,352.0 437.96,351.0 438.04,353.0 438.12,351.5 438.20,352.8 438.28,350.5 438.36,352.6 438.44,350.3 438.52,352.1 438.60,350.2 438.68,351.8 438.76,349.5 438.84,351.8 438.92,348.9 439.00,350.5 439.08,349.2 439.16,350.3 439.24,349.1 439.32,349.8 439.40,347.7 439.48,349.1 439.56,347.8 439.64,349.6 439.72,347.3 439.80,350.1 439.88,347.3 439.96,348.3 440.04,346.2 440.12,348.4 440.20,346.6 440.28,348.1 440.36,347.1 440.44,348.1 440.52,344.9 440.60,346.6 440.68,344.6 440.76,345.9 440.84,344.1 440.92,344.4 441.00,342.5 441.08,343.9 441.16,341.6 441.24,342.4 441.32,340.6 441.40,341.8 441.48,339.4 441.56,341.3 441.64,337.9 441.72,339.1 441.80,337.0 441.88,338.6 441.96,337.0 442.04,338.3 442.12,337.8 442.20,338.9 442.28,338.5 442.36,340.4 442.44,339.1 442.52,341.7 442.60,339.5 442.68,341.5 442.76,340.3 442.84,343.2 442.92,342.0 443.00,343.8 443.08,342.8 443.16,344.8 443.24,344.3 443.32,345.8 443.40,345.6 443.48,347.9 443.56,347.1 443.64,350.3 443.72,348.2 443.80,350.2 443.88,348.0 443.96,350.9 444.04,348.9 444.12,350.7 444.20,348.3 444.28,350.0 444.36,348.0 444.44,349.5 444.52,348.1 444.60,349.9 444.68,347.2 444.76,349.7 444.84,347.5 444.92,348.9 445.00,347.9 445.08,349.8 445.16,348.5 445.24,349.9 445.32,341.3 445.40,312.0 445.48,279.4 445.56,251.6 445.64,219.1 445.72,190.3 445.80,158.8 445.88,130.0 445.96,97.8 446.00,82.2 446.04,101.8 446.12,143.2 446.20,181.9 446.28,223.0 446.36,260.2 446.44,301.7 446.52,339.6 446.60,381.3 446.60,379.6 446.68,376.9 446.76,371.8 446.84,369.4 446.92,363.6 447.00,361.0 447.08,354.2 447.16,351.8 447.24,346.1 447.32,344.5 447.40,341.7 447.48,342.7 447.56,340.8 447.64,341.1 447.72,339.5 447.80,340.1 447.88,337.8 447.96,339.8 448.04,337.1 448.12,338.9 448.20,336.9 448.28,339.3 448.36,337.1 448.44,339.0 448.52,336.6 448.60,337.4 448.68,335.6 448.76,336.6 448.84,335.1 448.92,336.4 449.00,333.9 449.08,334.9 449.16,333.1 449.24,333.8 449.32,331.6 449.40,333.1 449.48,331.0 449.56,332.6 449.64,330.8 449.72,332.2 449.80,329.7 449.88,331.4 449.96,328.6 450.04,329.9 450.12,327.2 450.20,329.2 450.28,326.1 450.36,328.0 450.44,325.8 450.52,327.1 450.60,324.9 450.68,326.0 450.76,323.2 450.84,324.9 450.92,322.9 451.00,323.5 451.08,321.2 451.16,322.7 451.24,319.7 451.32,321.1 451.40,317.8 451.48,319.2 451.56,316.9 451.64,318.5 451.72,316.3 451.80,316.9 451.88,314.7 451.96,316.3 452.04,313.2 452.12,315.0 452.20,312.1 452.28,313.1 452.36,310.2 452.44,311.3 452.52,308.3 452.60,308.7 452.68,304.8 452.76,306.1 452.84,302.7 452.92,302.0 453.00,298.8 453.08,299.5 453.16,294.8 453.24,295.1 453.32,290.7 453.40,290.2 453.48,285.1 453.56,283.7 453.64,278.0 453.72,276.9 453.80,270.3 453.88,268.9 453.96,262.9 454.04,261.0 454.12,255.0 454.20,253.1 454.28,247.5 454.36,246.6 454.44,240.1 454.52,239.1 454.60,233.2 454.68,232.5 454.76,227.6 454.84,226.4 454.92,222.8 455.00,221.4 455.08,216.5 455.10,216.1 455.16,219.9 455.24,227.2 455.32,230.8 455.40,238.1 455.48,241.0 455.56,249.1 455.64,252.4 455.72,259.1 455.80,262.9 455.88,269.5 455.96,272.9 456.04,280.8 456.12,282.8 456.20,289.6 456.28,292.6 456.36,300.1 456.44,302.9 456.52,310.2 456.60,311.7 456.68,318.6 456.76,321.1 456.84,326.5 456.92,326.7 457.00,331.7 457.08,332.2 457.16,335.7 457.24,335.8 457.32,339.4 457.40,338.5 457.48,342.4 457.56,340.5 457.64,342.2 457.72,341.3 457.80,343.4 457.88,343.1 457.96,345.0 458.04,343.1 458.12,345.5 458.20,343.2 458.28,345.6 458.36,343.7 458.44,346.9 458.52,344.0 458.60,346.2 458.68,344.5 458.76,346.3 458.84,343.9 458.92,345.9 459.00,343.5 459.08,345.5 459.16,343.8 459.24,345.1 459.32,342.9 459.40,344.5 459.48,343.2 459.56,343.7 459.64,343.0 459.72,344.6 459.80,343.4 459.88,344.2 459.96,343.0 460.04,344.0 460.12,342.6 460.20,343.6 460.28,342.1 460.36,344.4 460.44,341.7 460.52,343.6 460.60,341.8 460.68,342.9 460.76,341.3 460.84,343.5 460.92,341.5 461.00,343.6 461.08,341.6 461.16,344.0 461.24,342.2 461.32,343.5 461.40,342.5 461.48,343.8 461.56,341.7 461.64,343.4 461.72,342.6 461.80,343.9 461.88,342.2 461.96,343.7 462.04,342.4 462.12,344.9 462.20,343.1 462.28,345.1 462.36,343.3 462.44,345.0 462.52,343.8 462.60,345.2 462.68,343.7 462.76,346.1 462.84,344.6 462.92,346.8 463.00,344.0 463.08,346.4 463.16,345.3 463.24,347.6 463.32,346.1 463.40,347.6 463.48,346.0 463.56,347.7 463.64,346.1 463.72,347.8 463.80,345.8 463.88,347.5 463.96,346.1 464.04,347.9 464.12,345.0 464.20,346.9 464.28,345.7 464.36,347.9 464.44,345.9 464.52,348.1 464.60,346.0 464.68,347.9 464.76,346.0 464.84,347.8 464.92,345.9 465.00,348.0 465.08,346.3 465.16,347.8 465.24,346.0 465.32,347.5 465.40,346.7 465.48,348.6 465.56,346.6 465.64,348.3 465.72,346.8 465.80,348.4 465.88,345.2 465.96,347.2 466.04,345.4 466.12,346.5 466.20,345.2 466.28,346.2 466.36,345.2 466.44,346.1 466.52,344.1 466.60,346.0 466.68,344.8 466.76,346.8 466.84,345.8 466.92,347.7 467.00,345.6 467.08,346.6 467.16,344.7 467.24,347.0 467.32,345.7 467.40,348.0 467.48,345.7 467.56,347.4 467.64,345.5 467.72,347.5 467.80,345.8 467.88,347.5 467.96,345.3 468.04,347.9 468.12,345.9 468.20,347.7 468.28,346.3 468.36,347.7 468.44,346.2 468.52,347.7 468.60,345.3 468.68,347.4 468.76,345.0 468.84,346.8 468.92,345.5 469.00,346.2 469.08,344.7 469.16,346.8 469.24,344.4 469.32,345.9 469.40,343.1 469.48,345.7 469.56,342.6 469.64,344.5 469.72,342.4 469.80,343.5 469.88,340.4 469.96,342.3 470.04,340.5 470.12,341.9 470.20,339.6 470.28,340.8 470.36,337.6 470.44,339.1 470.52,336.6 470.60,338.7 470.68,336.6 470.76,337.6 470.84,335.4 470.92,336.5 471.00,334.7 471.08,335.9 471.16,333.6 471.24,335.5 471.32,333.5 471.40,335.0 471.48,333.2 471.56,336.0 471.64,334.3 471.72,335.9 471.80,334.7 471.88,337.5 471.96,335.7 472.04,338.0 472.12,336.1 472.20,338.3 472.28,336.7 472.36,338.9 472.44,337.2 472.52,339.8 472.60,337.9 472.68,340.6 472.76,338.9 472.84,341.8 472.92,340.3 473.00,342.7 473.08,341.2 473.16,343.3 473.24,340.7 473.32,343.5 473.40,341.1 473.48,342.9 473.56,340.6 473.64,342.7 473.72,340.2 473.80,343.3 473.88,340.5 473.96,343.2 474.04,341.6 474.12,343.7 474.20,343.3 474.28,345.1 474.36,320.6 474.44,292.8 474.52,260.9 474.60,232.6 474.68,201.8 474.76,173.1 474.84,141.0 474.92,112.6 475.00,80.6 475.00,82.1 475.08,119.7 475.16,160.9 475.24,197.6 475.32,238.6 475.40,275.3 475.48,317.0 475.56,353.5 475.60,374.1 475.64,371.1 475.72,368.6 475.80,361.9 475.88,359.5 475.96,352.9 476.04,350.9 476.12,345.2 476.20,342.0 476.28,335.7 476.36,336.4 476.44,334.1 476.52,336.2 476.60,333.3 476.68,335.1 476.76,333.0 476.84,334.0 476.92,331.0 477.00,332.5 477.08,329.7 477.16,331.0 477.24,329.4 477.32,330.1 477.40,327.8 477.48,328.9 477.56,325.9 477.64,327.0 477.72,325.5 477.80,326.6 477.88,324.9 477.96,325.9 478.04,324.3 478.12,324.6 478.20,322.8 478.28,323.9 478.36,321.4 478.44,322.8 478.52,320.4 478.60,321.4 478.68,319.7 478.76,320.7 478.84,318.1 478.92,320.2 479.00,318.3 479.08,319.4 479.16,317.4 479.24,319.4 479.32,316.3 479.40,318.1 479.48,315.7 479.56,316.7 479.64,314.3 479.72,315.1 479.80,312.5 479.88,314.4 479.96,312.0 480.04,313.1 480.12,310.6 480.20,312.6 480.28,309.5 480.36,310.2 480.44,308.9 480.52,309.9 480.60,306.8 480.68,307.3 480.76,305.1 480.84,305.9 480.92,303.4 481.00,304.5 481.08,302.7 481.16,303.5 481.24,299.9 481.32,301.9 481.40,299.2 481.48,299.6 481.56,296.4 481.64,297.5 481.72,293.4 481.80,293.6 481.88,290.9 481.96,290.7 482.04,286.1 482.12,285.5 482.20,280.3 482.28,280.1 482.36,274.5 482.44,273.6 482.52,268.6 482.60,266.2 482.68,261.5 482.76,259.4 482.84,253.6 482.92,252.9 483.00,246.8 483.08,245.9 483.16,241.2 483.24,239.2 483.32,234.2 483.40,233.6 483.48,227.9 483.56,227.8 483.64,223.6 483.72,222.8 483.80,217.4 483.88,216.6 483.90,215.7 483.96,220.1 484.04,224.7 484.12,232.3 484.20,235.8 484.28,242.8 484.36,247.1 484.44,253.5 484.52,258.4 484.60,265.5 484.68,268.8 484.76,275.8 484.84,279.0 484.92,285.7 485.00,289.3 485.08,296.6 485.16,300.0 485.24,306.7 485.32,308.4 485.40,314.5 485.48,316.8 485.56,322.8 485.64,324.9 485.72,329.8 485.80,328.8 485.88,332.7 485.96,332.8 486.04,336.0 486.12,335.4 486.20,338.2 486.28,336.7 486.36,338.9 486.44,338.1 486.52,340.8 486.60,339.2 486.68,341.5 486.76,339.5 486.84,341.7 486.92,340.9 487.00,342.3 487.08,341.0 487.16,343.1 487.24,341.0 487.32,343.7 487.40,341.7 487.48,343.5 487.56,342.6 487.64,344.7 487.72,342.4 487.80,345.0 487.88,343.3 487.96,345.2 488.04,343.4 488.12,345.9 488.20,344.9 488.28,346.3 488.36,344.2 488.44,346.1 488.52,343.9 488.60,345.8 488.68,343.3 488.76,345.4 488.84,343.9 488.92,346.0 489.00,344.0 489.08,346.2 489.16,344.9 489.24,347.1 489.32,344.3 489.40,347.5 489.48,345.7 489.56,348.0 489.64,345.5 489.72,348.3 489.80,345.6 489.88,348.1 489.96,346.9 490.04,347.9 490.12,347.1 490.20,348.7 490.28,346.7 490.36,348.8 490.44,346.5 490.52,348.9 490.60,347.2 490.68,348.9 490.76,346.5 490.84,348.8 490.92,347.0 491.00,348.5 491.08,346.6 491.16,348.2 491.24,345.6 491.32,347.6 491.40,345.9 491.48,347.6 491.56,345.1 491.64,348.5 491.72,346.5 491.80,348.4 491.88,346.3 491.96,348.4 492.04,346.8 492.12,348.5 492.20,347.4 492.28,348.9 492.36,347.7 492.44,350.0 492.52,348.1 492.60,349.8 492.68,347.6 492.76,349.6 492.84,346.8 492.92,349.9 493.00,347.5 493.08,349.7 493.16,347.7 493.24,349.2 493.32,347.6 493.40,349.8 493.48,348.2 493.56,350.3 493.64,348.3 493.72,350.2 493.80,349.1 493.88,350.5 493.96,348.5 494.04,351.0 494.12,349.0 494.20,350.7 494.28,349.2 494.36,350.9 494.44,348.8 494.52,350.8 494.60,348.5 494.68,350.8 494.76,348.9 494.84,350.4 494.92,349.6 495.00,350.5 495.08,348.8 495.16,350.4 495.24,348.0 495.32,349.9 495.40,346.8 495.48,349.0 495.56,346.3 495.64,348.5 495.72,346.1 495.80,347.9 495.88,346.0 495.96,348.2 496.04,347.0 496.12,348.7 496.20,347.4 496.28,349.1 496.36,347.6 496.44,348.9 496.52,347.3 496.60,348.8 496.68,347.3 496.76,348.8 496.84,346.8 496.92,348.3 497.00,346.3 497.08,348.4 497.16,346.9 497.24,348.9 497.32,346.7 497.40,348.3 497.48,347.2 497.56,348.7 497.64,347.5 497.72,348.2 497.80,346.3 497.88,347.5 497.96,345.5 498.04,346.7 498.12,345.4 498.20,345.7 498.28,344.4 498.36,344.9 498.44,342.8 498.52,344.9 498.60,341.8 498.68,342.9 498.76,340.0 498.84,341.9 498.92,339.0 499.00,341.1 499.08,337.9 499.16,339.9 499.24,337.8 499.32,340.0 499.40,337.6 499.48,339.0 499.56,337.7 499.64,339.9 499.72,338.9 499.80,341.3 499.88,339.5 499.96,341.6 500.04,340.0 500.12,342.3 500.20,341.7 500.28,343.7 500.36,342.4 500.44,344.3 500.52,342.8 500.60,344.8 500.68,344.3 500.76,345.8 500.84,344.9 500.92,346.8 501.00,344.1 501.08,347.1 501.16,345.0 501.24,346.8 501.32,345.3 501.40,346.6 501.48,344.6 501.56,346.9 501.64,346.5 501.72,348.3 501.80,346.2 501.88,348.6 501.96,347.2 502.04,333.8 502.12,301.5 502.20,272.8 502.28,241.8 502.36,212.1 502.44,180.5 502.52,151.8 502.60,120.2 502.68,92.3 502.70,82.0 502.76,114.0 502.84,151.9 502.92,193.2 503.00,230.0 503.08,271.6 503.16,309.2 503.24,349.6 503.30,377.4 503.32,378.1 503.40,371.8 503.48,369.4 503.56,363.0 503.64,360.9 503.72,353.8 503.80,351.0 503.88,344.9 503.96,342.8 504.04,338.8 504.12,339.3 504.20,337.0 504.28,339.1 504.36,335.9 504.44,337.9 504.52,335.2 504.60,336.9 504.68,335.4 504.76,336.2 504.84,334.0 504.92,334.7 505.00,332.2 505.08,332.4 505.16,330.1 505.24,331.6 505.32,329.3 505.40,329.9 505.48,327.8 505.56,329.1 505.64,327.3 505.72,329.4 505.80,327.1 505.88,327.7 505.96,326.0 506.04,326.4 506.12,325.0 506.20,326.9 506.28,323.9 506.36,326.0 506.44,323.1 506.52,324.4 506.60,322.6 506.68,324.7 506.76,321.5 506.84,323.3 506.92,320.1 507.00,321.8 507.08,319.0 507.16,319.9 507.24,317.2 507.32,319.5 507.40,316.0 507.48,317.2 507.56,315.1 507.64,315.7 507.72,314.1 507.80,315.8 507.88,313.1 507.96,314.3 508.04,312.0 508.12,313.1 508.20,309.7 508.28,311.0 508.36,307.8 508.44,309.2 508.52,306.6 508.60,306.7 508.68,305.1 508.76,306.6 508.84,302.9 508.92,304.8 509.00,301.5 509.08,301.9 509.16,299.3 509.24,300.2 509.32,296.3 509.40,296.6 509.48,292.4 509.56,291.5 509.64,286.9 509.72,286.2 509.80,281.4 509.88,280.2 509.96,274.1 510.04,273.3 510.12,268.0 510.20,266.3 510.28,260.5 510.36,258.3 510.44,252.9 510.52,252.2 510.60,247.4 510.68,246.4 510.76,240.8 510.84,239.2 510.92,235.1 511.00,234.5 511.08,229.2 511.16,228.4 511.24,224.0 511.32,223.4 511.40,220.0 511.40,220.2 511.48,226.1 511.56,233.5 511.64,236.9 511.72,245.0 511.80,248.9 511.88,257.4 511.96,261.9 512.04,269.2 512.12,273.8 512.20,281.1 512.28,284.9 512.36,292.0 512.44,295.2 512.52,303.1 512.60,306.5 512.68,313.7 512.76,315.5 512.84,321.7 512.92,322.5 513.00,328.3 513.08,329.2 513.16,333.9 513.24,333.9 513.32,338.1 513.40,337.0 513.48,339.8 513.56,339.4 513.64,342.8 513.72,341.1 513.80,343.9 513.88,342.7 513.96,345.0 514.04,343.4 514.12,346.5 514.20,344.6 514.28,347.1 514.36,345.6 514.44,347.9 514.52,345.1 514.60,348.1 514.68,346.1 514.76,347.5 514.84,344.9 514.92,346.9 515.00,344.8 515.08,347.0 515.16,344.5 515.24,346.0 515.32,345.0 515.40,345.6 515.48,344.3 515.56,345.7 515.64,343.8 515.72,346.5 515.80,344.4 515.88,345.7 515.96,343.3 516.04,345.3 516.12,343.4 516.20,345.3 516.28,343.2 516.36,344.3 516.44,342.3 516.52,343.5 516.60,341.8 516.68,343.4 516.76,341.8 516.84,344.3 516.92,342.0 517.00,344.4 517.08,342.0 517.16,344.7 517.24,343.1 517.32,345.3 517.40,343.7 517.48,345.5 517.56,344.0 517.64,345.5 517.72,344.0 517.80,345.6 517.88,344.1 517.96,346.0 518.04,345.0 518.12,345.9 518.20,343.9 518.28,346.6 518.36,345.1 518.44,346.0 518.52,344.2 518.60,345.9 518.68,345.1 518.76,346.8 518.84,345.2 518.92,347.7 519.00,345.8 519.08,347.0 519.16,346.2 519.24,348.4 519.32,347.0 519.40,348.6 519.48,346.5 519.56,349.1 519.64,347.0 519.72,348.2 519.80,346.8 519.88,348.8 519.96,347.7 520.04,349.4 520.12,348.0 520.20,350.2 520.28,347.2 520.36,349.2 520.44,347.4 520.52,349.3 520.60,348.4 520.68,350.0 520.76,346.6 520.84,348.7 520.92,346.6 521.00,348.2 521.08,345.7 521.16,347.5 521.24,346.0 521.32,347.0 521.40,345.2 521.48,346.9 521.56,344.1 521.64,345.8 521.72,343.5 521.80,345.8 521.88,342.7 521.96,344.2 522.04,342.4 522.12,342.8 522.20,341.1 522.28,343.0 522.36,340.9 522.44,341.8 522.52,340.2 522.60,341.4 522.68,339.4 522.76,340.5 522.84,337.8 522.92,339.5 523.00,337.5 523.08,339.3 523.16,337.7 523.24,339.7 523.32,338.0 523.40,339.7 523.48,337.9 523.56,340.7 523.64,338.6 523.72,341.2 523.80,339.1 523.88,341.3 523.96,339.9 524.04,342.2 524.12,341.3 524.20,344.6 524.28,343.1 524.36,346.0 524.44,343.8 524.52,346.4 524.60,345.1 524.68,347.0 524.76,345.3 524.84,347.1 524.92,345.6 525.00,347.5 525.08,346.7 525.16,349.0 525.24,347.0 525.32,349.3 525.40,347.7 525.48,349.5 525.56,348.2 525.64,350.3 525.72,348.8 525.80,351.3 525.88,348.4 525.96,350.9 526.04,349.1 526.12,351.1 526.20,349.2 526.28,350.8 526.36,349.2 526.44,335.0 526.52,303.4 526.60,274.5 526.68,242.0 526.76,212.6 526.84,180.4 526.92,151.5 527.00,118.5 527.08,90.0 527.10,81.8 527.16,112.9 527.24,150.1 527.32,192.4 527.40,230.5 527.48,273.6 527.56,311.3 527.64,353.1 527.70,382.0 527.72,381.3 527.80,374.9 527.88,372.4 527.96,364.9 528.04,361.3 528.12,355.1 528.20,351.6 528.28,344.0 528.36,340.9 528.44,337.7 528.52,338.7 528.60,336.1 528.68,336.7 528.76,335.4 528.84,336.2 528.92,334.8 529.00,335.2 529.08,333.6 529.16,333.8 529.24,330.4 529.32,331.8 529.40,329.1 529.48,330.3 529.56,328.2 529.64,328.8 529.72,327.1 529.80,328.6 529.88,325.5 529.96,327.4 530.04,324.7 530.12,326.9 530.20,323.9 530.28,325.4 530.36,323.0 530.44,324.7 530.52,322.6 530.60,323.4 530.68,321.7 530.76,322.5 530.84,319.7 530.92,321.2 531.00,319.3 531.08,319.6 531.16,317.7 531.24,318.5 531.32,317.0 531.40,318.0 531.48,315.3 531.56,316.7 531.64,314.6 531.72,316.1 531.80,312.3 531.88,313.4 531.96,311.3 532.04,312.5 532.12,310.2 532.20,311.4 532.28,309.3 532.36,310.4 532.44,308.1 532.52,309.0 532.60,306.4 532.68,307.7 532.76,305.5 532.84,306.1 532.92,303.6 533.00,303.9 533.08,301.5 533.16,302.1 533.24,298.7 533.32,299.3 533.40,296.5 533.48,297.2 533.56,293.1 533.64,292.4 533.72,288.5 533.80,287.8 533.88,282.9 533.96,282.0 534.04,278.1 534.12,277.0 534.20,272.2 534.28,271.0 534.36,266.1 534.44,264.4 534.52,258.4 534.60,258.0 534.68,253.4 534.76,251.4 534.84,247.2 534.92,245.1 535.00,239.9 535.08,239.5 535.16,235.2 535.24,233.9 535.32,229.8 535.40,229.5 535.48,225.3 535.56,223.3 535.60,221.9 535.64,225.2 535.72,231.0 535.80,239.3 535.88,243.3 535.96,251.6 536.04,255.7 536.12,263.6 536.20,267.5 536.28,276.0 536.36,278.9 536.44,286.5 536.52,290.7 536.60,297.4 536.68,300.8 536.76,308.0 536.84,311.2 536.92,317.5 537.00,319.9 537.08,325.6 537.16,327.7 537.24,332.0 537.32,332.8 537.40,337.0 537.48,337.2 537.56,340.6 537.64,340.8 537.72,343.4 537.80,342.4 537.88,345.4 537.96,344.7 538.04,346.9 538.12,346.3 538.20,348.2 538.28,346.4 538.36,349.8 538.44,347.5 538.52,350.0 538.60,348.4 538.68,349.9 538.76,348.2 538.84,349.5 538.92,347.8 539.00,349.1 539.08,346.5 539.16,348.4 539.24,347.3 539.32,348.1 539.40,346.4 539.48,348.1 539.56,346.4 539.64,347.3 539.72,344.9 539.80,347.4 539.88,346.2 539.96,347.7 540.04,346.0 540.12,347.8 540.20,345.3 540.28,347.9 540.36,346.1 540.44,348.5 540.52,346.1 540.60,348.1 540.68,345.9 540.76,348.8 540.84,346.2 540.92,348.0 541.00,345.9 541.08,347.6 541.16,346.7 541.24,348.7 541.32,347.0 541.40,349.3 541.48,346.8 541.56,349.1 541.64,346.7 541.72,349.1 541.80,347.3 541.88,349.5 541.96,347.7 542.04,349.8 542.12,348.1 542.20,349.8 542.28,347.1 542.36,349.8 542.44,347.7 542.52,349.4 542.60,347.7 542.68,349.2 542.76,348.0 542.84,350.0 542.92,347.1 543.00,349.6 543.08,347.1 543.16,349.2 543.24,347.5 543.32,350.5 543.40,348.0 543.48,350.7 543.56,348.2 543.64,350.7 543.72,348.6 543.80,350.1 543.88,349.2 543.96,350.9 544.04,348.9 544.12,350.5 544.20,348.4 544.28,349.9 544.36,347.1 544.44,349.7 544.52,348.5 544.60,349.9 544.68,347.6 544.76,350.0 544.84,348.1 544.92,349.6 545.00,347.7 545.08,350.5 545.16,347.5 545.24,349.6 545.32,347.4 545.40,349.8 545.48,347.8 545.56,349.6 545.64,348.7 545.72,349.7 545.80,349.0 545.88,350.2 545.96,349.2 546.04,351.4 546.12,349.3 546.20,351.6 546.28,350.2 546.36,352.4 546.44,349.5 546.52,352.5 546.60,350.7 546.68,351.8 546.76,349.4 546.84,351.4 546.92,349.7 547.00,352.0 547.08,349.3 547.16,350.1 547.24,349.2 547.32,350.9 547.40,349.0 547.48,350.7 547.56,349.4 547.64,350.7 547.72,349.2 547.80,350.3 547.88,348.3 547.96,350.9 548.04,348.6 548.12,351.2 548.20,349.5 548.28,350.7 548.36,349.0 548.44,350.3 548.52,348.3 548.60,350.6 548.68,349.1 548.76,350.3 548.84,349.5 548.92,351.0 549.00,348.6 549.08,351.2 549.16,349.4 549.24,351.1 549.32,349.4 549.40,351.1 549.48,348.7 549.56,350.8 549.64,348.7 549.72,349.9 549.80,347.6 549.88,349.3 549.96,347.7 550.04,349.2 550.12,347.8 550.20,349.5 550.28,346.5 550.36,348.3 550.44,345.6 550.52,347.1 550.60,345.7 550.68,346.1 550.76,344.5 550.84,345.1 550.92,343.9 551.00,344.9 551.08,342.9 551.16,344.7 551.24,343.1 551.32,344.5 551.40,341.3 551.48,343.4 551.56,340.7 551.64,341.9 551.72,339.9 551.80,341.5 551.88,339.7 551.96,341.2 552.04,338.8 552.12,341.5 552.20,340.0 552.28,342.3 552.36,340.5 552.44,343.2 552.52,341.5 552.60,343.0 552.68,341.1 552.76,343.7 552.84,342.2 552.92,343.5 553.00,342.4 553.08,345.3 553.16,343.0 553.24,346.1 553.32,344.5 553.40,346.8 553.48,345.8 553.56,347.2 553.64,345.6 553.72,348.6 553.80,346.5 553.88,347.9 553.96,345.4 554.04,346.9 554.12,345.5 554.20,347.0 554.28,345.8 554.36,347.3 554.44,345.9 554.52,348.2 554.60,346.8 554.68,348.2 554.76,346.5 554.84,349.2 554.92,348.4 555.00,350.4 555.08,348.6 555.16,328.2 555.24,295.4 555.32,266.6 555.40,233.6 555.48,204.8 555.56,173.0 555.64,143.6 555.72,112.1 555.80,83.0 555.80,81.9 555.88,123.5 555.96,161.7 556.04,203.5 556.12,241.8 556.20,284.0 556.28,322.5 556.36,364.9 556.40,384.0 556.44,381.7 556.52,374.8 556.60,372.1 556.68,366.4 556.76,363.9 556.84,356.7 556.92,355.1 557.00,348.3 557.08,345.7 557.16,342.9 557.24,343.8 557.32,342.5 557.40,343.0 557.48,341.3 557.56,342.1 557.64,340.6 557.72,341.7 557.80,338.7 557.88,340.2 557.96,337.4 558.04,339.0 558.12,336.9 558.20,338.2 558.28,336.1 558.36,337.7 558.44,334.6 558.52,336.0 558.60,334.4 558.68,335.6 558.76,333.5 558.84,335.4 558.92,332.6 559.00,334.0 559.08,332.2 559.16,334.0 559.24,331.4 559.32,333.4 559.40,330.4 559.48,332.3 559.56,330.1 559.64,331.5 559.72,329.1 559.80,330.8 559.88,328.8 559.96,329.4 560.04,326.7 560.12,327.6 560.20,326.0 560.28,325.6 560.36,323.5 560.44,324.3 560.52,322.6 560.60,324.4 560.68,321.9 560.76,323.1 560.84,320.9 560.92,322.3 561.00,320.1 561.08,321.3 561.16,318.4 561.24,320.2 561.32,317.2 561.40,317.7 561.48,315.3 561.56,317.0 561.64,312.9 561.72,314.0 561.80,311.7 561.88,313.1 561.96,311.1 562.04,311.7 562.12,309.6 562.20,310.7 562.28,307.7 562.36,308.7 562.44,304.9 562.52,305.8 562.60,303.4 562.68,302.4 562.76,299.4 562.84,298.8 562.92,295.2 563.00,294.4 563.08,290.1 563.16,288.7 563.24,284.1 563.32,283.7 563.40,277.5 563.48,276.0 563.56,270.3 563.64,268.5 563.72,262.5 563.80,261.1 563.88,255.5 563.96,254.8 564.04,248.9 564.12,247.9 564.20,243.4 564.28,242.7 564.36,238.4 564.44,237.4 564.52,233.9 564.60,232.2 564.68,228.7 564.76,226.6 564.80,225.0 564.84,228.0 564.92,232.9 565.00,240.0 565.08,243.1 565.16,250.1 565.24,254.3 565.32,261.3 565.40,264.7 565.48,272.2 565.56,275.0 565.64,282.1 565.72,285.3 565.80,291.9 565.88,294.5 565.96,301.3 566.04,303.5 566.12,310.1 566.20,312.5 566.28,318.5 566.36,320.7 566.44,325.6 566.52,327.4 566.60,331.7 566.68,331.9 566.76,336.3 566.84,336.3 566.92,339.5 567.00,339.6 567.08,342.2 567.16,341.3 567.24,343.7 567.32,343.8 567.40,346.6 567.48,344.7 567.56,347.8 567.64,346.8 567.72,348.7 567.80,347.2 567.88,351.0 567.96,349.3 568.04,351.3 568.12,349.2 568.20,352.4 568.28,350.0 568.36,352.9 568.44,350.7 568.52,353.2 568.60,351.9 568.68,353.5 568.76,352.4 568.84,354.6 568.92,352.3 569.00,354.3 569.08,353.3 569.16,354.8 569.24,353.3 569.32,352.0 569.40,338.0 569.48,327.6 569.56,322.5 569.64,324.7 569.72,321.8 569.80,324.4 569.88,321.5 569.96,323.5 570.04,321.7 570.12,322.9 570.20,320.3 570.28,322.5 570.36,319.8 570.44,321.9 570.52,319.6 570.60,321.6 570.68,319.6 570.76,321.7 570.84,319.5 570.92,322.5 571.00,319.5 571.08,321.7 571.16,319.6 571.24,321.2 571.32,319.3 571.40,321.5 571.48,318.7 571.56,321.4 571.64,318.6 571.72,320.5 571.80,317.9 571.88,320.1 571.96,318.0 572.04,319.0 572.12,317.5 572.20,320.2 572.28,317.2 572.36,319.4 572.44,317.3 572.52,319.9 572.60,317.5 572.68,319.4 572.76,317.6 572.84,319.2 572.92,317.0 573.00,318.8 573.08,317.4 573.16,318.1 573.24,315.9 573.32,316.9 573.40,314.8 573.48,316.7 573.56,314.9 573.64,317.2 573.72,315.0 573.80,316.8 573.88,315.6 573.96,317.3 574.04,315.0 574.12,317.3 574.20,315.9 574.28,317.9 574.36,315.9 574.44,316.6 574.52,314.5 574.60,316.0 574.68,314.5 574.76,316.4 574.84,314.4 574.92,315.8 575.00,312.9 575.08,314.7 575.16,312.2 575.24,313.8 575.32,312.1 575.40,314.1 575.48,312.5 575.56,314.3 575.64,312.3 575.72,314.2 575.80,311.8 575.88,313.3 575.96,311.2 576.04,312.9 576.12,310.0 576.20,312.2 576.28,310.0 576.36,311.2 576.44,309.2 576.52,311.4 576.60,310.0 576.68,311.8 576.76,309.5 576.84,312.5 576.92,311.0 577.00,312.1 577.08,310.0 577.16,312.2 577.24,310.5 577.32,311.2 577.40,310.1 577.48,311.9 577.56,309.3 577.64,311.3 577.72,309.1 577.80,311.3 577.88,309.7 577.96,310.9 578.04,309.5 578.12,311.0 578.20,308.9 578.28,310.5 578.36,309.3 578.44,310.3 578.52,307.7 578.60,310.4 578.68,308.5 578.76,310.1 578.84,308.1 578.92,309.0 579.00,307.1 579.08,310.2 579.16,307.9 579.24,309.1 579.32,307.5 579.40,308.5 579.48,307.5 579.56,308.6 579.64,307.1 579.72,309.2 579.80,307.1 579.88,309.3 579.96,306.8 580.04,308.8 580.12,307.0 580.20,308.2 580.28,305.4 580.36,308.0 580.44,305.8 580.52,306.7 580.60,304.7 580.68,307.1 580.76,305.4 580.84,306.7 580.92,305.4 581.00,307.0 581.08,305.0 581.16,306.5" fill="none" stroke="#00ff00" stroke-width="1.05" stroke-linejoin="round"/>
<polyline points="91.00,348.0 91.08,345.5 91.16,348.1 91.24,346.0 91.32,347.0 91.40,344.9 91.48,346.5 91.56,345.0 91.64,348.1 91.72,346.1 91.80,347.8 91.88,346.4 91.96,348.0 92.04,346.8 92.12,348.4 92.20,346.5 92.28,349.1 92.36,346.4 92.44,348.4 92.52,345.9 92.60,348.2 92.68,346.9 92.76,348.2 92.84,346.4 92.92,347.6 93.00,346.4 93.08,348.1 93.16,345.9 93.24,348.7 93.32,346.5 93.40,348.1 93.48,346.5 93.56,348.0 93.64,347.4 93.72,349.3 93.80,347.7 93.88,349.1 93.96,347.7 94.04,349.8 94.12,347.9 94.20,349.5 94.28,347.9 94.36,349.8 94.44,347.0 94.52,349.4 94.60,347.1 94.68,348.9 94.76,347.4 94.84,349.1 94.92,347.1 95.00,349.1 95.08,347.1 95.16,349.1 95.24,348.0 95.32,350.1 95.40,348.6 95.48,350.4 95.56,348.5 95.64,350.8 95.72,347.9 95.80,350.1 95.88,347.8 95.96,349.7 96.04,348.3 96.12,349.3 96.20,348.0 96.28,349.6 96.36,348.5 96.44,350.4 96.52,348.5 96.60,350.1 96.68,348.3 96.76,350.6 96.84,348.1 96.92,350.1 97.00,348.2 97.08,351.1 97.16,348.0 97.24,350.5 97.32,349.2 97.40,350.7 97.48,349.0 97.56,351.3 97.64,349.5 97.72,351.1 97.80,348.6 97.88,350.2 97.96,348.2 98.04,349.8 98.12,348.1 98.20,348.7 98.28,346.9 98.36,349.4 98.44,347.6 98.52,349.5 98.60,347.5 98.68,349.2 98.76,348.3 98.84,349.1 98.92,348.0 99.00,349.7 99.08,346.6 99.16,347.8 99.24,345.7 99.32,347.7 99.40,345.0 99.48,346.6 99.56,343.8 99.64,345.3 99.72,343.3 99.80,345.1 99.88,342.0 99.96,343.6 100.04,341.1 100.12,342.2 100.20,339.9 100.28,341.9 100.36,339.4 100.44,340.6 100.52,337.7 100.60,339.1 100.68,337.4 100.76,339.7 100.84,337.5 100.92,339.8 101.00,338.3 101.08,339.9 101.16,338.6 101.24,339.8 101.32,339.1 101.40,341.6 101.48,339.5 101.56,341.5 101.64,340.6 101.72,342.9 101.80,341.1 101.88,343.7 101.96,341.6 102.04,344.1 102.12,342.1 102.20,345.2 102.28,343.5 102.36,346.0 102.44,343.8 102.52,346.4 102.60,344.1 102.68,346.2 102.76,345.0 102.84,347.0 102.92,344.9 103.00,346.6 103.08,344.6 103.16,346.9 103.24,344.7 103.32,346.8 103.40,344.3 103.48,346.8 103.56,345.5 103.64,347.5 103.72,338.8 103.80,309.9 103.88,277.7 103.96,250.0 104.04,218.0 104.12,189.4 104.20,157.3 104.28,129.2 104.36,97.1 104.40,83.3 104.44,100.8 104.52,142.0 104.60,178.9 104.68,220.3 104.76,257.7 104.84,297.6 104.92,335.2 105.00,375.9 105.00,374.8 105.08,371.1 105.16,365.0 105.24,362.5 105.32,355.1 105.40,353.3 105.48,346.3 105.56,344.1 105.64,338.3 105.72,336.1 105.80,335.2 105.88,336.1 105.96,334.3 106.04,335.6 106.12,333.6 106.20,334.2 106.28,332.5 106.36,333.8 106.44,331.5 106.52,332.4 106.60,330.8 106.68,332.5 106.76,329.9 106.84,331.7 106.92,329.2 107.00,331.7 107.08,329.6 107.16,331.0 107.24,329.1 107.32,330.6 107.40,327.6 107.48,329.9 107.56,327.5 107.64,328.0 107.72,326.0 107.80,326.1 107.88,324.3 107.96,326.0 108.04,323.9 108.12,325.9 108.20,323.2 108.28,324.7 108.36,322.5 108.44,325.2 108.52,323.0 108.60,324.5 108.68,321.8 108.76,324.0 108.84,321.5 108.92,322.3 109.00,319.1 109.08,320.9 109.16,318.0 109.24,319.2 109.32,316.6 109.40,318.6 109.48,315.4 109.56,316.8 109.64,315.0 109.72,316.0 109.80,314.1 109.88,314.9 109.96,311.6 110.04,313.4 110.12,311.2 110.20,311.9 110.28,309.3 110.36,310.0 110.44,308.5 110.52,308.9 110.60,306.5 110.68,308.7 110.76,306.1 110.84,306.4 110.92,304.1 111.00,305.0 111.08,302.5 111.16,303.3 111.24,300.2 111.32,301.0 111.40,298.0 111.48,299.0 111.56,295.8 111.64,295.6 111.72,292.1 111.80,292.0 111.88,289.2 111.96,288.0 112.04,284.7 112.12,283.7 112.20,279.1 112.28,277.2 112.36,272.0 112.44,271.2 112.52,266.3 112.60,264.3 112.68,258.1 112.76,256.5 112.84,251.7 112.92,249.9 113.00,245.0 113.08,244.4 113.16,238.7 113.24,238.3 113.32,233.3 113.40,232.1 113.48,228.7 113.56,228.6 113.64,224.2 113.72,223.4 113.80,219.6 113.80,219.9 113.88,225.1 113.96,232.0 114.04,236.4 114.12,243.4 114.20,246.1 114.28,253.8 114.36,256.6 114.44,265.0 114.52,267.7 114.60,275.5 114.68,278.5 114.76,285.5 114.84,288.7 114.92,295.8 115.00,298.8 115.08,306.2 115.16,308.5 115.24,314.6 115.32,316.9 115.40,322.3 115.48,324.6 115.56,330.7 115.64,331.8 115.72,335.8 115.80,335.6 115.88,339.4 115.96,338.9 116.04,342.8 116.12,341.8 116.20,343.7 116.28,342.4 116.36,345.3 116.44,343.8 116.52,345.8 116.60,343.5 116.68,346.4 116.76,344.9 116.84,346.0 116.92,344.5 117.00,347.0 117.08,345.9 117.16,347.5 117.24,345.7 117.32,348.4 117.40,347.3 117.48,349.4 117.56,347.3 117.64,349.5 117.72,347.8 117.80,349.3 117.88,348.3 117.96,349.7 118.04,348.5 118.12,350.6 118.20,348.4 118.28,350.0 118.36,348.3 118.44,351.3 118.52,348.8 118.60,351.1 118.68,349.6 118.76,351.5 118.84,350.7 118.92,351.4 119.00,349.7 119.08,351.3 119.16,350.5 119.24,352.6 119.32,350.2 119.40,351.6 119.48,350.1 119.56,351.7 119.64,349.8 119.72,351.6 119.80,350.2 119.88,352.5 119.96,350.2 120.04,351.9 120.12,349.8 120.20,352.9 120.28,351.2 120.36,352.6 120.44,351.9 120.52,354.1 120.60,351.3 120.68,353.6 120.76,351.9 120.84,354.4 120.92,353.3 121.00,355.1 121.08,352.9 121.16,354.7 121.24,353.6 121.32,355.5 121.40,354.3 121.48,355.2 121.56,353.5 121.64,355.4 121.72,352.8 121.80,355.5 121.88,353.0 121.96,355.8 122.04,353.5 122.12,355.9 122.20,353.5 122.28,355.3 122.36,354.5 122.44,356.6 122.52,354.7 122.60,356.2 122.68,353.9 122.76,355.9 122.84,353.5 122.92,355.7 123.00,354.4 123.08,355.9 123.16,353.9 123.24,356.5 123.32,354.2 123.40,356.4 123.48,354.5 123.56,356.8 123.64,354.6 123.72,357.3 123.80,354.9 123.88,356.6 123.96,354.5 124.04,356.9 124.12,355.1 124.20,357.3 124.28,355.3 124.36,357.1 124.44,355.0 124.52,356.6 124.60,354.9 124.68,356.8 124.76,355.3 124.84,357.4 124.92,355.5 125.00,357.2 125.08,355.1 125.16,357.2 125.24,355.5 125.32,356.7 125.40,354.5 125.48,356.8 125.56,354.3 125.64,355.9 125.72,353.8 125.80,355.8 125.88,354.4 125.96,356.0 126.04,354.1 126.12,355.4 126.20,353.8 126.28,355.5 126.36,354.1 126.44,355.8 126.52,353.6 126.60,355.7 126.68,353.4 126.76,355.2 126.84,353.2 126.92,355.4 127.00,352.4 127.08,354.8 127.16,352.9 127.24,355.2 127.32,353.0 127.40,354.9 127.48,352.5 127.56,354.4 127.64,352.0 127.72,354.4 127.80,353.1 127.88,355.0 127.96,352.9 128.04,354.3 128.12,351.7 128.20,353.6 128.28,351.6 128.36,352.9 128.44,351.6 128.52,353.7 128.60,351.0 128.68,352.8 128.76,350.3 128.84,352.5 128.92,350.2 129.00,352.6 129.08,350.8 129.16,351.9 129.24,350.3 129.32,351.7 129.40,349.1 129.48,351.2 129.56,349.1 129.64,350.7 129.72,348.9 129.80,350.8 129.88,348.0 129.96,349.8 130.04,347.8 130.12,349.6 130.20,347.0 130.28,348.8 130.36,347.2 130.44,348.8 130.52,346.2 130.60,347.6 130.68,345.6 130.76,346.4 130.84,344.1 130.92,346.2 131.00,343.4 131.08,345.3 131.16,342.7 131.24,344.0 131.32,342.1 131.40,343.2 131.48,341.2 131.56,343.1 131.64,340.5 131.72,342.0 131.80,340.2 131.88,342.4 131.96,340.4 132.04,341.7 132.12,340.0 132.20,341.8 132.28,340.4 132.36,342.6 132.44,340.8 132.52,342.5 132.60,341.3 132.68,343.2 132.76,341.6 132.84,343.8 132.92,342.3 133.00,345.0 133.08,343.8 133.16,345.7 133.24,344.8 133.32,346.9 133.40,344.9 133.48,347.7 133.56,346.0 133.64,347.4 133.72,345.9 133.80,348.3 133.88,346.8 133.96,348.8 134.04,346.3 134.12,348.2 134.20,346.0 134.28,348.5 134.36,346.4 134.44,347.8 134.52,346.7 134.60,348.1 134.68,346.2 134.76,347.9 134.84,346.3 134.92,348.8 135.00,348.4 135.08,319.1 135.16,287.0 135.24,258.5 135.32,226.2 135.40,196.6 135.48,164.7 135.56,135.8 135.64,103.8 135.70,81.0 135.72,89.9 135.80,130.7 135.88,168.6 135.96,210.0 136.04,247.7 136.12,289.1 136.20,326.9 136.28,368.1 136.30,377.2 136.36,375.0 136.44,367.0 136.52,364.2 136.60,357.5 136.68,353.4 136.76,345.6 136.84,342.7 136.92,336.1 137.00,333.2 137.08,329.5 137.16,330.8 137.24,329.0 137.32,329.9 137.40,327.7 137.48,330.3 137.56,327.4 137.64,329.5 137.72,326.8 137.80,328.7 137.88,326.3 137.96,328.3 138.04,325.3 138.12,326.5 138.20,324.2 138.28,324.7 138.36,322.4 138.44,324.1 138.52,321.4 138.60,322.9 138.68,320.0 138.76,321.2 138.84,319.7 138.92,319.9 139.00,318.3 139.08,319.6 139.16,317.7 139.24,319.8 139.32,317.2 139.40,318.7 139.48,315.5 139.56,317.3 139.64,314.4 139.72,315.5 139.80,313.1 139.88,314.6 139.96,312.5 140.04,313.7 140.12,310.6 140.20,312.0 140.28,310.0 140.36,311.7 140.44,309.2 140.52,310.2 140.60,308.2 140.68,309.3 140.76,307.0 140.84,307.9 140.92,306.1 141.00,306.8 141.08,304.4 141.16,305.1 141.24,303.1 141.32,304.1 141.40,300.9 141.48,301.5 141.56,299.7 141.64,300.7 141.72,297.8 141.80,299.1 141.88,295.7 141.96,297.3 142.04,294.2 142.12,295.2 142.20,291.8 142.28,292.7 142.36,288.0 142.44,287.0 142.52,282.7 142.60,282.8 142.68,278.3 142.76,277.2 142.84,271.9 142.92,270.3 143.00,264.9 143.08,263.6 143.16,258.6 143.24,256.1 143.32,250.8 143.40,248.4 143.48,243.6 143.56,241.7 143.64,237.3 143.72,235.3 143.80,230.6 143.88,229.0 143.96,223.4 144.04,222.9 144.12,218.7 144.20,218.4 144.28,214.2 144.36,212.4 144.40,210.7 144.44,213.8 144.52,217.4 144.60,224.0 144.68,228.2 144.76,235.7 144.84,238.3 144.92,244.5 145.00,248.7 145.08,255.5 145.16,258.9 145.24,265.8 145.32,269.7 145.40,277.3 145.48,279.6 145.56,286.4 145.64,288.9 145.72,296.2 145.80,299.7 145.88,305.4 145.96,308.2 146.04,313.2 146.12,315.5 146.20,321.7 146.28,322.4 146.36,327.4 146.44,328.1 146.52,332.1 146.60,331.4 146.68,335.5 146.76,334.4 146.84,337.5 146.92,336.9 147.00,339.3 147.08,338.1 147.16,339.6 147.24,338.2 147.32,340.8 147.40,339.3 147.48,340.5 147.56,338.3 147.64,341.0 147.72,339.3 147.80,340.5 147.88,338.4 147.96,340.5 148.04,338.4 148.12,339.6 148.20,337.6 148.28,340.3 148.36,338.4 148.44,338.9 148.52,337.6 148.60,339.1 148.68,336.3 148.76,338.0 148.84,336.3 148.92,337.4 149.00,335.8 149.08,337.9 149.16,335.6 149.24,336.7 149.32,335.1 149.40,336.7 149.48,334.8 149.56,337.3 149.64,336.3 149.72,337.5 149.80,335.8 149.88,338.6 149.96,337.3 150.04,339.0 150.12,337.1 150.20,339.6 150.28,338.0 150.36,339.5 150.44,337.3 150.52,339.0 150.60,337.0 150.68,339.5 150.76,337.9 150.84,339.2 150.92,338.0 151.00,338.8 151.08,337.9 151.16,339.3 151.24,337.8 151.32,339.5 151.40,337.9 151.48,339.4 151.56,338.7 151.64,339.9 151.72,338.0 151.80,340.1 151.88,338.5 151.96,340.3 152.04,338.6 152.12,341.1 152.20,337.9 152.28,340.2 152.36,338.2 152.44,340.0 152.52,338.8 152.60,340.0 152.68,338.3 152.76,341.0 152.84,338.7 152.92,339.9 153.00,338.1 153.08,339.3 153.16,337.1 153.24,339.9 153.32,338.4 153.40,340.0 153.48,338.1 153.56,338.7 153.64,337.8 153.72,340.3 153.80,338.0 153.88,339.8 153.96,337.1 154.04,338.4 154.12,336.6 154.20,338.4 154.28,336.0 154.36,338.4 154.44,336.0 154.52,338.2 154.60,336.1 154.68,338.2 154.76,336.2 154.84,338.3 154.92,335.4 155.00,338.2 155.08,336.2 155.16,337.4 155.24,335.1 155.32,338.0 155.40,336.0 155.48,337.6 155.56,334.8 155.64,336.2 155.72,334.3 155.80,336.4 155.88,334.4 155.96,336.2 156.04,334.2 156.12,335.8 156.20,334.6 156.28,336.2 156.36,334.0 156.44,336.5 156.52,333.8 156.60,335.7 156.68,334.3 156.76,335.6 156.84,334.1 156.92,335.5 157.00,333.4 157.08,335.2 157.16,333.4 157.24,334.9 157.32,334.0 157.40,335.4 157.48,332.9 157.56,334.8 157.64,332.7 157.72,334.2 157.80,332.5 157.88,334.0 157.96,331.9 158.04,332.9 158.12,330.9 158.20,332.8 158.28,331.1 158.36,332.5 158.44,330.8 158.52,332.8 158.60,330.9 158.68,332.1 158.76,330.7 158.84,332.8 158.92,330.3 159.00,332.0 159.08,329.3 159.16,332.2 159.24,330.6 159.32,331.6 159.40,329.5 159.48,331.4 159.56,330.0 159.64,331.7 159.72,330.5 159.80,331.2 159.88,329.4 159.96,330.5 160.04,328.7 160.12,329.6 160.20,327.8 160.28,328.0 160.36,325.2 160.44,326.7 160.52,324.1 160.60,325.2 160.68,323.5 160.76,324.0 160.84,321.5 160.92,323.8 161.00,321.4 161.08,322.8 161.16,321.3 161.24,322.4 161.32,322.4 161.40,323.5 161.48,322.5 161.56,324.6 161.64,323.5 161.72,325.5 161.80,323.6 161.88,326.0 161.96,325.1 162.04,326.9 162.12,325.2 162.20,328.3 162.28,326.5 162.36,328.7 162.44,327.4 162.52,328.6 162.60,327.4 162.68,330.2 162.76,327.5 162.84,330.0 162.92,328.2 163.00,329.9 163.08,328.6 163.16,331.1 163.24,330.0 163.32,331.6 163.40,329.0 163.48,332.2 163.56,330.7 163.64,317.8 163.72,288.0 163.80,260.6 163.88,229.3 163.96,202.5 164.04,172.0 164.12,145.9 164.20,115.9 164.28,89.1 164.30,80.9 164.36,110.4 164.44,146.7 164.52,186.1 164.60,221.8 164.68,262.1 164.76,297.3 164.84,336.7 164.90,363.6 164.92,364.1 165.00,357.0 165.08,353.8 165.16,348.0 165.24,345.2 165.32,338.0 165.40,334.3 165.48,328.1 165.56,325.5 165.64,321.1 165.72,323.1 165.80,319.6 165.88,320.8 165.96,319.0 166.04,319.7 166.12,316.9 166.20,318.9 166.28,316.0 166.36,317.4 166.44,315.3 166.52,316.6 166.60,314.2 166.68,315.0 166.76,313.1 166.84,314.4 166.92,311.2 167.00,313.2 167.08,311.4 167.16,312.7 167.24,310.1 167.32,311.4 167.40,310.5 167.48,311.4 167.56,309.8 167.64,310.7 167.72,309.0 167.80,310.2 167.88,307.6 167.96,308.7 168.04,306.6 168.12,309.1 168.20,306.1 168.28,307.5 168.36,304.4 168.44,306.3 168.52,303.5 168.60,305.0 168.68,302.9 168.76,304.1 168.84,301.7 168.92,303.5 169.00,301.2 169.08,302.8 169.16,299.8 169.24,301.0 169.32,298.6 169.40,298.9 169.48,297.4 169.56,298.3 169.64,295.7 169.72,296.6 169.80,293.1 169.88,294.9 169.96,291.5 170.04,293.7 170.12,291.4 170.20,293.0 170.28,290.2 170.36,291.3 170.44,287.9 170.52,289.4 170.60,286.4 170.68,287.1 170.76,284.3 170.84,284.8 170.92,281.9 171.00,281.6 171.08,278.1 171.16,279.0 171.24,274.9 171.32,273.8 171.40,270.2 171.48,268.6 171.56,265.1 171.64,263.4 171.72,258.8 171.80,257.3 171.88,252.2 171.96,250.7 172.04,245.3 172.12,242.9 172.20,237.9 172.28,237.2 172.36,232.2 172.44,231.2 172.52,226.6 172.60,226.1 172.68,221.4 172.76,220.7 172.84,216.2 172.92,216.6 173.00,212.7 173.08,211.5 173.16,207.2 173.20,206.2 173.24,208.6 173.32,215.8 173.40,219.1 173.48,224.9 173.56,228.9 173.64,235.5 173.72,239.3 173.80,246.5 173.88,250.1 173.96,256.3 174.04,259.9 174.12,267.6 174.20,270.5 174.28,277.3 174.36,280.3 174.44,287.1 174.52,290.0 174.60,296.9 174.68,299.3 174.76,305.5 174.84,308.1 174.92,313.1 175.00,314.3 175.08,319.4 175.16,320.8 175.24,325.5 175.32,324.7 175.40,327.8 175.48,327.0 175.56,330.4 175.64,329.1 175.72,331.5 175.80,329.5 175.88,332.3 175.96,330.0 176.04,332.3 176.12,330.5 176.20,332.6 176.28,330.7 176.36,332.9 176.44,331.3 176.52,333.6 176.60,331.1 176.68,334.1 176.76,332.3 176.84,334.4 176.92,332.1 177.00,333.8 177.08,332.8 177.16,334.1 177.24,332.8 177.32,334.3 177.40,333.4 177.48,334.6 177.56,333.0 177.64,335.2 177.72,332.5 177.80,334.6 177.88,332.5 177.96,334.4 178.04,333.4 178.12,336.2 178.20,334.2 178.28,336.3 178.36,334.1 178.44,335.8 178.52,334.2 178.60,336.2 178.68,334.5 178.76,336.3 178.84,335.4 178.92,337.3 179.00,335.6 179.08,337.2 179.16,336.0 179.24,337.8 179.32,336.3 179.40,338.5 179.48,336.1 179.56,338.2 179.64,336.7 179.72,339.0 179.80,336.6 179.88,339.0 179.96,337.5 180.04,339.6 180.12,337.1 180.20,340.0 180.28,337.4 180.36,339.8 180.44,338.5 180.52,340.4 180.60,338.8 180.68,340.2 180.76,338.5 180.84,340.5 180.92,338.8 181.00,341.6 181.08,340.4 181.16,341.4 181.24,339.9 181.32,342.2 181.40,339.8 181.48,341.9 181.56,340.0 181.64,342.3 181.72,340.4 181.80,341.5 181.88,339.8 181.96,342.1 182.04,339.8 182.12,341.3 182.20,340.1 182.28,342.2 182.36,340.4 182.44,342.8 182.52,340.5 182.60,342.6 182.68,341.2 182.76,343.6 182.84,341.4 182.92,344.0 183.00,342.4 183.08,344.4 183.16,342.4 183.24,345.0 183.32,342.8 183.40,344.4 183.48,342.5 183.56,344.6 183.64,342.4 183.72,345.0 183.80,343.2 183.88,344.9 183.96,343.0 184.04,344.8 184.12,343.1 184.20,345.7 184.28,343.8 184.36,345.0 184.44,343.4 184.52,345.4 184.60,343.8 184.68,345.4 184.76,344.0 184.84,345.4 184.92,343.8 185.00,346.4 185.08,344.1 185.16,346.3 185.24,344.5 185.32,346.7 185.40,344.4 185.48,346.4 185.56,344.9 185.64,347.3 185.72,344.7 185.80,346.4 185.88,344.7 185.96,345.9 186.04,343.9 186.12,345.6 186.20,344.3 186.28,345.3 186.36,343.6 186.44,345.4 186.52,343.2 186.60,345.2 186.68,342.2 186.76,344.4 186.84,343.0 186.92,343.8 187.00,341.3 187.08,343.7 187.16,341.8 187.24,343.3 187.32,340.5 187.40,343.6 187.48,340.6 187.56,342.5 187.64,340.0 187.72,342.2 187.80,341.0 187.88,342.4 187.96,340.9 188.04,342.0 188.12,340.1 188.20,342.5 188.28,340.7 188.36,343.8 188.44,342.0 188.52,344.7 188.60,341.9 188.68,345.0 188.76,344.0 188.84,346.1 188.92,344.7 189.00,347.8 189.08,347.7 189.16,349.8 189.24,347.6 189.32,350.1 189.40,348.6 189.48,350.3 189.56,349.4 189.64,351.0 189.72,349.7 189.80,351.2 189.88,348.5 189.96,350.6 190.04,348.8 190.12,350.3 190.20,349.0 190.28,351.2 190.36,349.3 190.44,350.8 190.52,349.4 190.60,351.1 190.68,349.3 190.76,351.0 190.84,349.0 190.92,351.9 191.00,349.6 191.08,323.1 191.16,292.2 191.24,264.5 191.32,234.1 191.40,208.0 191.48,177.0 191.56,150.1 191.64,119.5 191.70,98.2 191.72,107.5 191.80,148.9 191.88,186.1 191.96,228.1 192.04,265.6 192.12,306.9 192.20,344.6 192.28,385.5 192.30,394.0 192.36,392.0 192.44,385.1 192.52,381.7 192.60,375.8 192.68,372.5 192.76,366.1 192.84,363.4 192.92,356.1 193.00,353.7 193.08,351.5 193.16,353.3 193.24,351.2 193.32,352.5 193.40,349.7 193.48,351.3 193.56,348.4 193.64,350.3 193.72,347.8 193.80,350.5 193.88,347.9 193.96,350.1 194.04,346.9 194.12,348.9 194.20,347.2 194.28,349.1 194.36,347.2 194.44,348.9 194.52,347.3 194.60,347.8 194.68,346.0 194.76,348.2 194.84,345.9 194.92,347.5 195.00,345.5 195.08,346.5 195.16,344.7 195.24,346.9 195.32,344.5 195.40,346.4 195.48,344.6 195.56,346.0 195.64,343.7 195.72,345.8 195.80,343.6 195.88,344.8 195.96,343.3 196.04,345.0 196.12,342.0 196.20,344.6 196.28,342.7 196.36,344.6 196.44,342.4 196.52,343.7 196.60,341.4 196.68,342.5 196.76,340.4 196.84,342.1 196.92,339.7 197.00,341.4 197.08,338.7 197.16,340.2 197.24,337.4 197.32,338.9 197.40,336.3 197.48,338.1 197.56,335.9 197.64,336.9 197.72,335.1 197.80,335.9 197.88,333.7 197.96,334.2 198.04,332.1 198.12,333.6 198.20,330.9 198.28,330.8 198.36,327.7 198.44,327.6 198.52,324.4 198.60,325.0 198.68,322.4 198.76,322.8 198.84,320.2 198.92,319.7 199.00,316.6 199.08,316.6 199.16,312.1 199.24,312.5 199.32,308.2 199.40,307.5 199.48,303.1 199.56,301.8 199.64,297.0 199.72,295.7 199.80,290.0 199.88,288.2 199.96,284.0 200.04,283.0 200.12,276.5 200.20,274.9 200.28,268.0 200.36,266.6 200.44,259.3 200.52,257.0 200.60,250.6 200.68,247.3 200.76,240.5 200.84,236.8 200.90,233.0 200.92,234.5 201.00,239.7 201.08,246.6 201.16,249.8 201.24,257.5 201.32,261.1 201.40,268.6 201.48,271.7 201.56,279.7 201.64,283.6 201.72,290.4 201.80,293.8 201.88,300.9 201.96,305.1 202.04,311.5 202.12,314.7 202.20,321.4 202.28,323.6 202.36,330.4 202.44,331.9 202.52,338.2 202.60,340.5 202.68,345.3 202.76,345.7 202.84,350.7 202.92,350.5 203.00,354.9 203.08,354.5 203.16,357.4 203.24,356.5 203.32,359.3 203.40,358.3 203.48,360.4 203.56,359.7 203.64,361.8 203.72,360.7 203.80,362.9 203.88,360.5 203.96,363.0 204.04,360.6 204.12,362.8 204.20,361.5 204.28,363.3 204.36,361.9 204.44,364.0 204.52,362.1 204.60,364.3 204.68,361.6 204.76,364.1 204.84,361.9 204.92,364.0 205.00,362.8 205.08,364.5 205.16,363.3 205.24,364.5 205.32,363.3 205.40,365.2 205.48,363.4 205.56,364.8 205.64,362.7 205.72,364.8 205.80,362.7 205.88,365.6 205.96,363.1 206.04,364.9 206.12,363.7 206.20,365.1 206.28,364.1 206.36,365.3 206.44,364.0 206.52,366.0 206.60,363.5 206.68,365.7 206.76,362.9 206.84,365.0 206.92,363.1 207.00,364.6 207.08,363.8 207.16,365.5 207.24,363.5 207.32,364.9 207.40,363.9 207.48,365.7 207.56,363.9 207.64,365.1 207.72,363.6 207.80,365.4 207.88,363.3 207.96,366.0 208.04,364.2 208.12,366.0 208.20,364.1 208.28,366.8 208.36,364.1 208.44,366.0 208.52,365.1 208.60,366.8 208.68,365.8 208.76,366.7 208.84,365.1 208.92,367.6 209.00,364.8 209.08,367.2 209.16,364.6 209.24,366.4 209.32,364.9 209.40,366.7 209.48,364.9 209.56,366.5 209.64,364.5 209.72,366.2 209.80,365.1 209.88,366.5 209.96,364.5 210.04,366.4 210.12,363.7 210.20,365.5 210.28,364.6 210.36,365.4 210.44,363.8 210.52,365.4 210.60,362.6 210.68,365.2 210.76,363.5 210.84,364.6 210.92,362.7 211.00,364.9 211.08,362.1 211.16,364.1 211.24,362.4 211.32,364.0 211.40,361.3 211.48,363.2 211.56,361.7 211.64,362.6 211.72,361.3 211.80,362.9 211.88,360.3 211.96,362.8 212.04,360.6 212.12,361.9 212.20,359.7 212.28,361.7 212.36,360.2 212.44,361.1 212.52,359.2 212.60,361.3 212.68,359.4 212.76,360.8 212.84,359.0 212.92,361.2 213.00,358.9 213.08,361.1 213.16,359.5 213.24,360.9 213.32,359.7 213.40,360.6 213.48,359.1 213.56,360.4 213.64,358.3 213.72,359.6 213.80,357.0 213.88,358.6 213.96,357.6 214.04,359.0 214.12,356.2 214.20,358.0 214.28,355.9 214.36,357.7 214.44,356.0 214.52,357.7 214.60,355.5 214.68,357.4 214.76,356.0 214.84,357.6 214.92,355.5 215.00,357.3 215.08,354.7 215.16,357.0 215.24,354.2 215.32,356.3 215.40,353.4 215.48,355.8 215.56,354.2 215.64,355.4 215.72,354.0 215.80,355.6 215.88,353.0 215.96,354.4 216.04,353.0 216.12,354.5 216.20,352.8 216.28,354.2 216.36,351.1 216.44,354.0 216.52,350.5 216.60,352.3 216.68,350.0 216.76,351.1 216.84,349.6 216.92,350.7 217.00,348.2 217.08,349.3 217.16,347.6 217.24,348.8 217.32,347.3 217.40,348.9 217.48,348.2 217.56,350.5 217.64,347.9 217.72,350.9 217.80,349.3 217.88,351.4 217.96,349.8 218.04,353.1 218.12,350.9 218.20,353.3 218.28,352.6 218.36,354.5 218.44,353.9 218.52,355.6 218.60,354.6 218.68,356.7 218.76,355.6 218.84,357.3 218.92,355.8 219.00,357.2 219.08,355.4 219.16,357.6 219.24,355.7 219.32,357.5 219.40,355.3 219.48,357.7 219.56,356.1 219.64,342.9 219.72,309.2 219.80,280.6 219.88,246.9 219.96,218.0 220.04,185.4 220.12,155.7 220.20,122.8 220.28,92.7 220.30,83.8 220.36,115.2 220.44,154.6 220.52,196.6 220.60,235.3 220.68,278.6 220.76,317.4 220.84,360.0 220.90,388.8 220.92,389.3 221.00,384.8 221.08,382.8 221.16,377.9 221.24,376.1 221.32,370.9 221.40,369.2 221.48,363.7 221.56,362.4 221.64,357.8 221.72,358.5 221.80,356.1 221.88,357.7 221.96,354.6 222.04,356.0 222.12,353.9 222.20,356.0 222.28,354.3 222.36,355.0 222.44,353.4 222.52,355.2 222.60,353.1 222.68,354.3 222.76,352.5 222.84,354.4 222.92,351.9 223.00,353.0 223.08,351.3 223.16,352.9 223.24,351.5 223.32,353.5 223.40,351.2 223.48,352.7 223.56,350.4 223.64,351.2 223.72,349.0 223.80,351.7 223.88,349.7 223.96,350.6 224.04,348.3 224.12,349.0 224.20,347.2 224.28,349.0 224.36,346.2 224.44,348.2 224.52,346.3 224.60,346.6 224.68,344.1 224.76,345.7 224.84,343.3 224.92,344.1 225.00,340.8 225.08,341.6 225.16,339.5 225.24,339.7 225.32,336.8 225.40,338.0 225.48,336.0 225.56,336.3 225.64,333.2 225.72,333.5 225.80,330.2 225.88,330.9 225.96,327.8 226.04,327.8 226.12,324.0 226.20,324.2 226.28,320.8 226.36,321.0 226.44,316.9 226.52,316.0 226.60,312.0 226.68,311.5 226.76,307.0 226.84,306.3 226.92,301.4 227.00,299.8 227.08,294.0 227.16,292.2 227.24,286.6 227.32,284.1 227.40,279.0 227.48,276.4 227.56,271.0 227.64,268.8 227.72,261.8 227.80,257.6 227.88,250.2 227.96,246.2 228.04,238.9 228.12,234.7 228.20,227.4 228.28,222.5 228.30,220.6 228.36,225.0 228.44,228.1 228.52,234.7 228.60,238.8 228.68,245.7 228.76,249.0 228.84,256.3 228.92,260.3 229.00,267.5 229.08,270.9 229.16,278.1 229.24,281.2 229.32,289.0 229.40,291.7 229.48,298.4 229.56,301.5 229.64,308.0 229.72,311.2 229.80,317.9 229.88,319.0 229.96,326.1 230.04,327.4 230.12,333.0 230.20,335.5 230.28,340.1 230.36,341.6 230.44,345.7 230.52,346.3 230.60,349.0 230.68,349.0 230.76,350.9 230.84,350.9 230.92,353.4 231.00,352.2 231.08,354.6 231.16,352.9 231.24,355.7 231.32,353.2 231.40,355.3 231.48,354.0 231.56,357.0 231.64,354.5 231.72,356.2 231.80,354.4 231.88,357.3 231.96,355.2 232.04,356.6 232.12,355.3 232.20,358.1 232.28,356.2 232.36,357.8 232.44,355.6 232.52,357.8 232.60,355.7 232.68,357.4 232.76,356.1 232.84,357.3 232.92,355.0 233.00,357.2 233.08,355.2 233.16,357.9 233.24,356.5 233.32,357.7 233.40,355.2 233.48,356.6 233.56,355.2 233.64,358.0 233.72,356.1 233.80,357.8 233.88,356.4 233.96,358.3 234.04,356.3 234.12,357.6 234.20,356.6 234.28,358.2 234.36,357.0 234.44,359.0 234.52,356.1 234.60,358.7 234.68,356.5 234.76,358.8 234.84,357.5 234.92,359.5 235.00,356.9 235.08,359.4 235.16,357.7 235.24,360.4 235.32,358.0 235.40,359.6 235.48,358.1 235.56,359.7 235.64,357.3 235.72,359.7 235.80,357.5 235.88,360.2 235.96,357.1 236.04,358.9 236.12,357.6 236.20,359.4 236.28,358.6 236.36,360.0 236.44,358.0 236.52,360.3 236.60,358.0 236.68,359.7 236.76,358.0 236.84,359.5 236.92,357.5 237.00,360.3 237.08,358.0 237.16,360.0 237.24,358.1 237.32,360.5 237.40,359.4 237.48,361.6 237.56,359.1 237.64,361.6 237.72,359.8 237.80,361.8 237.88,359.7 237.96,362.2 238.04,360.6 238.12,362.8 238.20,360.3 238.28,362.4 238.36,360.8 238.44,362.8 238.52,359.6 238.60,361.8 238.68,359.6 238.76,361.9 238.84,360.3 238.92,362.0 239.00,360.0 239.08,362.1 239.16,359.8 239.24,361.6 239.32,360.6 239.40,362.2 239.48,359.9 239.56,362.4 239.64,360.6 239.72,362.5 239.80,360.0 239.88,362.4 239.96,361.1 240.04,363.3 240.12,362.1 240.20,363.1 240.28,361.9 240.36,363.5 240.44,361.8 240.52,364.2 240.60,362.2 240.68,363.6 240.76,362.0 240.84,364.0 240.92,361.6 241.00,363.9 241.08,361.8 241.16,363.5 241.24,361.0 241.32,363.1 241.40,361.6 241.48,364.0 241.56,361.9 241.64,363.7 241.72,361.5 241.80,362.7 241.88,360.9 241.96,363.0 242.04,360.7 242.12,363.3 242.20,361.1 242.28,362.6 242.36,360.7 242.44,363.2 242.52,360.5 242.60,362.9 242.68,360.9 242.76,363.1 242.84,360.9 242.92,363.2 243.00,360.6 243.08,363.1 243.16,360.6 243.24,362.3 243.32,361.1 243.40,363.1 243.48,361.0 243.56,362.7 243.64,361.2 243.72,363.4 243.80,361.6 243.88,362.8 243.96,360.9 244.04,362.9 244.12,360.8 244.20,362.9 244.28,360.8 244.36,361.9 244.44,360.0 244.52,361.7 244.60,359.5 244.68,361.9 244.76,359.7 244.84,361.4 244.92,358.8 245.00,360.1 245.08,357.5 245.16,360.0 245.24,357.1 245.32,359.2 245.40,356.2 245.48,356.7 245.56,354.3 245.64,355.6 245.72,353.6 245.80,354.9 245.88,353.6 245.96,354.9 246.04,352.5 246.12,354.5 246.20,353.2 246.28,355.1 246.36,353.0 246.44,356.4 246.52,354.1 246.60,356.6 246.68,354.9 246.76,357.1 246.84,356.3 246.92,357.8 247.00,357.4 247.08,359.6 247.16,358.9 247.24,360.5 247.32,358.9 247.40,361.3 247.48,358.9 247.56,361.7 247.64,358.9 247.72,361.2 247.80,358.5 247.88,360.2 247.96,357.9 248.04,360.0 248.12,357.5 248.20,360.1 248.28,358.4 248.36,360.8 248.44,359.2 248.52,362.1 248.60,361.7 248.68,331.7 248.76,299.2 248.84,268.8 248.92,235.7 249.00,206.3 249.08,174.3 249.16,144.7 249.24,111.5 249.30,89.2 249.32,98.7 249.40,140.1 249.48,178.6 249.56,220.9 249.64,260.0 249.72,301.2 249.80,339.4 249.88,381.9 249.90,389.8 249.96,387.6 250.04,381.0 250.12,378.9 250.20,372.0 250.28,369.9 250.36,364.4 250.44,361.1 250.52,355.3 250.60,353.2 250.68,350.8 250.76,351.8 250.84,349.5 250.92,351.6 251.00,349.0 251.08,350.5 251.16,347.9 251.24,349.8 251.32,346.7 251.40,348.6 251.48,346.5 251.56,347.6 251.64,345.5 251.72,346.0 251.80,344.6 251.88,345.8 251.96,343.7 252.04,345.1 252.12,343.0 252.20,343.5 252.28,341.4 252.36,343.3 252.44,341.1 252.52,342.7 252.60,341.2 252.68,342.3 252.76,340.2 252.84,341.7 252.92,339.6 253.00,342.1 253.08,339.7 253.16,341.3 253.24,339.9 253.32,340.4 253.40,338.6 253.48,340.7 253.56,338.4 253.64,339.8 253.72,337.2 253.80,338.3 253.88,336.8 253.96,337.8 254.04,334.9 254.12,336.2 254.20,333.9 254.28,335.0 254.36,332.9 254.44,333.7 254.52,331.2 254.60,332.1 254.68,330.1 254.76,331.2 254.84,328.3 254.92,329.9 255.00,326.5 255.08,328.0 255.16,325.6 255.24,326.4 255.32,324.1 255.40,324.8 255.48,322.8 255.56,323.4 255.64,321.6 255.72,322.4 255.80,319.0 255.88,320.3 255.96,317.9 256.04,318.3 256.12,315.7 256.20,316.3 256.28,312.9 256.36,313.4 256.44,310.4 256.52,311.8 256.60,308.2 256.68,308.4 256.76,303.6 256.84,303.6 256.92,300.0 257.00,299.1 257.08,293.3 257.16,292.0 257.24,287.4 257.32,284.8 257.40,279.3 257.48,277.7 257.56,272.2 257.64,270.0 257.72,263.3 257.80,261.2 257.88,255.8 257.96,254.6 258.04,248.8 258.12,247.1 258.20,241.4 258.28,241.0 258.36,236.0 258.44,234.5 258.52,230.8 258.60,229.9 258.68,225.6 258.70,225.2 258.76,229.0 258.84,235.9 258.92,239.0 259.00,246.8 259.08,250.0 259.16,257.4 259.24,261.0 259.32,268.9 259.40,272.6 259.48,278.9 259.56,283.1 259.64,289.7 259.72,293.0 259.80,300.6 259.88,303.4 259.96,310.3 260.04,313.6 260.12,319.3 260.20,321.8 260.28,328.5 260.36,331.0 260.44,337.0 260.52,339.4 260.60,343.8 260.68,344.5 260.76,348.5 260.84,349.1 260.92,352.9 261.00,352.4 261.08,355.1 261.16,354.2 261.24,356.8 261.32,355.0 261.40,357.3 261.48,355.5 261.56,358.5 261.64,356.6 261.72,358.6 261.80,356.6 261.88,358.7 261.96,356.3 262.04,359.0 262.12,356.1 262.20,358.7 262.28,356.4 262.36,358.6 262.44,356.6 262.52,358.8 262.60,355.9 262.68,358.0 262.76,357.4 262.84,359.2 262.92,357.6 263.00,359.4 263.08,357.4 263.16,359.6 263.24,357.5 263.32,360.2 263.40,357.8 263.48,359.3 263.56,357.9 263.64,358.6 263.72,356.9 263.80,359.0 263.88,356.5 263.96,358.8 264.04,356.8 264.12,358.9 264.20,357.0 264.28,360.0 264.36,358.0 264.44,360.4 264.52,357.6 264.60,360.1 264.68,357.3 264.76,359.6 264.84,357.6 264.92,359.4 265.00,357.6 265.08,360.4 265.16,358.3 265.24,360.0 265.32,358.7 265.40,359.9 265.48,359.1 265.56,360.4 265.64,358.9 265.72,360.1 265.80,358.7 265.88,359.9 265.96,357.9 266.04,359.5 266.12,358.3 266.20,360.4 266.28,359.2 266.36,360.9 266.44,358.5 266.52,361.6 266.60,359.2 266.68,361.6 266.76,359.7 266.84,361.6 266.92,360.0 267.00,361.3 267.08,358.5 267.16,361.1 267.24,358.8 267.32,359.5 267.40,357.4 267.48,359.8 267.56,357.6 267.64,359.5 267.72,357.7 267.80,359.8 267.88,357.7 267.96,358.9 268.04,357.4 268.12,359.2 268.20,358.1 268.28,359.4 268.36,357.1 268.44,358.3 268.52,356.8 268.60,359.3 268.68,357.0 268.76,358.8 268.84,357.1 268.92,358.7 269.00,356.0 269.08,357.9 269.16,355.5 269.24,357.9 269.32,354.6 269.40,356.7 269.48,354.6 269.56,356.5 269.64,353.8 269.72,356.4 269.80,353.8 269.88,355.8 269.96,353.4 270.04,355.5 270.12,353.9 270.20,355.2 270.28,354.0 270.36,355.9 270.44,354.4 270.52,355.1 270.60,353.6 270.68,355.8 270.76,353.8 270.84,354.8 270.92,352.7 271.00,355.1 271.08,352.7 271.16,355.1 271.24,353.3 271.32,354.8 271.40,352.2 271.48,354.1 271.56,351.5 271.64,352.9 271.72,351.8 271.80,353.2 271.88,350.8 271.96,352.4 272.04,351.2 272.12,352.6 272.20,350.6 272.28,352.3 272.36,350.4 272.44,352.4 272.52,350.3 272.60,351.7 272.68,350.2 272.76,352.0 272.84,349.5 272.92,350.9 273.00,349.2 273.08,352.0 273.16,350.2 273.24,352.2 273.32,350.2 273.40,352.2 273.48,349.8 273.56,351.7 273.64,349.8 273.72,351.1 273.80,348.8 273.88,350.1 273.96,347.7 274.04,349.1 274.12,347.6 274.20,348.7 274.28,346.9 274.36,348.7 274.44,347.0 274.52,348.7 274.60,347.3 274.68,349.5 274.76,347.1 274.84,349.2 274.92,347.6 275.00,349.7 275.08,347.6 275.16,348.5 275.24,347.1 275.32,348.3 275.40,347.1 275.48,348.6 275.56,346.1 275.64,347.4 275.72,345.6 275.80,347.1 275.88,344.9 275.96,346.4 276.04,343.6 276.12,346.0 276.20,342.6 276.28,344.6 276.36,341.6 276.44,343.0 276.52,340.4 276.60,341.3 276.68,338.6 276.76,339.7 276.84,338.8 276.92,340.1 277.00,338.2 277.08,340.0 277.16,337.5 277.24,339.8 277.32,337.7 277.40,340.4 277.48,338.4 277.56,340.6 277.64,337.9 277.72,340.3 277.80,339.2 277.88,341.3 277.96,340.3 278.04,342.1 278.12,340.1 278.20,342.5 278.28,341.9 278.36,344.6 278.44,343.0 278.52,344.2 278.60,343.0 278.68,345.5 278.76,343.8 278.84,345.3 278.92,344.5 279.00,346.4 279.08,343.9 279.16,345.3 279.24,343.6 279.32,345.8 279.40,343.7 279.48,346.1 279.56,345.0 279.64,346.4 279.72,345.8 279.80,347.8 279.88,344.7 279.96,347.8 280.04,346.0 280.12,347.9 280.20,346.7 280.28,318.3 280.36,285.3 280.44,257.7 280.52,225.4 280.60,198.3 280.68,165.6 280.76,137.7 280.84,105.9 280.90,85.0 280.92,93.4 281.00,133.9 281.08,170.6 281.16,210.1 281.24,246.9 281.32,288.1 281.40,324.0 281.48,364.2 281.50,372.8 281.56,371.4 281.64,364.9 281.72,363.1 281.80,357.6 281.88,355.1 281.96,348.1 282.04,346.3 282.12,339.1 282.20,337.4 282.28,335.4 282.36,336.9 282.44,333.6 282.52,335.2 282.60,332.6 282.68,333.8 282.76,332.0 282.84,333.7 282.92,330.9 283.00,332.5 283.08,330.2 283.16,331.8 283.24,329.8 283.32,331.5 283.40,329.1 283.48,329.9 283.56,328.3 283.64,329.2 283.72,326.9 283.80,327.7 283.88,325.3 283.96,326.6 284.04,324.5 284.12,326.1 284.20,324.0 284.28,324.9 284.36,322.6 284.44,324.4 284.52,321.9 284.60,324.2 284.68,322.1 284.76,323.5 284.84,320.7 284.92,322.3 285.00,320.0 285.08,320.7 285.16,317.7 285.24,319.3 285.32,316.2 285.40,317.5 285.48,315.0 285.56,316.8 285.64,314.1 285.72,315.9 285.80,313.2 285.88,315.1 285.96,311.7 286.04,313.7 286.12,310.8 286.20,311.6 286.28,309.5 286.36,310.7 286.44,307.4 286.52,308.8 286.60,306.3 286.68,307.8 286.76,305.8 286.84,306.7 286.92,304.0 287.00,305.5 287.08,303.3 287.16,303.9 287.24,300.9 287.32,301.6 287.40,298.8 287.48,299.2 287.56,296.3 287.64,297.1 287.72,292.3 287.80,292.0 287.88,288.0 287.96,286.9 288.04,282.5 288.12,282.4 288.20,276.6 288.28,276.1 288.36,270.0 288.44,268.5 288.52,262.9 288.60,261.0 288.68,255.3 288.76,252.8 288.84,247.6 288.92,245.7 289.00,241.3 289.08,239.1 289.16,233.9 289.24,232.3 289.32,226.9 289.40,225.9 289.48,220.9 289.56,220.7 289.64,215.8 289.72,214.5 289.80,210.7 289.80,211.1 289.88,216.0 289.96,220.7 290.04,223.7 290.12,232.2 290.20,235.1 290.28,242.5 290.36,245.9 290.44,253.7 290.52,257.3 290.60,263.8 290.68,267.3 290.76,275.0 290.84,278.6 290.92,285.4 291.00,288.4 291.08,295.7 291.16,298.0 291.24,305.0 291.32,306.6 291.40,313.2 291.48,315.9 291.56,319.6 291.64,320.9 291.72,326.0 291.80,325.8 291.88,330.4 291.96,330.5 292.04,333.6 292.12,332.1 292.20,335.6 292.28,333.9 292.36,337.0 292.44,335.5 292.52,338.2 292.60,336.2 292.68,338.9 292.76,337.7 292.84,339.0 292.92,338.8 293.00,341.1 293.08,339.3 293.16,340.9 293.24,339.8 293.32,341.6 293.40,340.0 293.48,342.2 293.56,339.7 293.64,342.6 293.72,340.0 293.80,342.2 293.88,341.4 293.96,343.5 294.04,341.7 294.12,343.1 294.20,341.5 294.28,343.6 294.36,341.5 294.44,342.8 294.52,340.6 294.60,342.4 294.68,339.3 294.76,340.8 294.84,338.9 294.92,340.5 295.00,338.5 295.08,340.9 295.16,338.3 295.24,341.0 295.32,338.8 295.40,340.4 295.48,338.7 295.56,340.6 295.64,339.2 295.72,341.1 295.80,338.8 295.88,340.9 295.96,338.3 296.04,340.4 296.12,338.1 296.20,341.0 296.28,338.5 296.36,340.7 296.44,337.9 296.52,339.8 296.60,338.4 296.68,340.1 296.76,338.0 296.84,340.0 296.92,338.1 297.00,339.6 297.08,338.2 297.16,339.7 297.24,339.5 297.32,341.1 297.40,339.4 297.48,341.4 297.56,339.5 297.64,342.3 297.72,340.4 297.80,343.3 297.88,341.0 297.96,343.0 298.04,341.8 298.12,344.0 298.20,341.8 298.28,343.8 298.36,341.9 298.44,342.9 298.52,341.1 298.60,343.2 298.68,341.2 298.76,343.3 298.84,341.3 298.92,343.7 299.00,341.5 299.08,343.1 299.16,341.9 299.24,343.5 299.32,341.3 299.40,343.3 299.48,341.5 299.56,342.8 299.64,341.5 299.72,342.9 299.80,340.4 299.88,342.4 299.96,340.3 300.04,342.0 300.12,340.2 300.20,341.5 300.28,339.3 300.36,341.1 300.44,339.1 300.52,341.6 300.60,339.8 300.68,340.8 300.76,339.8 300.84,341.3 300.92,340.1 301.00,341.8 301.08,339.8 301.16,341.5 301.24,339.7 301.32,340.3 301.40,338.6 301.48,340.1 301.56,338.3 301.64,340.2 301.72,338.1 301.80,339.4 301.88,337.8 301.96,339.8 302.04,337.7 302.12,340.2 302.20,338.8 302.28,339.9 302.36,337.8 302.44,340.2 302.52,338.7 302.60,340.5 302.68,338.0 302.76,340.1 302.84,338.0 302.92,338.9 303.00,336.8 303.08,337.2 303.16,334.5 303.24,336.1 303.32,334.1 303.40,335.3 303.48,331.5 303.56,333.9 303.64,331.2 303.72,331.8 303.80,330.0 303.88,331.0 303.96,328.2 304.04,330.9 304.12,327.2 304.20,329.0 304.28,327.1 304.36,327.9 304.44,326.5 304.52,327.4 304.60,326.5 304.68,328.1 304.76,327.1 304.84,328.8 304.92,328.4 305.00,330.3 305.08,330.1 305.16,332.2 305.24,330.3 305.32,333.4 305.40,331.8 305.48,334.7 305.56,333.3 305.64,335.7 305.72,334.3 305.80,335.4 305.88,334.0 305.96,336.2 306.04,335.2 306.12,336.8 306.20,335.0 306.28,337.2 306.36,334.8 306.44,336.7 306.52,334.5 306.60,336.9 306.68,334.7 306.76,336.5 306.84,334.2 306.92,337.1 307.00,335.2 307.08,338.0 307.16,335.6 307.24,338.7 307.32,337.7 307.40,340.9 307.48,307.7 307.56,278.2 307.64,245.3 307.72,215.9 307.80,182.5 307.88,153.8 307.96,120.0 308.04,91.2 308.10,67.2 308.12,77.7 308.20,115.6 308.28,157.8 308.36,196.0 308.44,238.0 308.52,276.9 308.60,317.9 308.68,356.7 308.70,368.6 308.76,363.1 308.84,362.1 308.92,356.6 309.00,353.7 309.08,349.4 309.16,347.5 309.24,341.8 309.32,340.1 309.40,334.6 309.48,335.6 309.56,333.9 309.64,335.4 309.72,333.7 309.80,335.2 309.88,332.0 309.96,333.3 310.04,331.6 310.12,332.3 310.20,328.5 310.28,328.8 310.36,326.2 310.44,326.8 310.52,323.5 310.60,325.0 310.68,321.9 310.76,323.6 310.84,321.0 310.92,322.4 311.00,320.2 311.08,322.0 311.16,319.4 311.24,320.5 311.32,318.0 311.40,319.9 311.48,317.4 311.56,318.9 311.64,315.3 311.72,317.0 311.80,314.9 311.88,315.7 311.96,312.9 312.04,314.0 312.12,312.0 312.20,313.4 312.28,311.5 312.36,311.6 312.44,310.0 312.52,311.5 312.60,308.5 312.68,309.4 312.76,307.6 312.84,308.7 312.92,305.6 313.00,306.3 313.08,303.2 313.16,305.1 313.24,301.4 313.32,302.9 313.40,300.0 313.48,300.0 313.56,297.7 313.64,298.9 313.72,296.0 313.80,296.4 313.88,292.9 313.96,293.3 314.04,289.9 314.12,289.6 314.20,286.1 314.28,284.6 314.36,279.6 314.44,278.7 314.52,273.4 314.60,272.4 314.68,266.8 314.76,265.1 314.84,258.9 314.92,256.8 315.00,251.2 315.08,249.9 315.16,244.7 315.24,242.7 315.32,237.1 315.40,235.1 315.48,229.7 315.56,227.4 315.64,223.2 315.72,221.8 315.80,215.9 315.88,216.0 315.96,210.8 316.04,208.8 316.10,206.3 316.12,208.3 316.20,214.3 316.28,223.4 316.36,227.6 316.44,236.4 316.52,241.0 316.60,249.7 316.68,254.6 316.76,263.8 316.84,267.4 316.92,276.9 317.00,279.6 317.08,287.1 317.16,291.4 317.24,299.2 317.32,302.4 317.40,309.4 317.48,312.3 317.56,317.5 317.64,319.7 317.72,324.1 317.80,325.7 317.88,329.9 317.96,330.1 318.04,333.8 318.12,333.9 318.20,337.0 318.28,335.3 318.36,337.1 318.44,336.5 318.52,338.5 318.60,337.6 318.68,339.2 318.76,337.8 318.84,340.3 318.92,339.0 319.00,341.4 319.08,339.3 319.16,341.5 319.24,340.8 319.32,342.7 319.40,340.6 319.48,342.5 319.56,341.2 319.64,342.4 319.72,340.9 319.80,342.8 319.88,341.6 319.96,343.5 320.04,340.4 320.12,342.0 320.20,340.2 320.28,342.5 320.36,340.8 320.44,343.0 320.52,341.8 320.60,344.2 320.68,342.2 320.76,344.7 320.84,343.3 320.92,344.8 321.00,343.5 321.08,345.0 321.16,343.0 321.24,346.1 321.32,344.2 321.40,345.5 321.48,343.2 321.56,345.0 321.64,343.2 321.72,346.2 321.80,344.5 321.88,346.4 321.96,344.4 322.04,345.4 322.12,343.9 322.20,345.7 322.28,344.9 322.36,346.1 322.44,343.7 322.52,345.5 322.60,344.1 322.68,347.3 322.76,344.3 322.84,347.1 322.92,345.1 323.00,347.0 323.08,345.3 323.16,347.8 323.24,346.2 323.32,348.0 323.40,346.5 323.48,347.3 323.56,346.1 323.64,348.3 323.72,345.7 323.80,347.5 323.88,345.5 323.96,347.2 324.04,345.4 324.12,348.0 324.20,346.3 324.28,348.3 324.36,346.3 324.44,348.0 324.52,347.6 324.60,348.9 324.68,347.3 324.76,348.9 324.84,347.3 324.92,348.9 325.00,346.9 325.08,349.3 325.16,347.7 325.24,349.0 325.32,347.0 325.40,349.4 325.48,347.4 325.56,350.3 325.64,348.6 325.72,350.6 325.80,348.2 325.88,349.8 325.96,348.5 326.04,350.6 326.12,348.5 326.20,351.1 326.28,349.4 326.36,351.2 326.44,349.0 326.52,351.2 326.60,349.3 326.68,351.3 326.76,348.5 326.84,350.4 326.92,349.0 327.00,350.2 327.08,348.9 327.16,350.4 327.24,348.4 327.32,350.8 327.40,349.2 327.48,351.6 327.56,350.2 327.64,351.5 327.72,349.3 327.80,351.4 327.88,350.3 327.96,351.8 328.04,350.4 328.12,352.2 328.20,351.2 328.28,353.0 328.36,350.9 328.44,353.3 328.52,351.6 328.60,353.3 328.68,352.4 328.76,353.8 328.84,351.6 328.92,353.6 329.00,351.2 329.08,352.9 329.16,351.2 329.24,353.8 329.32,351.4 329.40,353.9 329.48,351.9 329.56,353.8 329.64,352.2 329.72,354.1 329.80,351.6 329.88,354.6 329.96,352.6 330.04,353.9 330.12,352.5 330.20,354.7 330.28,353.1 330.36,355.0 330.44,352.2 330.52,354.8 330.60,352.7 330.68,354.3 330.76,352.7 330.84,355.6 330.92,353.6 331.00,355.4 331.08,353.5 331.16,355.0 331.24,353.6 331.32,355.6 331.40,353.9 331.48,355.7 331.56,353.9 331.64,355.2 331.72,353.9 331.80,355.7 331.88,353.9 331.96,355.1 332.04,352.8 332.12,355.0 332.20,353.0 332.28,354.3 332.36,351.7 332.44,353.5 332.52,351.2 332.60,353.0 332.68,351.2 332.76,351.9 332.84,349.6 332.92,351.3 333.00,348.5 333.08,350.6 333.16,348.1 333.24,349.8 333.32,347.4 333.40,349.4 333.48,347.8 333.56,349.0 333.64,347.2 333.72,350.0 333.80,348.0 333.88,349.9 333.96,347.9 334.04,350.6 334.12,349.3 334.20,351.5 334.28,350.1 334.36,351.7 334.44,350.7 334.52,352.9 334.60,350.6 334.68,352.9 334.76,351.2 334.84,354.1 334.92,352.4 335.00,353.7 335.08,351.9 335.16,354.1 335.24,352.5 335.32,354.7 335.40,353.0 335.48,354.8 335.56,353.2 335.64,355.4 335.72,353.2 335.80,355.7 335.88,354.4 335.96,357.4 336.04,340.6 336.12,311.9 336.20,279.0 336.28,251.0 336.36,217.5 336.44,189.1 336.52,156.9 336.60,127.8 336.68,94.3 336.70,87.5 336.76,116.9 336.84,157.1 336.92,194.8 337.00,235.7 337.08,274.8 337.16,315.4 337.24,352.8 337.30,384.3 337.32,381.3 337.40,381.1 337.48,376.0 337.56,375.1 337.64,370.1 337.72,369.4 337.80,364.5 337.88,362.7 337.96,358.5 338.04,358.9 338.12,356.9 338.20,358.2 338.28,355.5 338.36,356.3 338.44,354.1 338.52,355.5 338.60,353.5 338.68,354.5 338.76,352.2 338.84,353.3 338.92,351.1 339.00,353.7 339.08,351.2 339.16,353.3 339.24,351.0 339.32,351.8 339.40,349.7 339.48,351.8 339.56,350.1 339.64,351.6 339.72,348.6 339.80,350.5 339.88,348.8 339.96,349.5 340.04,348.5 340.12,349.5 340.20,348.3 340.28,349.2 340.36,347.0 340.44,348.2 340.52,346.5 340.60,348.3 340.68,345.7 340.76,347.7 340.84,344.7 340.92,346.2 341.00,343.7 341.08,345.1 341.16,342.9 341.24,344.3 341.32,341.6 341.40,342.5 341.48,340.0 341.56,341.1 341.64,339.2 341.72,340.9 341.80,338.2 341.88,338.9 341.96,336.4 342.04,337.9 342.12,336.1 342.20,337.2 342.28,334.3 342.36,336.0 342.44,332.1 342.52,333.5 342.60,330.4 342.68,330.4 342.76,327.7 342.84,328.9 342.92,325.4 343.00,325.8 343.08,323.1 343.16,322.6 343.24,320.1 343.32,320.7 343.40,317.2 343.48,317.6 343.56,314.8 343.64,314.0 343.72,311.0 343.80,309.4 343.88,304.7 343.96,304.6 344.04,300.2 344.12,298.6 344.20,293.4 344.28,292.7 344.36,286.8 344.44,285.2 344.52,280.0 344.60,278.9 344.68,273.4 344.76,272.5 344.84,266.6 344.92,264.7 345.00,257.8 345.08,255.5 345.16,249.6 345.24,247.1 345.32,241.5 345.40,239.1 345.48,232.7 345.56,230.0 345.60,227.5 345.64,230.3 345.72,234.3 345.80,241.6 345.88,244.6 345.96,250.7 346.04,254.0 346.12,260.9 346.20,262.6 346.28,269.1 346.36,272.0 346.44,279.5 346.52,282.5 346.60,288.5 346.68,291.5 346.76,298.0 346.84,300.3 346.92,307.2 347.00,310.0 347.08,316.2 347.16,318.8 347.24,324.5 347.32,327.5 347.40,332.5 347.48,334.5 347.56,338.9 347.64,339.5 347.72,344.5 347.80,344.3 347.88,348.0 347.96,346.9 348.04,350.1 348.12,349.2 348.20,351.5 348.28,350.5 348.36,352.7 348.44,352.3 348.52,353.8 348.60,352.0 348.68,354.7 348.76,352.8 348.84,355.4 348.92,352.6 349.00,355.1 349.08,353.1 349.16,355.2 349.24,354.1 349.32,356.1 349.40,354.6 349.48,356.2 349.56,354.7 349.64,356.6 349.72,355.4 349.80,357.4 349.88,355.5 349.96,357.7 350.04,355.7 350.12,358.6 350.20,356.5 350.28,358.8 350.36,356.8 350.44,358.3 350.52,356.4 350.60,358.8 350.68,357.1 350.76,358.9 350.84,357.1 350.92,357.8 351.00,356.5 351.08,358.1 351.16,356.8 351.24,358.9 351.32,357.4 351.40,359.7 351.48,356.8 351.56,359.2 351.64,357.9 351.72,359.9 351.80,358.3 351.88,359.9 351.96,357.7 352.04,359.1 352.12,357.5 352.20,359.9 352.28,357.8 352.36,359.4 352.44,358.0 352.52,359.3 352.60,357.5 352.68,359.9 352.76,357.5 352.84,359.8 352.92,357.6 353.00,359.6 353.08,358.8 353.16,360.4 353.24,358.3 353.32,360.7 353.40,359.0 353.48,361.9 353.56,360.3 353.64,362.6 353.72,360.3 353.80,361.6 353.88,359.7 353.96,361.9 354.04,359.3 354.12,361.3 354.20,360.0 354.28,361.5 354.36,359.9 354.44,361.4 354.52,360.1 354.60,362.2 354.68,361.1 354.76,362.5 354.84,361.5 354.92,363.5 355.00,361.6 355.08,363.1 355.16,361.0 355.24,363.3 355.32,360.5 355.40,362.2 355.48,360.8 355.56,363.4 355.64,360.6 355.72,362.9 355.80,361.4 355.88,362.3 355.96,361.2 356.04,363.6 356.12,361.9 356.20,363.2 356.28,361.6 356.36,363.5 356.44,362.2 356.52,364.3 356.60,361.8 356.68,364.7 356.76,362.1 356.84,364.3 356.92,361.1 357.00,362.5 357.08,361.1 357.16,362.5 357.24,360.4 357.32,362.1 357.40,359.9 357.48,362.0 357.56,359.9 357.64,362.1 357.72,359.9 357.80,362.9 357.88,360.8 357.96,362.7 358.04,361.0 358.12,362.0 358.20,360.6 358.28,363.2 358.36,360.6 358.44,362.5 358.52,360.3 358.60,362.6 358.68,360.3 358.76,362.0 358.84,359.5 358.92,361.7 359.00,359.2 359.08,361.9 359.16,359.5 359.24,362.1 359.32,358.9 359.40,361.8 359.48,358.9 359.56,360.5 359.64,358.8 359.72,361.5 359.80,358.7 359.88,359.9 359.96,358.8 360.04,359.7 360.12,357.9 360.20,360.5 360.28,358.9 360.36,360.6 360.44,358.6 360.52,359.7 360.60,359.1 360.68,360.3 360.76,358.4 360.84,360.9 360.92,358.6 361.00,360.5 361.08,358.1 361.16,359.9 361.24,357.8 361.32,359.6 361.40,356.9 361.48,359.7 361.56,356.2 361.64,357.9 361.72,356.5 361.80,358.3 361.88,355.4 361.96,357.1 362.04,355.4 362.12,357.1 362.20,355.5 362.28,356.5 362.36,356.0 362.44,357.3 362.52,354.8 362.60,356.7 362.68,354.1 362.76,355.6 362.84,353.7 362.92,355.8 363.00,352.5 363.08,354.5 363.16,351.6 363.24,352.8 363.32,350.7 363.40,352.5 363.48,350.2 363.56,352.2 363.64,349.3 363.72,351.8 363.80,349.6 363.88,352.1 363.96,350.5 364.04,352.9 364.12,351.6 364.20,354.4 364.28,352.5 364.36,355.5 364.44,354.6 364.52,355.8 364.60,354.4 364.68,357.4 364.76,355.4 364.84,357.4 364.92,355.9 365.00,357.3 365.08,355.3 365.16,357.0 365.24,354.8 365.32,357.9 365.40,356.2 365.48,358.3 365.56,356.5 365.64,358.0 365.72,357.1 365.80,359.5 365.88,357.9 365.96,336.9 366.04,303.5 366.12,272.2 366.20,238.8 366.28,209.2 366.36,175.3 366.44,145.8 366.52,111.5 366.60,81.9 366.60,80.8 366.68,122.0 366.76,160.6 366.84,202.7 366.92,241.6 367.00,283.5 367.08,321.4 367.16,363.5 367.20,382.5 367.24,381.6 367.32,375.5 367.40,373.2 367.48,366.8 367.56,364.0 367.64,357.8 367.72,354.7 367.80,348.9 367.88,345.6 367.96,342.6 368.04,344.3 368.12,341.8 368.20,342.5 368.28,340.1 368.36,341.5 368.44,340.2 368.52,341.3 368.60,339.1 368.68,340.3 368.76,338.0 368.84,340.3 368.92,336.8 369.00,339.0 369.08,336.7 369.16,338.9 369.24,336.1 369.32,338.3 369.40,335.9 369.48,337.3 369.56,335.0 369.64,335.9 369.72,334.4 369.80,336.0 369.88,333.4 369.96,334.9 370.04,332.6 370.12,333.4 370.20,331.7 370.28,333.4 370.36,331.2 370.44,332.9 370.52,330.3 370.60,331.7 370.68,329.0 370.76,330.5 370.84,328.5 370.92,329.6 371.00,327.4 371.08,327.8 371.16,325.7 371.24,327.1 371.32,325.2 371.40,325.9 371.48,323.3 371.56,324.7 371.64,322.9 371.72,323.0 371.80,321.1 371.88,322.4 371.96,320.2 372.04,321.7 372.12,319.2 372.20,320.3 372.28,317.6 372.36,318.2 372.44,315.6 372.52,316.8 372.60,314.4 372.68,315.2 372.76,312.7 372.84,312.7 372.92,310.8 373.00,312.3 373.08,309.2 373.16,309.7 373.24,307.1 373.32,308.4 373.40,305.3 373.48,306.2 373.56,302.4 373.64,303.3 373.72,300.1 373.80,300.1 373.88,296.3 373.96,295.4 374.04,291.7 374.12,289.9 374.20,284.3 374.28,284.0 374.36,278.0 374.44,276.6 374.52,271.0 374.60,269.4 374.68,262.6 374.76,261.5 374.84,255.6 374.92,254.6 375.00,249.2 375.08,246.8 375.16,242.6 375.24,241.0 375.32,234.3 375.40,234.3 375.48,230.2 375.56,228.8 375.64,224.5 375.72,224.0 375.80,219.7 375.80,219.9 375.88,225.2 375.96,233.0 376.04,236.8 376.12,243.4 376.20,247.4 376.28,254.3 376.36,257.9 376.44,264.9 376.52,268.0 376.60,275.2 376.68,278.6 376.76,285.8 376.84,288.4 376.92,295.6 377.00,298.5 377.08,304.5 377.16,307.8 377.24,314.7 377.32,316.8 377.40,323.1 377.48,325.3 377.56,330.9 377.64,331.9 377.72,336.2 377.80,336.1 377.88,340.6 377.96,339.4 378.04,342.7 378.12,341.9 378.20,345.0 378.28,343.0 378.36,345.4 378.44,344.5 378.52,347.1 378.60,344.8 378.68,347.2 378.76,345.4 378.84,347.5 378.92,345.1 379.00,347.8 379.08,346.1 379.16,348.4 379.24,345.8 379.32,348.0 379.40,346.9 379.48,349.0 379.56,347.0 379.64,349.9 379.72,348.3 379.80,349.5 379.88,347.7 379.96,350.3 380.04,348.7 380.12,350.1 380.20,348.0 380.28,350.0 380.36,347.6 380.44,348.6 380.52,346.8 380.60,348.4 380.68,346.5 380.76,347.9 380.84,346.7 380.92,348.3 381.00,347.2 381.08,349.2 381.16,347.6 381.24,349.2 381.32,346.6 381.40,348.9 381.48,347.3 381.56,349.1 381.64,347.3 381.72,348.0 381.80,346.1 381.88,348.0 381.96,346.2 382.04,347.8 382.12,345.8 382.20,347.8 382.28,346.3 382.36,348.2 382.44,346.1 382.52,347.8 382.60,346.3 382.68,347.7 382.76,345.7 382.84,348.1 382.92,345.4 383.00,347.7 383.08,345.5 383.16,347.5 383.24,345.5 383.32,347.4 383.40,345.2 383.48,347.1 383.56,344.9 383.64,347.2 383.72,344.8 383.80,347.4 383.88,345.9 383.96,347.3 384.04,345.3 384.12,346.5 384.20,344.9 384.28,347.7 384.36,345.7 384.44,346.4 384.52,345.2 384.60,346.7 384.68,345.0 384.76,346.4 384.84,344.1 384.92,346.5 385.00,344.3 385.08,345.2 385.16,344.1 385.24,346.4 385.32,344.0 385.40,346.3 385.48,343.8 385.56,345.5 385.64,343.1 385.72,344.9 385.80,343.7 385.88,345.3 385.96,343.6 386.04,344.5 386.12,343.4 386.20,344.6 386.28,342.9 386.36,344.3 386.44,342.9 386.52,344.1 386.60,342.2 386.68,343.3 386.76,341.6 386.84,344.3 386.92,342.1 387.00,343.8 387.08,342.9 387.16,344.0 387.24,341.9 387.32,344.2 387.40,342.1 387.48,344.3 387.56,342.6 387.64,343.4 387.72,341.3 387.80,343.0 387.88,340.8 387.96,342.3 388.04,340.2 388.12,342.0 388.20,339.7 388.28,341.6 388.36,339.7 388.44,341.5 388.52,339.5 388.60,340.8 388.68,339.0 388.76,340.0 388.84,337.8 388.92,340.5 389.00,339.0 389.08,341.4 389.16,338.5 389.24,340.2 389.32,337.6 389.40,339.2 389.48,337.5 389.56,339.0 389.64,337.2 389.72,338.1 389.80,335.2 389.88,336.1 389.96,333.5 390.04,335.3 390.12,333.0 390.20,333.5 390.28,331.7 390.36,332.9 390.44,331.3 390.52,333.1 390.60,330.5 390.68,332.8 390.76,329.8 390.84,332.9 390.92,330.8 391.00,333.4 391.08,330.7 391.16,333.0 391.24,331.0 391.32,333.3 391.40,331.8 391.48,334.3 391.56,332.6 391.64,335.3 391.72,333.0 391.80,335.7 391.88,335.5 391.96,336.9 392.04,335.7 392.12,337.7 392.20,337.3 392.28,338.5 392.36,336.8 392.44,338.7 392.52,337.2 392.60,339.2 392.68,336.7 392.76,339.0 392.84,337.0 392.92,338.8 393.00,337.3 393.08,338.9 393.16,337.4 393.24,339.1 393.32,337.8 393.40,339.3 393.48,338.1 393.56,340.0 393.64,338.0 393.72,339.5 393.80,338.5 393.88,340.2 393.96,316.3 394.04,287.9 394.12,256.0 394.20,227.2 394.28,195.8 394.36,168.7 394.44,136.9 394.52,109.2 394.60,77.8 394.60,79.3 394.68,116.2 394.76,156.0 394.84,192.7 394.92,233.3 395.00,269.5 395.08,308.1 395.16,344.8 395.20,364.6 395.24,361.6 395.32,360.5 395.40,354.8 395.48,353.0 395.56,346.6 395.64,344.1 395.72,338.1 395.80,336.6 395.88,330.1 395.96,329.9 396.04,327.8 396.12,328.4 396.20,326.7 396.28,327.7 396.36,324.9 396.44,326.5 396.52,325.2 396.60,326.4 396.68,323.9 396.76,325.0 396.84,323.0 396.92,323.9 397.00,322.1 397.08,323.5 397.16,321.8 397.24,323.3 397.32,321.3 397.40,322.7 397.48,321.4 397.56,322.2 397.64,320.9 397.72,321.9 397.80,320.3 397.88,321.6 397.96,318.8 398.04,320.6 398.12,317.7 398.20,319.4 398.28,317.0 398.36,319.0 398.44,315.7 398.52,316.9 398.60,315.3 398.68,315.6 398.76,313.9 398.84,314.9 398.92,312.7 399.00,313.7 399.08,311.1 399.16,312.5 399.24,310.7 399.32,312.2 399.40,309.6 399.48,311.1 399.56,308.7 399.64,309.8 399.72,308.4 399.80,308.3 399.88,306.4 399.96,307.4 400.04,305.8 400.12,306.4 400.20,303.8 400.28,305.4 400.36,302.6 400.44,303.4 400.52,300.6 400.60,302.9 400.68,299.8 400.76,300.6 400.84,298.4 400.92,300.0 401.00,297.1 401.08,298.3 401.16,295.4 401.24,296.6 401.32,294.0 401.40,294.7 401.48,290.6 401.56,291.3 401.64,288.8 401.72,288.2 401.80,285.2 401.88,284.8 401.96,281.6 402.04,281.4 402.12,277.8 402.20,276.2 402.28,271.2 402.36,269.4 402.44,264.6 402.52,262.6 402.60,257.2 402.68,254.6 402.76,249.3 402.84,246.8 402.92,241.6 403.00,239.5 403.08,235.6 403.16,234.8 403.24,228.7 403.32,227.5 403.40,222.3 403.48,222.2 403.56,217.9 403.64,216.2 403.72,212.2 403.80,211.5 403.88,207.7 403.90,207.2 403.96,211.2 404.04,218.9 404.12,222.4 404.20,229.6 404.28,233.8 404.36,241.0 404.44,245.0 404.52,253.5 404.60,257.3 404.68,264.0 404.76,268.1 404.84,274.5 404.92,278.3 405.00,286.1 405.08,289.4 405.16,296.0 405.24,298.1 405.32,305.0 405.40,307.2 405.48,314.0 405.56,315.4 405.64,320.4 405.72,321.9 405.80,325.4 405.88,325.3 405.96,329.8 406.04,329.9 406.12,332.2 406.20,331.3 406.28,334.0 406.36,332.0 406.44,334.8 406.52,332.4 406.60,334.6 406.68,333.7 406.76,336.0 406.84,334.0 406.92,336.4 407.00,335.3 407.08,336.9 407.16,336.0 407.24,337.5 407.32,336.4 407.40,338.0 407.48,336.6 407.56,338.6 407.64,335.5 407.72,337.7 407.80,336.7 407.88,338.8 407.96,337.0 408.04,338.8 408.12,337.2 408.20,338.5 408.28,337.0 408.36,339.5 408.44,337.5 408.52,338.7 408.60,336.6 408.68,338.3 408.76,336.1 408.84,338.3 408.92,337.0 409.00,338.6 409.08,336.3 409.16,338.1 409.24,336.2 409.32,337.2 409.40,335.4 409.48,337.7 409.56,335.8 409.64,337.4 409.72,336.1 409.80,338.5 409.88,336.4 409.96,337.8 410.04,336.9 410.12,339.4 410.20,337.5 410.28,338.9 410.36,336.6 410.44,339.5 410.52,337.2 410.60,339.9 410.68,338.0 410.76,340.5 410.84,338.4 410.92,339.9 411.00,338.7 411.08,340.3 411.16,339.4 411.24,341.1 411.32,339.0 411.40,340.8 411.48,339.2 411.56,341.4 411.64,339.6 411.72,341.1 411.80,340.0 411.88,342.3 411.96,339.9 412.04,341.7 412.12,339.9 412.20,341.9 412.28,339.9 412.36,342.1 412.44,341.2 412.52,342.5 412.60,341.1 412.68,343.3 412.76,342.4 412.84,344.1 412.92,342.6 413.00,344.5 413.08,342.6 413.16,343.7 413.24,342.5 413.32,344.2 413.40,342.7 413.48,344.0 413.56,341.9 413.64,344.1 413.72,341.9 413.80,343.7 413.88,342.2 413.96,344.4 414.04,341.8 414.12,343.6 414.20,340.3 414.28,342.1 414.36,340.6 414.44,341.5 414.52,339.6 414.60,341.7 414.68,338.7 414.76,339.2 414.84,336.4 414.92,337.6 415.00,335.4 415.08,336.7 415.16,334.3 415.24,334.8 415.32,332.4 415.40,333.1 415.48,330.8 415.56,331.4 415.64,330.0 415.72,332.2 415.80,330.7 415.88,332.2 415.96,331.4 416.04,332.8 416.12,332.6 416.20,335.0 416.28,333.9 416.36,336.7 416.44,335.9 416.52,338.9 416.60,337.2 416.68,339.9 416.76,338.8 416.84,340.8 416.92,339.9 417.00,342.5 417.08,341.2 417.16,342.4 417.24,340.9 417.32,343.0 417.40,341.5 417.48,343.1 417.56,342.7 417.64,344.2 417.72,342.9 417.80,343.8 417.88,341.8 417.96,344.0 418.04,342.0 418.12,344.3 418.20,342.7 418.28,344.5 418.36,342.1 418.44,344.9 418.52,343.1 418.60,344.7 418.68,342.4 418.76,344.0 418.84,342.5 418.92,344.7 419.00,343.6 419.08,315.9 419.16,283.9 419.24,256.2 419.32,224.0 419.40,196.9 419.48,165.0 419.56,138.2 419.64,106.9 419.70,84.5 419.72,93.6 419.80,133.2 419.88,171.3 419.96,212.2 420.04,249.4 420.12,290.5 420.20,327.5 420.28,368.2 420.30,377.3 420.36,375.8 420.44,370.5 420.52,368.6 420.60,363.3 420.68,361.2 420.76,355.1 420.84,353.8 420.92,348.1 421.00,345.2 421.08,343.4 421.16,344.6 421.24,342.7 421.32,343.5 421.40,341.5 421.48,343.0 421.56,340.7 421.64,342.8 421.72,340.2 421.80,342.7 421.88,339.7 421.96,341.4 422.04,339.2 422.12,339.9 422.20,338.3 422.28,338.7 422.36,337.3 422.44,338.0 422.52,336.5 422.60,337.8 422.68,335.5 422.76,336.4 422.84,334.5 422.92,336.0 423.00,333.6 423.08,335.4 423.16,333.2 423.24,334.5 423.32,332.7 423.40,334.7 423.48,332.5 423.56,333.8 423.64,331.8 423.72,332.8 423.80,332.0 423.88,333.2 423.96,331.2 424.04,332.3 424.12,330.2 424.20,331.8 424.28,329.1 424.36,330.1 424.44,327.6 424.52,329.4 424.60,327.0 424.68,327.5 424.76,325.0 424.84,326.2 424.92,323.9 425.00,324.6 425.08,322.4 425.16,324.4 425.24,322.0 425.32,322.2 425.40,320.2 425.48,321.1 425.56,318.9 425.64,320.8 425.72,318.0 425.80,319.3 425.88,316.3 425.96,316.5 426.04,314.5 426.12,315.2 426.20,312.3 426.28,313.9 426.36,310.0 426.44,311.4 426.52,309.3 426.60,309.6 426.68,306.4 426.76,306.8 426.84,303.5 426.92,303.6 427.00,300.5 427.08,300.8 427.16,296.5 427.24,296.9 427.32,292.7 427.40,291.2 427.48,286.3 427.56,284.2 427.64,279.8 427.72,277.2 427.80,271.8 427.88,269.0 427.96,263.3 428.04,261.5 428.12,255.7 428.20,253.8 428.28,247.7 428.36,245.6 428.44,239.7 428.52,238.5 428.60,232.9 428.68,231.4 428.76,226.1 428.84,224.7 428.92,220.6 429.00,219.2 429.08,215.4 429.10,214.9 429.16,219.3 429.24,227.2 429.32,231.0 429.40,239.5 429.48,244.4 429.56,252.5 429.64,256.7 429.72,264.6 429.80,269.8 429.88,277.5 429.96,281.1 430.04,288.6 430.12,292.0 430.20,300.1 430.28,304.2 430.36,310.1 430.44,313.7 430.52,319.2 430.60,321.0 430.68,326.9 430.76,328.0 430.84,332.7 430.92,333.0 431.00,336.3 431.08,336.4 431.16,340.0 431.24,339.1 431.32,341.9 431.40,341.5 431.48,344.2 431.56,343.5 431.64,345.5 431.72,344.0 431.80,346.2 431.88,345.1 431.96,348.3 432.04,347.0 432.12,348.9 432.20,347.4 432.28,348.6 432.36,347.1 432.44,349.4 432.52,347.8 432.60,350.2 432.68,347.5 432.76,348.9 432.84,347.1 432.92,348.9 433.00,345.8 433.08,348.0 433.16,345.4 433.24,346.8 433.32,344.7 433.40,346.9 433.48,345.9 433.56,347.7 433.64,345.3 433.72,347.8 433.80,346.0 433.88,346.9 433.96,345.9 434.04,348.0 434.12,346.1 434.20,348.2 434.28,345.6 434.36,348.0 434.44,346.5 434.52,347.6 434.60,346.6 434.68,348.7 434.76,346.5 434.84,348.6 434.92,347.0 435.00,349.2 435.08,346.8 435.16,348.7 435.24,347.5 435.32,349.4 435.40,346.9 435.48,349.4 435.56,347.4 435.64,349.0 435.72,347.4 435.80,348.8 435.88,346.7 435.96,348.6 436.04,347.1 436.12,348.8 436.20,348.3 436.28,349.4 436.36,348.0 436.44,349.8 436.52,347.8 436.60,350.3 436.68,347.8 436.76,350.7 436.84,349.8 436.92,350.6 437.00,349.0 437.08,350.6 437.16,349.5 437.24,351.7 437.32,348.9 437.40,352.1 437.48,350.6 437.56,352.8 437.64,350.0 437.72,352.3 437.80,351.0 437.88,352.0 437.96,351.0 438.04,353.0 438.12,351.5 438.20,352.8 438.28,350.5 438.36,352.6 438.44,350.3 438.52,352.1 438.60,350.2 438.68,351.8 438.76,349.5 438.84,351.8 438.92,348.9 439.00,350.5 439.08,349.2 439.16,350.3 439.24,349.1 439.32,349.8 439.40,347.7 439.48,349.1 439.56,347.8 439.64,349.6 439.72,347.3 439.80,350.1 439.88,347.3 439.96,348.3 440.04,346.2 440.12,348.4 440.20,346.6 440.28,348.1 440.36,347.1 440.44,348.1 440.52,344.9 440.60,346.6 440.68,344.6 440.76,345.9 440.84,344.1 440.92,344.4 441.00,342.5 441.08,343.9 441.16,341.6 441.24,342.4 441.32,340.6 441.40,341.8 441.48,339.4 441.56,341.3 441.64,337.9 441.72,339.1 441.80,337.0 441.88,338.6 441.96,337.0 442.04,338.3 442.12,337.8 442.20,338.9 442.28,338.5 442.36,340.4 442.44,339.1 442.52,341.7 442.60,339.5 442.68,341.5 442.76,340.3 442.84,343.2 442.92,342.0 443.00,343.8 443.08,342.8 443.16,344.8 443.24,344.3 443.32,345.8 443.40,345.6 443.48,347.9 443.56,347.1 443.64,350.3 443.72,348.2 443.80,350.2 443.88,348.0 443.96,350.9 444.04,348.9 444.12,350.7 444.20,348.3 444.28,350.0 444.36,348.0 444.44,349.5 444.52,348.1 444.60,349.9 444.68,347.2 444.76,349.7 444.84,347.5 444.92,348.9 445.00,347.9 445.08,349.8 445.16,348.5 445.24,349.9 445.32,341.3 445.40,312.0 445.48,279.4 445.56,251.6 445.64,219.1 445.72,190.3 445.80,158.8 445.88,130.0 445.96,97.8 446.00,82.2 446.04,101.8 446.12,143.2 446.20,181.9 446.28,223.0 446.36,260.2 446.44,301.7 446.52,339.6 446.60,381.3 446.60,379.6 446.68,376.9 446.76,371.8 446.84,369.4 446.92,363.6 447.00,361.0 447.08,354.2 447.16,351.8 447.24,346.1 447.32,344.5 447.40,341.7 447.48,342.7 447.56,340.8 447.64,341.1 447.72,339.5 447.80,340.1 447.88,337.8 447.96,339.8 448.04,337.1 448.12,338.9 448.20,336.9 448.28,339.3 448.36,337.1 448.44,339.0 448.52,336.6 448.60,337.4 448.68,335.6 448.76,336.6 448.84,335.1 448.92,336.4 449.00,333.9 449.08,334.9 449.16,333.1 449.24,333.8 449.32,331.6 449.40,333.1 449.48,331.0 449.56,332.6 449.64,330.8 449.72,332.2 449.80,329.7 449.88,331.4 449.96,328.6 450.04,329.9 450.12,327.2 450.20,329.2 450.28,326.1 450.36,328.0 450.44,325.8 450.52,327.1 450.60,324.9 450.68,326.0 450.76,323.2 450.84,324.9 450.92,322.9 451.00,323.5 451.08,321.2 451.16,322.7 451.24,319.7 451.32,321.1 451.40,317.8 451.48,319.2 451.56,316.9 451.64,318.5 451.72,316.3 451.80,316.9 451.88,314.7 451.96,316.3 452.04,313.2 452.12,315.0 452.20,312.1 452.28,313.1 452.36,310.2 452.44,311.3 452.52,308.3 452.60,308.7 452.68,304.8 452.76,306.1 452.84,302.7 452.92,302.0 453.00,298.8 453.08,299.5 453.16,294.8 453.24,295.1 453.32,290.7 453.40,290.2 453.48,285.1 453.56,283.7 453.64,278.0 453.72,276.9 453.80,270.3 453.88,268.9 453.96,262.9 454.04,261.0 454.12,255.0 454.20,253.1 454.28,247.5 454.36,246.6 454.44,240.1 454.52,239.1 454.60,233.2 454.68,232.5 454.76,227.6 454.84,226.4 454.92,222.8 455.00,221.4 455.08,216.5 455.10,216.1 455.16,219.9 455.24,227.2 455.32,230.8 455.40,238.1 455.48,241.0 455.56,249.1 455.64,252.4 455.72,259.1 455.80,262.9 455.88,269.5 455.96,272.9 456.04,280.8 456.12,282.8 456.20,289.6 456.28,292.6 456.36,300.1 456.44,302.9 456.52,310.2 456.60,311.7 456.68,318.6 456.76,321.1 456.84,326.5 456.92,326.7 457.00,331.7 457.08,332.2 457.16,335.7 457.24,335.8 457.32,339.4 457.40,338.5 457.48,342.4 457.56,340.5 457.64,342.2 457.72,341.3 457.80,343.4 457.88,343.1 457.96,345.0 458.04,343.1 458.12,345.5 458.20,343.2 458.28,345.6 458.36,343.7 458.44,346.9 458.52,344.0 458.60,346.2 458.68,344.5 458.76,346.3 458.84,343.9 458.92,345.9 459.00,343.5 459.08,345.5 459.16,343.8 459.24,345.1 459.32,342.9 459.40,344.5 459.48,343.2 459.56,343.7 459.64,343.0 459.72,344.6 459.80,343.4 459.88,344.2 459.96,343.0 460.04,344.0 460.12,342.6 460.20,343.6 460.28,342.1 460.36,344.4 460.44,341.7 460.52,343.6 460.60,341.8 460.68,342.9 460.76,341.3 460.84,343.5 460.92,341.5 461.00,343.6 461.08,341.6 461.16,344.0 461.24,342.2 461.32,343.5 461.40,342.5 461.48,343.8 461.56,341.7 461.64,343.4 461.72,342.6 461.80,343.9 461.88,342.2 461.96,343.7 462.04,342.4 462.12,344.9 462.20,343.1 462.28,345.1 462.36,343.3 462.44,345.0 462.52,343.8 462.60,345.2 462.68,343.7 462.76,346.1 462.84,344.6 462.92,346.8 463.00,344.0 463.08,346.4 463.16,345.3 463.24,347.6 463.32,346.1 463.40,347.6 463.48,346.0 463.56,347.7 463.64,346.1 463.72,347.8 463.80,345.8 463.88,347.5 463.96,346.1 464.04,347.9 464.12,345.0 464.20,346.9 464.28,345.7 464.36,347.9 464.44,345.9 464.52,348.1 464.60,346.0 464.68,347.9 464.76,346.0 464.84,347.8 464.92,345.9 465.00,348.0 465.08,346.3 465.16,347.8 465.24,346.0 465.32,347.5 465.40,346.7 465.48,348.6 465.56,346.6 465.64,348.3 465.72,346.8 465.80,348.4 465.88,345.2 465.96,347.2 466.04,345.4 466.12,346.5 466.20,345.2 466.28,346.2 466.36,345.2 466.44,346.1 466.52,344.1 466.60,346.0 466.68,344.8 466.76,346.8 466.84,345.8 466.92,347.7 467.00,345.6 467.08,346.6 467.16,344.7 467.24,347.0 467.32,345.7 467.40,348.0 467.48,345.7 467.56,347.4 467.64,345.5 467.72,347.5 467.80,345.8 467.88,347.5 467.96,345.3 468.04,347.9 468.12,345.9 468.20,347.7 468.28,346.3 468.36,347.7 468.44,346.2 468.52,347.7 468.60,345.3 468.68,347.4 468.76,345.0 468.84,346.8 468.92,345.5 469.00,346.2 469.08,344.7 469.16,346.8 469.24,344.4 469.32,345.9 469.40,343.1 469.48,345.7 469.56,342.6 469.64,344.5 469.72,342.4 469.80,343.5 469.88,340.4 469.96,342.3 470.04,340.5 470.12,341.9 470.20,339.6 470.28,340.8 470.36,337.6 470.44,339.1 470.52,336.6 470.60,338.7 470.68,336.6 470.76,337.6 470.84,335.4 470.92,336.5 471.00,334.7 471.08,335.9 471.16,333.6 471.24,335.5 471.32,333.5 471.40,335.0 471.48,333.2 471.56,336.0 471.64,334.3 471.72,335.9 471.80,334.7 471.88,337.5 471.96,335.7 472.04,338.0 472.12,336.1 472.20,338.3 472.28,336.7 472.36,338.9 472.44,337.2 472.52,339.8 472.60,337.9 472.68,340.6 472.76,338.9 472.84,341.8 472.92,340.3 473.00,342.7 473.08,341.2 473.16,343.3 473.24,340.7 473.32,343.5 473.40,341.1 473.48,342.9 473.56,340.6 473.64,342.7 473.72,340.2 473.80,343.3 473.88,340.5 473.96,343.2 474.04,341.6 474.12,343.7 474.20,343.3 474.28,345.1 474.36,320.6 474.44,292.8 474.52,260.9 474.60,232.6 474.68,201.8 474.76,173.1 474.84,141.0 474.92,112.6 475.00,80.6 475.00,82.1 475.08,119.7 475.16,160.9 475.24,197.6 475.32,238.6 475.40,275.3 475.48,317.0 475.56,353.5 475.60,374.1 475.64,371.1 475.72,368.6 475.80,361.9 475.88,359.5 475.96,352.9 476.04,350.9 476.12,345.2 476.20,342.0 476.28,335.7 476.36,336.4 476.44,334.1 476.52,336.2 476.60,333.3 476.68,335.1 476.76,333.0 476.84,334.0 476.92,331.0 477.00,332.5 477.08,329.7 477.16,331.0 477.24,329.4 477.32,330.1 477.40,327.8 477.48,328.9 477.56,325.9 477.64,327.0 477.72,325.5 477.80,326.6 477.88,324.9 477.96,325.9 478.04,324.3 478.12,324.6 478.20,322.8 478.28,323.9 478.36,321.4 478.44,322.8 478.52,320.4 478.60,321.4 478.68,319.7 478.76,320.7 478.84,318.1 478.92,320.2 479.00,318.3 479.08,319.4 479.16,317.4 479.24,319.4 479.32,316.3 479.40,318.1 479.48,315.7 479.56,316.7 479.64,314.3 479.72,315.1 479.80,312.5 479.88,314.4 479.96,312.0 480.04,313.1 480.12,310.6 480.20,312.6 480.28,309.5 480.36,310.2 480.44,308.9 480.52,309.9 480.60,306.8 480.68,307.3 480.76,305.1 480.84,305.9 480.92,303.4 481.00,304.5 481.08,302.7 481.16,303.5 481.24,299.9 481.32,301.9 481.40,299.2 481.48,299.6 481.56,296.4 481.64,297.5 481.72,293.4 481.80,293.6 481.88,290.9 481.96,290.7 482.04,286.1 482.12,285.5 482.20,280.3 482.28,280.1 482.36,274.5 482.44,273.6 482.52,268.6 482.60,266.2 482.68,261.5 482.76,259.4 482.84,253.6 482.92,252.9 483.00,246.8 483.08,245.9 483.16,241.2 483.24,239.2 483.32,234.2 483.40,233.6 483.48,227.9 483.56,227.8 483.64,223.6 483.72,222.8 483.80,217.4 483.88,216.6 483.90,215.7 483.96,220.1 484.04,224.7 484.12,232.3 484.20,235.8 484.28,242.8 484.36,247.1 484.44,253.5 484.52,258.4 484.60,265.5 484.68,268.8 484.76,275.8 484.84,279.0 484.92,285.7 485.00,289.3 485.08,296.6 485.16,300.0 485.24,306.7 485.32,308.4 485.40,314.5 485.48,316.8 485.56,322.8 485.64,324.9 485.72,329.8 485.80,328.8 485.88,332.7 485.96,332.8 486.04,336.0 486.12,335.4 486.20,338.2 486.28,336.7 486.36,338.9 486.44,338.1 486.52,340.8 486.60,339.2 486.68,341.5 486.76,339.5 486.84,341.7 486.92,340.9 487.00,342.3 487.08,341.0 487.16,343.1 487.24,341.0 487.32,343.7 487.40,341.7 487.48,343.5 487.56,342.6 487.64,344.7 487.72,342.4 487.80,345.0 487.88,343.3 487.96,345.2 488.04,343.4 488.12,345.9 488.20,344.9 488.28,346.3 488.36,344.2 488.44,346.1 488.52,343.9 488.60,345.8 488.68,343.3 488.76,345.4 488.84,343.9 488.92,346.0 489.00,344.0 489.08,346.2 489.16,344.9 489.24,347.1 489.32,344.3 489.40,347.5 489.48,345.7 489.56,348.0 489.64,345.5 489.72,348.3 489.80,345.6 489.88,348.1 489.96,346.9 490.04,347.9 490.12,347.1 490.20,348.7 490.28,346.7 490.36,348.8 490.44,346.5 490.52,348.9 490.60,347.2 490.68,348.9 490.76,346.5 490.84,348.8 490.92,347.0 491.00,348.5 491.08,346.6 491.16,348.2 491.24,345.6 491.32,347.6 491.40,345.9 491.48,347.6 491.56,345.1 491.64,348.5 491.72,346.5 491.80,348.4 491.88,346.3 491.96,348.4 492.04,346.8 492.12,348.5 492.20,347.4 492.28,348.9 492.36,347.7 492.44,350.0 492.52,348.1 492.60,349.8 492.68,347.6 492.76,349.6 492.84,346.8 492.92,349.9 493.00,347.5 493.08,349.7 493.16,347.7 493.24,349.2 493.32,347.6 493.40,349.8 493.48,348.2 493.56,350.3 493.64,348.3 493.72,350.2 493.80,349.1 493.88,350.5 493.96,348.5 494.04,351.0 494.12,349.0 494.20,350.7 494.28,349.2 494.36,350.9 494.44,348.8 494.52,350.8 494.60,348.5 494.68,350.8 494.76,348.9 494.84,350.4 494.92,349.6 495.00,350.5 495.08,348.8 495.16,350.4 495.24,348.0 495.32,349.9 495.40,346.8 495.48,349.0 495.56,346.3 495.64,348.5 495.72,346.1 495.80,347.9 495.88,346.0 495.96,348.2 496.04,347.0 496.12,348.7 496.20,347.4 496.28,349.1 496.36,347.6 496.44,348.9 496.52,347.3 496.60,348.8 496.68,347.3 496.76,348.8 496.84,346.8 496.92,348.3 497.00,346.3 497.08,348.4 497.16,346.9 497.24,348.9 497.32,346.7 497.40,348.3 497.48,347.2 497.56,348.7 497.64,347.5 497.72,348.2 497.80,346.3 497.88,347.5 497.96,345.5 498.04,346.7 498.12,345.4 498.20,345.7 498.28,344.4 498.36,344.9 498.44,342.8 498.52,344.9 498.60,341.8 498.68,342.9 498.76,340.0 498.84,341.9 498.92,339.0 499.00,341.1 499.08,337.9 499.16,339.9 499.24,337.8 499.32,340.0 499.40,337.6 499.48,339.0 499.56,337.7 499.64,339.9 499.72,338.9 499.80,341.3 499.88,339.5 499.96,341.6 500.04,340.0 500.12,342.3 500.20,341.7 500.28,343.7 500.36,342.4 500.44,344.3 500.52,342.8 500.60,344.8 500.68,344.3 500.76,345.8 500.84,344.9 500.92,346.8 501.00,344.1 501.08,347.1 501.16,345.0 501.24,346.8 501.32,345.3 501.40,346.6 501.48,344.6 501.56,346.9 501.64,346.5 501.72,348.3 501.80,346.2 501.88,348.6 501.96,347.2 502.04,333.8 502.12,301.5 502.20,272.8 502.28,241.8 502.36,212.1 502.44,180.5 502.52,151.8 502.60,120.2 502.68,92.3 502.70,82.0 502.76,114.0 502.84,151.9 502.92,193.2 503.00,230.0 503.08,271.6 503.16,309.2 503.24,349.6 503.30,377.4 503.32,378.1 503.40,371.8 503.48,369.4 503.56,363.0 503.64,360.9 503.72,353.8 503.80,351.0 503.88,344.9 503.96,342.8 504.04,338.8 504.12,339.3 504.20,337.0 504.28,339.1 504.36,335.9 504.44,337.9 504.52,335.2 504.60,336.9 504.68,335.4 504.76,336.2 504.84,334.0 504.92,334.7 505.00,332.2 505.08,332.4 505.16,330.1 505.24,331.6 505.32,329.3 505.40,329.9 505.48,327.8 505.56,329.1 505.64,327.3 505.72,329.4 505.80,327.1 505.88,327.7 505.96,326.0 506.04,326.4 506.12,325.0 506.20,326.9 506.28,323.9 506.36,326.0 506.44,323.1 506.52,324.4 506.60,322.6 506.68,324.7 506.76,321.5 506.84,323.3 506.92,320.1 507.00,321.8 507.08,319.0 507.16,319.9 507.24,317.2 507.32,319.5 507.40,316.0 507.48,317.2 507.56,315.1 507.64,315.7 507.72,314.1 507.80,315.8 507.88,313.1 507.96,314.3 508.04,312.0 508.12,313.1 508.20,309.7 508.28,311.0 508.36,307.8 508.44,309.2 508.52,306.6 508.60,306.7 508.68,305.1 508.76,306.6 508.84,302.9 508.92,304.8 509.00,301.5 509.08,301.9 509.16,299.3 509.24,300.2 509.32,296.3 509.40,296.6 509.48,292.4 509.56,291.5 509.64,286.9 509.72,286.2 509.80,281.4 509.88,280.2 509.96,274.1 510.04,273.3 510.12,268.0 510.20,266.3 510.28,260.5 510.36,258.3 510.44,252.9 510.52,252.2 510.60,247.4 510.68,246.4 510.76,240.8 510.84,239.2 510.92,235.1 511.00,234.5 511.08,229.2 511.16,228.4 511.24,224.0 511.32,223.4 511.40,220.0 511.40,220.2 511.48,226.1 511.56,233.5 511.64,236.9 511.72,245.0 511.80,248.9 511.88,257.4 511.96,261.9 512.04,269.2 512.12,273.8 512.20,281.1 512.28,284.9 512.36,292.0 512.44,295.2 512.52,303.1 512.60,306.5 512.68,313.7 512.76,315.5 512.84,321.7 512.92,322.5 513.00,328.3 513.08,329.2 513.16,333.9 513.24,333.9 513.32,338.1 513.40,337.0 513.48,339.8 513.56,339.4 513.64,342.8 513.72,341.1 513.80,343.9 513.88,342.7 513.96,345.0 514.04,343.4 514.12,346.5 514.20,344.6 514.28,347.1 514.36,345.6 514.44,347.9 514.52,345.1 514.60,348.1 514.68,346.1 514.76,347.5 514.84,344.9 514.92,346.9 515.00,344.8 515.08,347.0 515.16,344.5 515.24,346.0 515.32,345.0 515.40,345.6 515.48,344.3 515.56,345.7 515.64,343.8 515.72,346.5 515.80,344.4 515.88,345.7 515.96,343.3 516.04,345.3 516.12,343.4 516.20,345.3 516.28,343.2 516.36,344.3 516.44,342.3 516.52,343.5 516.60,341.8 516.68,343.4 516.76,341.8 516.84,344.3 516.92,342.0 517.00,344.4 517.08,342.0 517.16,344.7 517.24,343.1 517.32,345.3 517.40,343.7 517.48,345.5 517.56,344.0 517.64,345.5 517.72,344.0 517.80,345.6 517.88,344.1 517.96,346.0 518.04,345.0 518.12,345.9 518.20,343.9 518.28,346.6 518.36,345.1 518.44,346.0 518.52,344.2 518.60,345.9 518.68,345.1 518.76,346.8 518.84,345.2 518.92,347.7 519.00,345.8 519.08,347.0 519.16,346.2 519.24,348.4 519.32,347.0 519.40,348.6 519.48,346.5 519.56,349.1 519.64,347.0 519.72,348.2 519.80,346.8 519.88,348.8 519.96,347.7 520.04,349.4 520.12,348.0 520.20,350.2 520.28,347.2 520.36,349.2 520.44,347.4 520.52,349.3 520.60,348.4 520.68,350.0 520.76,346.6 520.84,348.7 520.92,346.6 521.00,348.2 521.08,345.7 521.16,347.5 521.24,346.0 521.32,347.0 521.40,345.2 521.48,346.9 521.56,344.1 521.64,345.8 521.72,343.5 521.80,345.8 521.88,342.7 521.96,344.2 522.04,342.4 522.12,342.8 522.20,341.1 522.28,343.0 522.36,340.9 522.44,341.8 522.52,340.2 522.60,341.4 522.68,339.4 522.76,340.5 522.84,337.8 522.92,339.5 523.00,337.5 523.08,339.3 523.16,337.7 523.24,339.7 523.32,338.0 523.40,339.7 523.48,337.9 523.56,340.7 523.64,338.6 523.72,341.2 523.80,339.1 523.88,341.3 523.96,339.9 524.04,342.2 524.12,341.3 524.20,344.6 524.28,343.1 524.36,346.0 524.44,343.8 524.52,346.4 524.60,345.1 524.68,347.0 524.76,345.3 524.84,347.1 524.92,345.6 525.00,347.5 525.08,346.7 525.16,349.0 525.24,347.0 525.32,349.3 525.40,347.7 525.48,349.5 525.56,348.2 525.64,350.3 525.72,348.8 525.80,351.3 525.88,348.4 525.96,350.9 526.04,349.1 526.12,351.1 526.20,349.2 526.28,350.8 526.36,349.2 526.44,335.0 526.52,303.4 526.60,274.5 526.68,242.0 526.76,212.6 526.84,180.4 526.92,151.5 527.00,118.5 527.08,90.0 527.10,81.8 527.16,112.9 527.24,150.1 527.32,192.4 527.40,230.5 527.48,273.6 527.56,311.3 527.64,353.1 527.70,382.0 527.72,381.3 527.80,374.9 527.88,372.4 527.96,364.9 528.04,361.3 528.12,355.1 528.20,351.6 528.28,344.0 528.36,340.9 528.44,337.7 528.52,338.7 528.60,336.1 528.68,336.7 528.76,335.4 528.84,336.2 528.92,334.8 529.00,335.2 529.08,333.6 529.16,333.8 529.24,330.4 529.32,331.8 529.40,329.1 529.48,330.3 529.56,328.2 529.64,328.8 529.72,327.1 529.80,328.6 529.88,325.5 529.96,327.4 530.04,324.7 530.12,326.9 530.20,323.9 530.28,325.4 530.36,323.0 530.44,324.7 530.52,322.6 530.60,323.4 530.68,321.7 530.76,322.5 530.84,319.7 530.92,321.2 531.00,319.3 531.08,319.6 531.16,317.7 531.24,318.5 531.32,317.0 531.40,318.0 531.48,315.3 531.56,316.7 531.64,314.6 531.72,316.1 531.80,312.3 531.88,313.4 531.96,311.3 532.04,312.5 532.12,310.2 532.20,311.4 532.28,309.3 532.36,310.4 532.44,308.1 532.52,309.0 532.60,306.4 532.68,307.7 532.76,305.5 532.84,306.1 532.92,303.6 533.00,303.9 533.08,301.5 533.16,302.1 533.24,298.7 533.32,299.3 533.40,296.5 533.48,297.2 533.56,293.1 533.64,292.4 533.72,288.5 533.80,287.8 533.88,282.9 533.96,282.0 534.04,278.1 534.12,277.0 534.20,272.2 534.28,271.0 534.36,266.1 534.44,264.4 534.52,258.4 534.60,258.0 534.68,253.4 534.76,251.4 534.84,247.2 534.92,245.1 535.00,239.9 535.08,239.5 535.16,235.2 535.24,233.9 535.32,229.8 535.40,229.5 535.48,225.3 535.56,223.3 535.60,221.9 535.64,225.2 535.72,231.0 535.80,239.3 535.88,243.3 535.96,251.6 536.04,255.7 536.12,263.6 536.20,267.5 536.28,276.0 536.36,278.9 536.44,286.5 536.52,290.7 536.60,297.4 536.68,300.8 536.76,308.0 536.84,311.2 536.92,317.5 537.00,319.9 537.08,325.6 537.16,327.7 537.24,332.0 537.32,332.8 537.40,337.0 537.48,337.2 537.56,340.6 537.64,340.8 537.72,343.4 537.80,342.4 537.88,345.4 537.96,344.7 538.04,346.9 538.12,346.3 538.20,348.2 538.28,346.4 538.36,349.8 538.44,347.5 538.52,350.0 538.60,348.4 538.68,349.9 538.76,348.2 538.84,349.5 538.92,347.8 539.00,349.1 539.08,346.5 539.16,348.4 539.24,347.3 539.32,348.1 539.40,346.4 539.48,348.1 539.56,346.4 539.64,347.3 539.72,344.9 539.80,347.4 539.88,346.2 539.96,347.7 540.04,346.0 540.12,347.8 540.20,345.3 540.28,347.9 540.36,346.1 540.44,348.5 540.52,346.1 540.60,348.1 540.68,345.9 540.76,348.8 540.84,346.2 540.92,348.0 541.00,345.9 541.08,347.6 541.16,346.7 541.24,348.7 541.32,347.0 541.40,349.3 541.48,346.8 541.56,349.1 541.64,346.7 541.72,349.1 541.80,347.3 541.88,349.5 541.96,347.7 542.04,349.8 542.12,348.1 542.20,349.8 542.28,347.1 542.36,349.8 542.44,347.7 542.52,349.4 542.60,347.7 542.68,349.2 542.76,348.0 542.84,350.0 542.92,347.1 543.00,349.6 543.08,347.1 543.16,349.2 543.24,347.5 543.32,350.5 543.40,348.0 543.48,350.7 543.56,348.2 543.64,350.7 543.72,348.6 543.80,350.1 543.88,349.2 543.96,350.9 544.04,348.9 544.12,350.5 544.20,348.4 544.28,349.9 544.36,347.1 544.44,349.7 544.52,348.5 544.60,349.9 544.68,347.6 544.76,350.0 544.84,348.1 544.92,349.6 545.00,347.7 545.08,350.5 545.16,347.5 545.24,349.6 545.32,347.4 545.40,349.8 545.48,347.8 545.56,349.6 545.64,348.7 545.72,349.7 545.80,349.0 545.88,350.2 545.96,349.2 546.04,351.4 546.12,349.3 546.20,351.6 546.28,350.2 546.36,352.4 546.44,349.5 546.52,352.5 546.60,350.7 546.68,351.8 546.76,349.4 546.84,351.4 546.92,349.7 547.00,352.0 547.08,349.3 547.16,350.1 547.24,349.2 547.32,350.9 547.40,349.0 547.48,350.7 547.56,349.4 547.64,350.7 547.72,349.2 547.80,350.3 547.88,348.3 547.96,350.9 548.04,348.6 548.12,351.2 548.20,349.5 548.28,350.7 548.36,349.0 548.44,350.3 548.52,348.3 548.60,350.6 548.68,349.1 548.76,350.3 548.84,349.5 548.92,351.0 549.00,348.6 549.08,351.2 549.16,349.4 549.24,351.1 549.32,349.4 549.40,351.1 549.48,348.7 549.56,350.8 549.64,348.7 549.72,349.9 549.80,347.6 549.88,349.3 549.96,347.7 550.04,349.2 550.12,347.8 550.20,349.5 550.28,346.5 550.36,348.3 550.44,345.6 550.52,347.1 550.60,345.7 550.68,346.1 550.76,344.5 550.84,345.1 550.92,343.9 551.00,344.9 551.08,342.9 551.16,344.7 551.24,343.1 551.32,344.5 551.40,341.3 551.48,343.4 551.56,340.7 551.64,341.9 551.72,339.9 551.80,341.5 551.88,339.7 551.96,341.2 552.04,338.8 552.12,341.5 552.20,340.0 552.28,342.3 552.36,340.5 552.44,343.2 552.52,341.5 552.60,343.0 552.68,341.1 552.76,343.7 552.84,342.2 552.92,343.5 553.00,342.4 553.08,345.3 553.16,343.0 553.24,346.1 553.32,344.5 553.40,346.8 553.48,345.8 553.56,347.2 553.64,345.6 553.72,348.6 553.80,346.5 553.88,347.9 553.96,345.4 554.04,346.9 554.12,345.5 554.20,347.0 554.28,345.8 554.36,347.3 554.44,345.9 554.52,348.2 554.60,346.8 554.68,348.2 554.76,346.5 554.84,349.2 554.92,348.4 555.00,350.4 555.08,348.6 555.16,328.2 555.24,295.4 555.32,266.6 555.40,233.6 555.48,204.8 555.56,173.0 555.64,143.6 555.72,112.1 555.80,83.0 555.80,81.9 555.88,123.5 555.96,161.7 556.04,203.5 556.12,241.8 556.20,284.0 556.28,322.5 556.36,364.9 556.40,384.0 556.44,381.7 556.52,374.8 556.60,372.1 556.68,366.4 556.76,363.9 556.84,356.7 556.92,355.1 557.00,348.3 557.08,345.7 557.16,342.9 557.24,343.8 557.32,342.5 557.40,343.0 557.48,341.3 557.56,342.1 557.64,340.6 557.72,341.7 557.80,338.7 557.88,340.2 557.96,337.4 558.04,339.0 558.12,336.9 558.20,338.2 558.28,336.1 558.36,337.7 558.44,334.6 558.52,336.0 558.60,334.4 558.68,335.6 558.76,333.5 558.84,335.4 558.92,332.6 559.00,334.0 559.08,332.2 559.16,334.0 559.24,331.4 559.32,333.4 559.40,330.4 559.48,332.3 559.56,330.1 559.64,331.5 559.72,329.1 559.80,330.8 559.88,328.8 559.96,329.4 560.04,326.7 560.12,327.6 560.20,326.0 560.28,325.6 560.36,323.5 560.44,324.3 560.52,322.6 560.60,324.4 560.68,321.9 560.76,323.1 560.84,320.9 560.92,322.3 561.00,320.1 561.08,321.3 561.16,318.4 561.24,320.2 561.32,317.2 561.40,317.7 561.48,315.3 561.56,317.0 561.64,312.9 561.72,314.0 561.80,311.7 561.88,313.1 561.96,311.1 562.04,311.7 562.12,309.6 562.20,310.7 562.28,307.7 562.36,308.7 562.44,304.9 562.52,305.8 562.60,303.4 562.68,302.4 562.76,299.4 562.84,298.8 562.92,295.2 563.00,294.4 563.08,290.1 563.16,288.7 563.24,284.1 563.32,283.7 563.40,277.5 563.48,276.0 563.56,270.3 563.64,268.5 563.72,262.5 563.80,261.1 563.88,255.5 563.96,254.8 564.04,248.9 564.12,247.9 564.20,243.4 564.28,242.7 564.36,238.4 564.44,237.4 564.52,233.9 564.60,232.2 564.68,228.7 564.76,226.6 564.80,225.0 564.84,228.0 564.92,232.9 565.00,240.0 565.08,243.1 565.16,250.1 565.24,254.3 565.32,261.3 565.40,264.7 565.48,272.2 565.56,275.0 565.64,282.1 565.72,285.3 565.80,291.9 565.88,294.5 565.96,301.3 566.04,303.5 566.12,310.1 566.20,312.5 566.28,318.5 566.36,320.7 566.44,325.6 566.52,327.4 566.60,331.7 566.68,331.9 566.76,336.3 566.84,336.3 566.92,339.5 567.00,339.6 567.08,342.2 567.16,341.3 567.24,343.7 567.32,343.8 567.40,346.6 567.48,344.7 567.56,347.8 567.64,346.8 567.72,348.7 567.80,347.2 567.88,351.0 567.96,349.3 568.04,351.3 568.12,349.2 568.20,352.4 568.28,350.0 568.36,352.9 568.44,350.7 568.52,353.2 568.60,351.9 568.68,353.5 568.76,352.4 568.84,354.6 568.92,352.3 569.00,354.3 569.08,353.3 569.16,354.8 569.24,353.3 569.32,355.2 569.40,353.6 569.48,355.5 569.56,353.5 569.64,355.8 569.72,352.9 569.80,355.5 569.88,352.6 569.96,354.6 570.04,352.9 570.12,354.0 570.20,351.4 570.28,353.6 570.36,350.9 570.44,353.0 570.52,350.7 570.60,352.8 570.68,350.7 570.76,352.9 570.84,350.7 570.92,353.7 571.00,350.6 571.08,352.8 571.16,350.7 571.24,352.4 571.32,350.4 571.40,352.6 571.48,349.8 571.56,352.5 571.64,349.8 571.72,351.7 571.80,349.1 571.88,351.3 571.96,349.2 572.04,350.2 572.12,348.7 572.20,351.4 572.28,348.4 572.36,350.6 572.44,348.5 572.52,351.1 572.60,348.7 572.68,350.6 572.76,348.8 572.84,350.3 572.92,348.2 573.00,350.0 573.08,348.6 573.16,349.3 573.24,347.1 573.32,348.1 573.40,346.0 573.48,347.9 573.56,346.1 573.64,348.4 573.72,346.2 573.80,348.0 573.88,346.8 573.96,348.5 574.04,346.2 574.12,348.5 574.20,347.1 574.28,349.1 574.36,347.1 574.44,347.8 574.52,345.7 574.60,347.2 574.68,345.7 574.76,347.6 574.84,345.6 574.92,347.0 575.00,344.1 575.08,346.0 575.16,343.4 575.24,345.1 575.32,343.4 575.40,345.4 575.48,343.8 575.56,345.6 575.64,343.5 575.72,345.5 575.80,343.1 575.88,344.5 575.96,342.5 576.04,344.1 576.12,341.2 576.20,343.5 576.28,341.3 576.36,342.4 576.44,340.5 576.52,342.7 576.60,341.3 576.68,343.1 576.76,340.8 576.84,343.8 576.92,342.2 577.00,343.4 577.08,341.3 577.16,343.5 577.24,341.8 577.32,342.5 577.40,341.4 577.48,343.2 577.56,340.6 577.64,342.6 577.72,340.4 577.80,342.6 577.88,341.0 577.96,342.2 578.04,340.8 578.12,342.4 578.20,340.3 578.28,341.8 578.36,340.7 578.44,341.7 578.52,339.0 578.60,341.7 578.68,339.8 578.76,341.4 578.84,339.4 578.92,340.3 579.00,338.4 579.08,341.5 579.16,339.2 579.24,340.4 579.32,338.8 579.40,339.9 579.48,338.9 579.56,339.9 579.64,338.4 579.72,340.6 579.80,338.5 579.88,340.7 579.96,338.1 580.04,340.1 580.12,338.3 580.20,339.6 580.28,336.7 580.36,339.4 580.44,337.2 580.52,338.1 580.60,336.1 580.68,338.5 580.76,336.8 580.84,338.2 580.92,336.8 581.00,338.5 581.08,336.6 581.16,338.1" fill="none" stroke="#ff00ff" stroke-width="1.05" stroke-linejoin="round"/>
</g>
<g id="axes" shape-rendering="crispEdges">
<rect x="91.5" y="39.5" width="543.0" height="428.0" fill="none" stroke="#262626" stroke-width="1"/>
<line x1="91.50" y1="467.5" x2="91.50" y2="462.1" stroke="#262626" stroke-width="1" shape-rendering="crispEdges"/>
<line x1="91.50" y1="39.5" x2="91.50" y2="44.9" stroke="#262626" stroke-width="1" shape-rendering="crispEdges"/>
<text transform="translate(91.00,491) scale(1.08,1.03)" text-anchor="middle" class="tick">0</text>
<line x1="145.80" y1="467.5" x2="145.80" y2="462.1" stroke="#262626" stroke-width="1" shape-rendering="auto"/>
<line x1="145.80" y1="39.5" x2="145.80" y2="44.9" stroke="#262626" stroke-width="1" shape-rendering="auto"/>
<text transform="translate(145.30,491) scale(1.08,1.03)" text-anchor="middle" class="tick">2</text>
<line x1="200.10" y1="467.5" x2="200.10" y2="462.1" stroke="#262626" stroke-width="1" shape-rendering="auto"/>
<line x1="200.10" y1="39.5" x2="200.10" y2="44.9" stroke="#262626" stroke-width="1" shape-rendering="auto"/>
<text transform="translate(199.60,491) scale(1.08,1.03)" text-anchor="middle" class="tick">4</text>
<line x1="254.40" y1="467.5" x2="254.40" y2="462.1" stroke="#262626" stroke-width="1" shape-rendering="auto"/>
<line x1="254.40" y1="39.5" x2="254.40" y2="44.9" stroke="#262626" stroke-width="1" shape-rendering="auto"/>
<text transform="translate(253.90,491) scale(1.08,1.03)" text-anchor="middle" class="tick">6</text>
<line x1="308.70" y1="467.5" x2="308.70" y2="462.1" stroke="#262626" stroke-width="1" shape-rendering="auto"/>
<line x1="308.70" y1="39.5" x2="308.70" y2="44.9" stroke="#262626" stroke-width="1" shape-rendering="auto"/>
<text transform="translate(308.20,491) scale(1.08,1.03)" text-anchor="middle" class="tick">8</text>
<line x1="363.00" y1="467.5" x2="363.00" y2="462.1" stroke="#262626" stroke-width="1" shape-rendering="auto"/>
<line x1="363.00" y1="39.5" x2="363.00" y2="44.9" stroke="#262626" stroke-width="1" shape-rendering="auto"/>
<text transform="translate(362.50,491) scale(1.08,1.03)" text-anchor="middle" class="tick">10</text>
<line x1="417.30" y1="467.5" x2="417.30" y2="462.1" stroke="#262626" stroke-width="1" shape-rendering="auto"/>
<line x1="417.30" y1="39.5" x2="417.30" y2="44.9" stroke="#262626" stroke-width="1" shape-rendering="auto"/>
<text transform="translate(416.80,491) scale(1.08,1.03)" text-anchor="middle" class="tick">12</text>
<line x1="471.60" y1="467.5" x2="471.60" y2="462.1" stroke="#262626" stroke-width="1" shape-rendering="auto"/>
<line x1="471.60" y1="39.5" x2="471.60" y2="44.9" stroke="#262626" stroke-width="1" shape-rendering="auto"/>
<text transform="translate(471.10,491) scale(1.08,1.03)" text-anchor="middle" class="tick">14</text>
<line x1="525.90" y1="467.5" x2="525.90" y2="462.1" stroke="#262626" stroke-width="1" shape-rendering="auto"/>
<line x1="525.90" y1="39.5" x2="525.90" y2="44.9" stroke="#262626" stroke-width="1" shape-rendering="auto"/>
<text transform="translate(525.40,491) scale(1.08,1.03)" text-anchor="middle" class="tick">16</text>
<line x1="580.20" y1="467.5" x2="580.20" y2="462.1" stroke="#262626" stroke-width="1" shape-rendering="auto"/>
<line x1="580.20" y1="39.5" x2="580.20" y2="44.9" stroke="#262626" stroke-width="1" shape-rendering="auto"/>
<text transform="translate(579.70,491) scale(1.08,1.03)" text-anchor="middle" class="tick">18</text>
<line x1="634.50" y1="467.5" x2="634.50" y2="462.1" stroke="#262626" stroke-width="1" shape-rendering="crispEdges"/>
<line x1="634.50" y1="39.5" x2="634.50" y2="44.9" stroke="#262626" stroke-width="1" shape-rendering="crispEdges"/>
<text transform="translate(634.00,491) scale(1.08,1.03)" text-anchor="middle" class="tick">20</text>
<line x1="91.5" y1="39.50" x2="96.9" y2="39.50" stroke="#262626" stroke-width="1" shape-rendering="auto"/>
<line x1="634.5" y1="39.50" x2="629.1" y2="39.50" stroke="#262626" stroke-width="1" shape-rendering="auto"/>
<text transform="translate(84.8,44.80) scale(1.13,1)" text-anchor="end" class="tick">2.5</text>
<line x1="91.5" y1="93.00" x2="96.9" y2="93.00" stroke="#262626" stroke-width="1" shape-rendering="auto"/>
<line x1="634.5" y1="93.00" x2="629.1" y2="93.00" stroke="#262626" stroke-width="1" shape-rendering="auto"/>
<text transform="translate(84.8,98.30) scale(1.13,1)" text-anchor="end" class="tick">2</text>
<line x1="91.5" y1="146.50" x2="96.9" y2="146.50" stroke="#262626" stroke-width="1" shape-rendering="auto"/>
<line x1="634.5" y1="146.50" x2="629.1" y2="146.50" stroke="#262626" stroke-width="1" shape-rendering="auto"/>
<text transform="translate(84.8,151.80) scale(1.13,1)" text-anchor="end" class="tick">1.5</text>
<line x1="91.5" y1="200.00" x2="96.9" y2="200.00" stroke="#262626" stroke-width="1" shape-rendering="auto"/>
<line x1="634.5" y1="200.00" x2="629.1" y2="200.00" stroke="#262626" stroke-width="1" shape-rendering="auto"/>
<text transform="translate(84.8,205.30) scale(1.13,1)" text-anchor="end" class="tick">1</text>
<line x1="91.5" y1="253.50" x2="96.9" y2="253.50" stroke="#262626" stroke-width="1" shape-rendering="auto"/>
<line x1="634.5" y1="253.50" x2="629.1" y2="253.50" stroke="#262626" stroke-width="1" shape-rendering="auto"/>
<text transform="translate(84.8,258.80) scale(1.13,1)" text-anchor="end" class="tick">0.5</text>
<line x1="91.5" y1="307.00" x2="96.9" y2="307.00" stroke="#262626" stroke-width="1" shape-rendering="auto"/>
<line x1="634.5" y1="307.00" x2="629.1" y2="307.00" stroke="#262626" stroke-width="1" shape-rendering="auto"/>
<text transform="translate(84.8,312.30) scale(1.13,1)" text-anchor="end" class="tick">0</text>
<line x1="91.5" y1="360.50" x2="96.9" y2="360.50" stroke="#262626" stroke-width="1" shape-rendering="auto"/>
<line x1="634.5" y1="360.50" x2="629.1" y2="360.50" stroke="#262626" stroke-width="1" shape-rendering="auto"/>
<text transform="translate(84.8,365.80) scale(1.13,1)" text-anchor="end" class="tick"><tspan class="mn">-</tspan>0.5</text>
<line x1="91.5" y1="414.00" x2="96.9" y2="414.00" stroke="#262626" stroke-width="1" shape-rendering="auto"/>
<line x1="634.5" y1="414.00" x2="629.1" y2="414.00" stroke="#262626" stroke-width="1" shape-rendering="auto"/>
<text transform="translate(84.8,419.30) scale(1.13,1)" text-anchor="end" class="tick"><tspan class="mn">-</tspan>1</text>
<line x1="91.5" y1="467.50" x2="96.9" y2="467.50" stroke="#262626" stroke-width="1" shape-rendering="auto"/>
<line x1="634.5" y1="467.50" x2="629.1" y2="467.50" stroke="#262626" stroke-width="1" shape-rendering="auto"/>
<text transform="translate(84.8,472.80) scale(1.13,1)" text-anchor="end" class="tick"><tspan class="mn">-</tspan>1.5</text>
</g>
<text x="364.3" y="32" text-anchor="middle" class="ttl" xml:space="preserve">ECG信号基线漂移去除对比： 113记录</text>
<text x="362.3" y="516" text-anchor="middle" class="lab">时间 (s)</text>
<text transform="translate(46,253.8) rotate(-90)" text-anchor="middle" class="lab">幅值</text>
<g id="legend">
<rect x="437.5" y="52.5" width="184" height="67" fill="#ffffff" stroke="#262626" stroke-width="1"/>
<line x1="442" y1="65.1" x2="493" y2="65.1" stroke="#0000ff" stroke-width="1.3" stroke-opacity="0.8"/>
<line x1="442" y1="86.0" x2="493" y2="86.0" stroke="#00ff00" stroke-width="1.3" stroke-opacity="0.8"/>
<line x1="442" y1="106.9" x2="493" y2="106.9" stroke="#ff00ff" stroke-width="1.3" stroke-opacity="0.8"/>
<text x="496.4" y="70.3" class="leg">原始信号</text>
<text x="496.4" y="91.2" class="leg">硬阈值去基线信号</text>
<text x="496.4" y="111.7" class="leg">软阈值去基线信号</text>
</g>
<text transform="translate(526.2,517.2) scale(0.745,1)" class="wm">CSDN @</text>
<text x="570.3" y="517.2" class="wm wmc">刘小小_算法工程师</text>
</svg>
</body></html>
